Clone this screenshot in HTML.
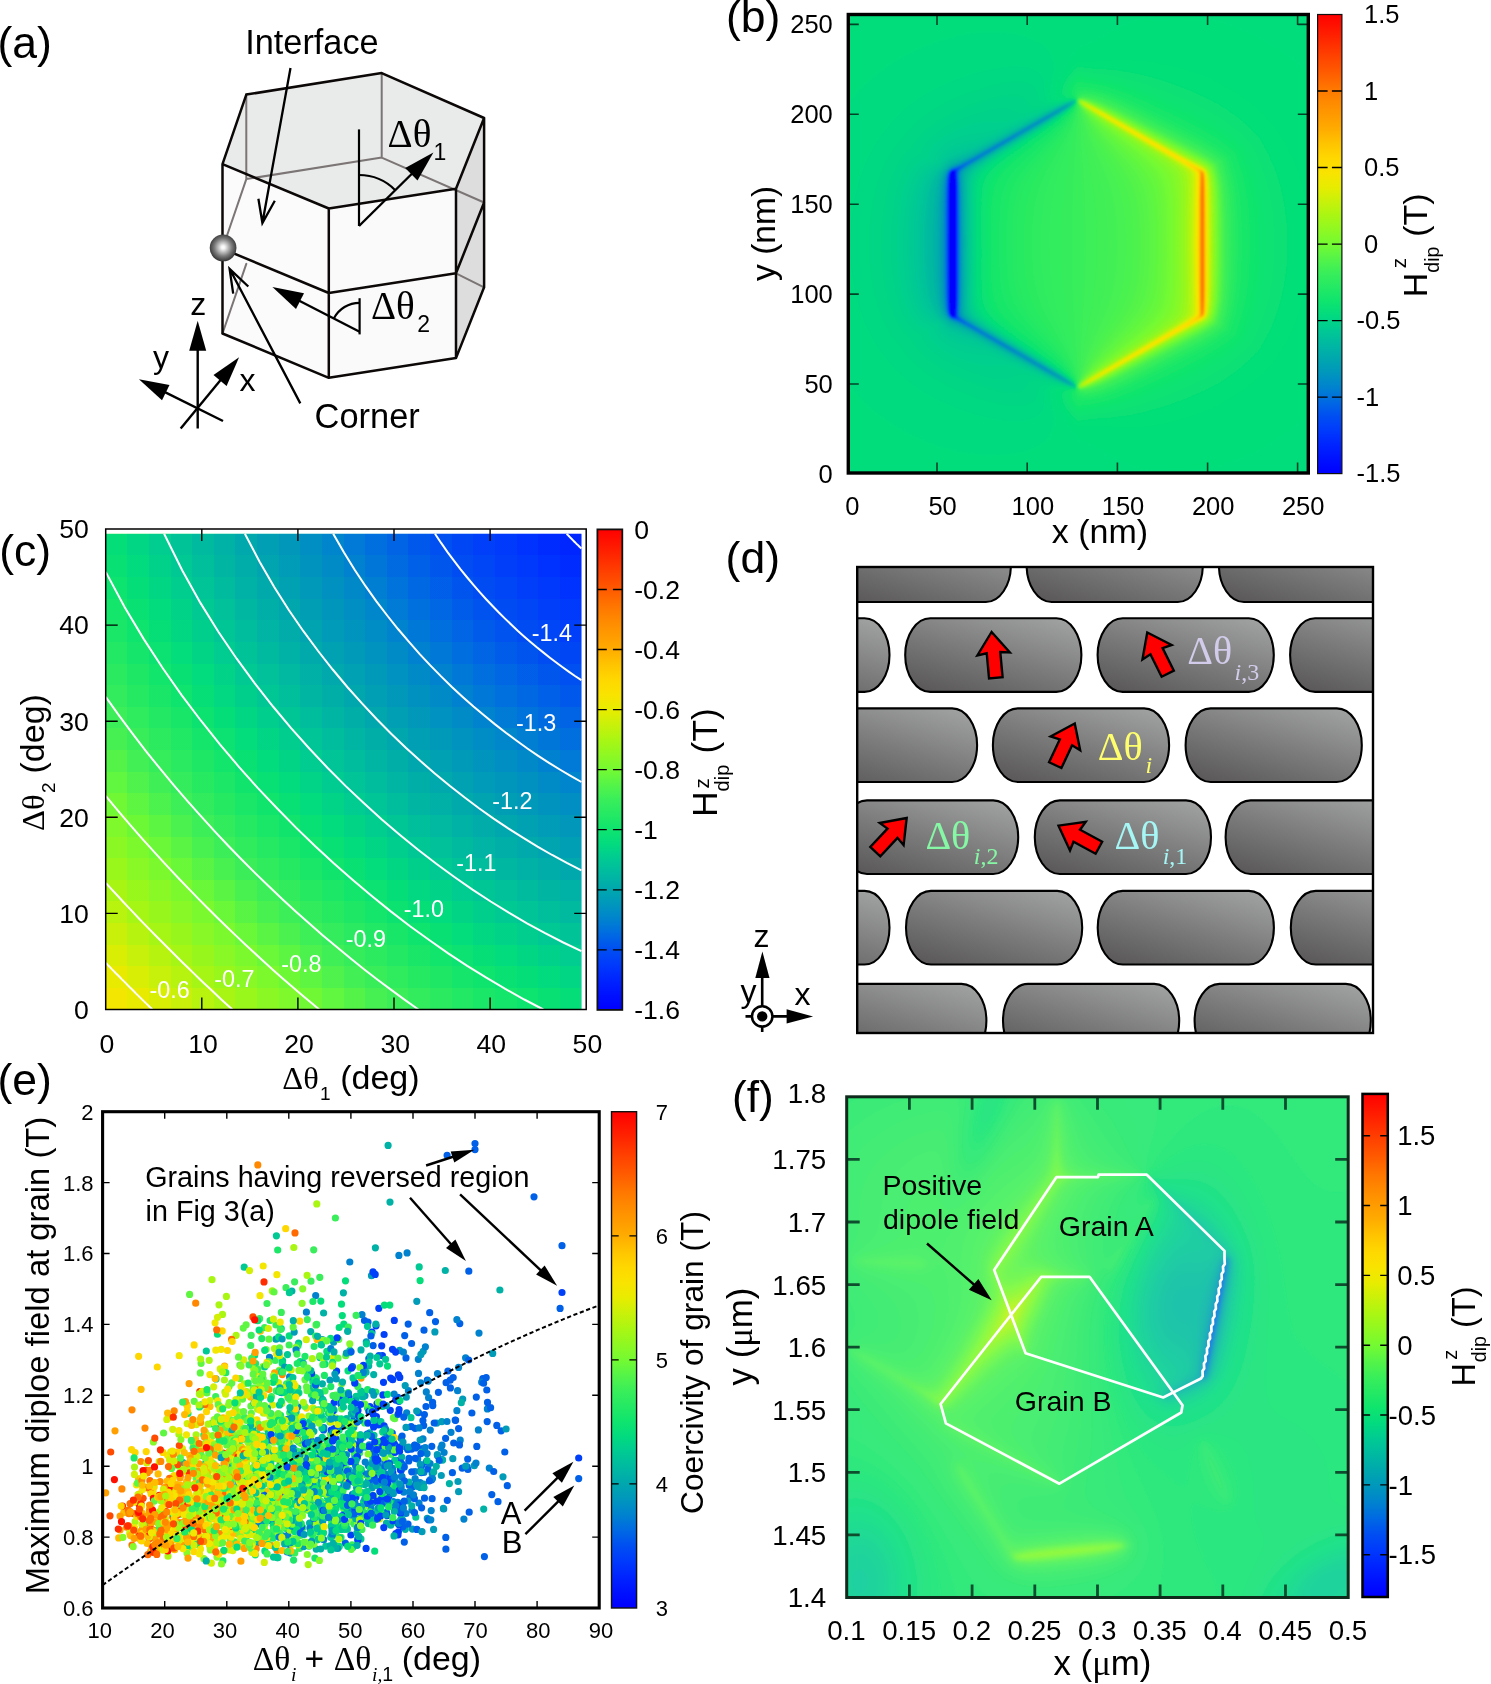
<!DOCTYPE html>
<html lang="en"><head><meta charset="utf-8"><title>Figure</title>
<style>
html,body{margin:0;padding:0;background:#fff}
svg{display:block}
text{white-space:pre}
.s{font-family:'Liberation Sans', sans-serif}
.r{font-family:'Liberation Serif', serif}
.ri{font-family:'Liberation Serif', serif;font-style:italic}
</style></head><body>
<svg width="1491" height="1684" viewBox="0 0 1491 1684" style="opacity:0.999">
<defs>
<radialGradient id="sph" cx="0.5" cy="0.48" r="0.55"><stop offset="0" stop-color="#fff"/><stop offset="0.12" stop-color="#f4f4f4"/><stop offset="0.6" stop-color="#7a7a7a"/><stop offset="1" stop-color="#2a2a2a"/></radialGradient>
<clipPath id="bclip"><rect x="848.3" y="14.5" width="460.0" height="458.5"/></clipPath>
<filter id="bblur" x="-0.02" y="-0.02" width="1.04" height="1.04"><feGaussianBlur stdDeviation="1.0"/></filter>
<linearGradient id="cga" x1="0" y1="0" x2="1" y2="0"><stop offset="0" stop-color="#070707"/><stop offset="0.0455" stop-color="#070707"/><stop offset="0.0455" stop-color="#161616"/><stop offset="0.0909" stop-color="#161616"/><stop offset="0.0909" stop-color="#242424"/><stop offset="0.1364" stop-color="#242424"/><stop offset="0.1364" stop-color="#323232"/><stop offset="0.1818" stop-color="#323232"/><stop offset="0.1818" stop-color="#404040"/><stop offset="0.2273" stop-color="#404040"/><stop offset="0.2273" stop-color="#4d4d4d"/><stop offset="0.2727" stop-color="#4d4d4d"/><stop offset="0.2727" stop-color="#5b5b5b"/><stop offset="0.3182" stop-color="#5b5b5b"/><stop offset="0.3182" stop-color="#686868"/><stop offset="0.3636" stop-color="#686868"/><stop offset="0.3636" stop-color="#747474"/><stop offset="0.4091" stop-color="#747474"/><stop offset="0.4091" stop-color="#818181"/><stop offset="0.4545" stop-color="#818181"/><stop offset="0.4545" stop-color="#8d8d8d"/><stop offset="0.5" stop-color="#8d8d8d"/><stop offset="0.5" stop-color="#989898"/><stop offset="0.5455" stop-color="#989898"/><stop offset="0.5455" stop-color="#a3a3a3"/><stop offset="0.5909" stop-color="#a3a3a3"/><stop offset="0.5909" stop-color="#aeaeae"/><stop offset="0.6364" stop-color="#aeaeae"/><stop offset="0.6364" stop-color="#b9b9b9"/><stop offset="0.6818" stop-color="#b9b9b9"/><stop offset="0.6818" stop-color="#c2c2c2"/><stop offset="0.7273" stop-color="#c2c2c2"/><stop offset="0.7273" stop-color="#cccccc"/><stop offset="0.7727" stop-color="#cccccc"/><stop offset="0.7727" stop-color="#d5d5d5"/><stop offset="0.8182" stop-color="#d5d5d5"/><stop offset="0.8182" stop-color="#dddddd"/><stop offset="0.8636" stop-color="#dddddd"/><stop offset="0.8636" stop-color="#e5e5e5"/><stop offset="0.9091" stop-color="#e5e5e5"/><stop offset="0.9091" stop-color="#ededed"/><stop offset="0.9545" stop-color="#ededed"/><stop offset="0.9545" stop-color="#f4f4f4"/><stop offset="1" stop-color="#f4f4f4"/></linearGradient>
<linearGradient id="cgb" x1="0" y1="1" x2="0" y2="0"><stop offset="0" stop-color="#070707"/><stop offset="0.0455" stop-color="#070707"/><stop offset="0.0455" stop-color="#161616"/><stop offset="0.0909" stop-color="#161616"/><stop offset="0.0909" stop-color="#242424"/><stop offset="0.1364" stop-color="#242424"/><stop offset="0.1364" stop-color="#323232"/><stop offset="0.1818" stop-color="#323232"/><stop offset="0.1818" stop-color="#404040"/><stop offset="0.2273" stop-color="#404040"/><stop offset="0.2273" stop-color="#4d4d4d"/><stop offset="0.2727" stop-color="#4d4d4d"/><stop offset="0.2727" stop-color="#5b5b5b"/><stop offset="0.3182" stop-color="#5b5b5b"/><stop offset="0.3182" stop-color="#686868"/><stop offset="0.3636" stop-color="#686868"/><stop offset="0.3636" stop-color="#747474"/><stop offset="0.4091" stop-color="#747474"/><stop offset="0.4091" stop-color="#818181"/><stop offset="0.4545" stop-color="#818181"/><stop offset="0.4545" stop-color="#8d8d8d"/><stop offset="0.5" stop-color="#8d8d8d"/><stop offset="0.5" stop-color="#989898"/><stop offset="0.5455" stop-color="#989898"/><stop offset="0.5455" stop-color="#a3a3a3"/><stop offset="0.5909" stop-color="#a3a3a3"/><stop offset="0.5909" stop-color="#aeaeae"/><stop offset="0.6364" stop-color="#aeaeae"/><stop offset="0.6364" stop-color="#b9b9b9"/><stop offset="0.6818" stop-color="#b9b9b9"/><stop offset="0.6818" stop-color="#c2c2c2"/><stop offset="0.7273" stop-color="#c2c2c2"/><stop offset="0.7273" stop-color="#cccccc"/><stop offset="0.7727" stop-color="#cccccc"/><stop offset="0.7727" stop-color="#d5d5d5"/><stop offset="0.8182" stop-color="#d5d5d5"/><stop offset="0.8182" stop-color="#dddddd"/><stop offset="0.8636" stop-color="#dddddd"/><stop offset="0.8636" stop-color="#e5e5e5"/><stop offset="0.9091" stop-color="#e5e5e5"/><stop offset="0.9091" stop-color="#ededed"/><stop offset="0.9545" stop-color="#ededed"/><stop offset="0.9545" stop-color="#f4f4f4"/><stop offset="1" stop-color="#f4f4f4"/></linearGradient>
<filter id="cmc" x="0" y="0" width="1" height="1" color-interpolation-filters="sRGB"><feComponentTransfer><feFuncR type="table" tableValues="0.992 0.967 0.943 0.918 0.882 0.838 0.794 0.75 0.706 0.662 0.623 0.584 0.546 0.507 0.469 0.426 0.382 0.337 0.292 0.251 0.22 0.189 0.159 0.128 0.097 0.066 0.041 0.02 0.007 0.005 0.002 0 0 0 0 0 0 0 0 0 0 0 0 0 0 0 0 0 0 0 0 0 0 0 0 0"/><feFuncG type="table" tableValues="0.883 0.896 0.908 0.921 0.93 0.937 0.944 0.95 0.957 0.964 0.967 0.97 0.973 0.976 0.979 0.975 0.966 0.957 0.948 0.939 0.932 0.925 0.918 0.911 0.904 0.897 0.886 0.874 0.856 0.833 0.809 0.786 0.762 0.737 0.713 0.688 0.664 0.639 0.615 0.591 0.567 0.54 0.506 0.471 0.435 0.396 0.358 0.32 0.287 0.258 0.229 0.2 0.169 0.138 0.106 0.08"/><feFuncB type="table" tableValues="0 0 0 0 0.009 0.023 0.036 0.05 0.064 0.077 0.099 0.121 0.144 0.166 0.188 0.217 0.249 0.281 0.313 0.341 0.355 0.369 0.384 0.398 0.412 0.426 0.447 0.472 0.499 0.528 0.557 0.586 0.605 0.623 0.64 0.658 0.676 0.696 0.718 0.739 0.76 0.784 0.816 0.849 0.877 0.899 0.92 0.941 0.958 0.973 0.987 1 1 1 1 1"/></feComponentTransfer></filter>
<linearGradient id="cbar" x1="0" y1="0" x2="0" y2="1"><stop offset="0" stop-color="#f00"/><stop offset="0.0312" stop-color="#ff1600"/><stop offset="0.0625" stop-color="#ff2d00"/><stop offset="0.0938" stop-color="#f40"/><stop offset="0.125" stop-color="#ff5a00"/><stop offset="0.1562" stop-color="#ff7300"/><stop offset="0.1875" stop-color="#f80"/><stop offset="0.2188" stop-color="#ff9a00"/><stop offset="0.25" stop-color="#ffac00"/><stop offset="0.2812" stop-color="#ffc400"/><stop offset="0.3125" stop-color="#ffd700"/><stop offset="0.3438" stop-color="#f9e300"/><stop offset="0.375" stop-color="#e8ec00"/><stop offset="0.4062" stop-color="#c9f10a"/><stop offset="0.4375" stop-color="#aaf613"/><stop offset="0.4688" stop-color="#8ff822"/><stop offset="0.5" stop-color="#74fa32"/><stop offset="0.5312" stop-color="#55f448"/><stop offset="0.5625" stop-color="#39ee5a"/><stop offset="0.5938" stop-color="#24e964"/><stop offset="0.625" stop-color="#0ee46e"/><stop offset="0.6562" stop-color="#02da80"/><stop offset="0.6875" stop-color="#00c994"/><stop offset="0.7188" stop-color="#00b8a2"/><stop offset="0.75" stop-color="#00a7ae"/><stop offset="0.7812" stop-color="#0096bd"/><stop offset="0.8125" stop-color="#0082cf"/><stop offset="0.8438" stop-color="#0069e3"/><stop offset="0.875" stop-color="#004ef2"/><stop offset="0.9062" stop-color="#003afc"/><stop offset="0.9375" stop-color="#0024ff"/><stop offset="0.9688" stop-color="#01f"/><stop offset="1" stop-color="#00f"/></linearGradient>
<linearGradient id="gg" x1="0.15" y1="1" x2="0.85" y2="0"><stop offset="0" stop-color="#5b5959"/><stop offset="0.5" stop-color="#7c7c7c"/><stop offset="1" stop-color="#9fa1a0"/></linearGradient><clipPath id="dclip"><rect x="857.2" y="567" width="515.8" height="466"/></clipPath>

<clipPath id="fclip"><rect x="846.7" y="1096.8" width="501.5" height="500.7"/></clipPath>
</defs>
<rect width="1491" height="1684" fill="#fff"/>
<g stroke-linejoin="round" stroke-linecap="round">
<polygon points="246.3,94.6 381.7,73.1 484.1,118 456,188.8 328.8,208.5 222.5,164.2" fill="#e9ebea"/>
<polygon points="222.5,164.2 328.8,208.5 328.8,377.8 222.5,333.5" fill="#fbfbfb"/>
<polygon points="328.8,208.5 456,188.8 456,358.1 328.8,377.8" fill="#fafafa"/>
<polygon points="456,188.8 484.1,118 484.1,287.3 456,358.1" fill="#dddddd"/>
<path d="M246.3 94.6L246.3 179.1M381.7 73.1L381.7 157.6M246.3 179.1L381.7 157.6M381.7 157.6L484.1 202.5M222.5 248.7L246.3 179.1M246.3 263.9L222.5 333.5M456 273.3L484.1 287.3" stroke="#7b7575" stroke-width="2" fill="none"/>
<path d="M246.3 94.6L381.7 73.1L484.1 118L456 188.8L328.8 208.5L222.5 164.2L246.3 94.6M222.5 164.2L222.5 333.5L328.8 377.8L456 358.1L484.1 287.3L484.1 118M328.8 208.5L328.8 377.8M456 188.8L456 358.1M222.5 248.7L328.8 293L456 273.3L484.1 202.5" stroke="#0d0808" stroke-width="2.5" fill="none"/>
</g>
<circle cx="223.1" cy="247.9" r="13.4" fill="url(#sph)"/>
<path d="M359 129.4V226" stroke="#000" stroke-width="2.2" fill="none"/>
<path d="M359 226L415.7 170" stroke="#000" stroke-width="2.4" fill="none"/><polygon points="433.4,152.6 417.5,180.6 405.2,168.1" fill="#000"/>
<path d="M359 175A51 51 0 0 1 395.3 190.2" stroke="#000" stroke-width="2.2" fill="none"/>
<path d="M359.6 298.2V334.4" stroke="#000" stroke-width="2.2" fill="none"/>
<path d="M359.6 331.8L294.4 298.3" stroke="#000" stroke-width="2.4" fill="none"/><polygon points="272.4,286.9 304,293.3 296,308.9" fill="#000"/>
<path d="M359.6 302.8A29 29 0 0 0 333.8 318.5" stroke="#000" stroke-width="2.2" fill="none"/>
<path d="M290.5 68L262.4 223M258.4 198.8L262.4 223L274.8 200.8" stroke="#000" stroke-width="2.3" fill="none" stroke-linejoin="miter"/>
<path d="M300.3 403.4L229.6 268.8M233.2 293.6L229.6 268.8L248.3 286.5" stroke="#000" stroke-width="2.3" fill="none" stroke-linejoin="miter"/>
<path d="M197.7 428.5L197.7 344.8" stroke="#000" stroke-width="2.4" fill="none"/><polygon points="197.7,320.8 206.2,350.8 189.2,350.8" fill="#000"/>
<path d="M180.7 428.5L223.9 375.9" stroke="#000" stroke-width="2.4" fill="none"/><polygon points="239.1,357.3 226.6,385.9 213.5,375.1" fill="#000"/>
<path d="M223 421L160.4 389.9" stroke="#000" stroke-width="2.4" fill="none"/><polygon points="138.9,379.2 169.5,384.9 162,400.2" fill="#000"/>
<text class="s" x="-2.6" y="57.7" font-size="44.5">(a)</text>
<text class="s" x="245.2" y="53.7" font-size="34.3">Interface</text>
<text class="s" x="314.6" y="428.1" font-size="34.4">Corner</text>
<text class="s" x="190.2" y="315.4" font-size="32">z</text>
<text class="s" x="153" y="368" font-size="32">y</text>
<text class="s" x="239.6" y="391.2" font-size="32">x</text>
<text class="r" x="387.6" y="146.9" font-size="39">Δθ</text>
<text class="s" x="433.6" y="160" font-size="23">1</text>
<text class="r" x="370.9" y="318.7" font-size="39">Δθ</text>
<text class="s" x="417.2" y="332.2" font-size="23">2</text>
<g clip-path="url(#bclip)"><rect x="843.3" y="9.5" width="470.0" height="468.5" fill="#02dd7c"/><g filter="url(#bblur)"><path d="M1160.9 472.1l9.4 0.5 9.1-0.1 9.9-0.7 9.9-1.2 9.9-1.8 9.9-2.4 9.9-2.9 9.9-3.5 9.1-3.6 9.9-4.7 9-4.8 9-5.3 9-6.1 8.1-6 15.3-13.2 0-345.1-14.4-12.5-14.4-10.4-15.3-9.2-16.2-7.9-17.2-6.6-17.1-4.9-17.1-3.2-16.2-1.4-12.7-0.1-11.7 0.9-10.8 1.7-10.8 2.8-9.9 3.5-8.1 3.6-27.4 15.8-6 2.3-5.4 1.1-8.1 11.3-7.2 12.7-5.2 12.1-1.6 5.4-0.4 3.6 0.2 2.7 0.8 1.8 2.6 2.1 3.6 0.8 10.8 0 2.7 0.7 0.4 0.9-0.1 0.9-1.2 2.3-7.2 7.1-11.7 9.3-13.5 9.6-37.8 25.7-8.5 6.2-6.3 5.4-5.1 5.6-3.6 6.1-2 7.2-0.7 8.1 0 98.9 0.5 7.2 0.7 3.6 1.5 4.5 2.4 4.5 5.4 6.3 8.4 7.2 12.4 9 30 20.2 15.3 10.7 12.6 10 7.2 7.1 1.2 2.3 0.1 0.9-0.4 0.9-2.7 0.7-10.8 0-3.6 0.8-2.6 2.1-0.8 1.8-0.2 2.7 0.4 3.6 1.6 5.4 5.2 12.2 7.2 12.6 8.1 11.4 5.4 1 6 2.3 23.8 13.9 7.2 3.6 7.2 3 8.1 2.7 8.1 2.1 8.1 1.5z" fill="#04de7a"/><path d="M1117.5 428.1l10.5 0.1 10.8-0.5 9.9-1 10.8-1.7 11.7-2.5 10.9-2.9 11.7-3.8 10.8-4.1 10.8-4.8 9-4.6 9-5.2 8.1-5.3 8.2-6 7.4-6.3 7.6-7.2 6.6-7.1 5.3-6.4 4.2-6.3 5.4-9 5.2-9.8 4-9 3.5-9 2.9-9 2.6-9.9 3.8-19.8 0-66.5-3.8-19.8-5.2-18-7-17-8.6-16.2-7-10.8-6.1-7.2-6.4-6.9-12.6-11.4-14.5-10.5-16.2-9.4-18-8.2-19.8-6.9-19.9-5-16.2-2.6-15.3-1.2-14.4 0.1-27.1 1.6-6.3-0.2-6.3-0.7-7.2 7.8-6.1 8.5-4 8.1-1.6 6.3 0.3 3.6 1.2 1.8 1.2 0.9 3.6 1.2 9 0.7 1.8 0.7 0.5 1-0.1 0.9-1.3 2.5-7.2 7.3-11.7 9.5-13.5 9.8-32.4 22.2-13.2 9.8-5.1 4.5-4.3 4.5-2.7 3.8-2.2 4.3-2.1 8.1-0.8 13.5 0 79.1 0.7 18 1.5 7.2 2.5 5.4 3.9 5.4 5.4 5.4 13.9 10.8 34.9 23.9 13.5 9.8 11.7 9.5 7.2 7.3 1.3 2.5 0.1 0.9-0.5 1-1.8 0.7-9 0.7-3.6 1.2-1.2 0.9-1.2 1.8-0.3 3.6 1.6 6.3 4 8.1 6.1 8.5 7.2 7.9 6.3-0.8 7.2-0.2z" fill="#06df78"/><path d="M1077.5 421.2l10.8-1.7 25.3-1.9 13.5-1.8 18-3.7 20.7-6 22.6-8.3 20.7-9.5 9-4.9 8.1-5 8.1-5.6 7.2-5.7 9.2-8.3 9.3-9.9 8.8-16.1 6.6-15.3 5.2-16.2 3.8-18 2.5-19.8 0.7-19.7-0.7-19.8-2.5-19.8-3.8-18-5.2-16.2-6.6-15.2-8.8-16.2-9.3-9.9-8.9-8.1-7.5-5.9-7.2-5-8.1-5.1-9-4.9-19.8-9.2-24.4-9.1-18.9-5.5-18.9-4.1-15.3-2-26.2-2-9-1.5-6.3 6.5-4.9 6.4-3.4 6.3-1.4 5.4 0.6 3.6 1.9 2.1 2.7 1.1 7.2 1.2 1.8 0.7 0.6 1.2-0.9 2.7-2.4 3.1-3.6 3.7-11.7 10-14.4 10.7-38.8 27.4-8.8 7.1-6.2 6.3-2.7 3.6-2.1 3.9-1.6 4.2-1 4.5-0.9 10.8-0.2 18 0.3 72.8 0.8 9.9 1 4.5 1.7 4.5 2.6 4.4 2.8 3.7 8.6 8.1 13 9.9 42.3 29.8 12.6 10.3 7.2 7.3 2.3 3.8 0.1 0.9-0.6 1.2-1.8 0.7-7.2 1.2-2.7 1.1-1.9 2.1-0.6 3.6 1.4 5.4 3.4 6.3 4.9 6.5z" fill="#08e075"/><path d="M1077.5 417l8.1-1.5 22.6-3 11.7-2.2 19.8-5.2 20.7-7.2 26.2-10.7 20.7-10 16.2-9.8 8.1-5.8 7.2-5.9 12.6-12.2 8.4-17.9 5.3-14.4 4-14.4 3-16.2 1.8-17.1 0.7-18.8-0.5-18-1.7-17.1-2.7-16.2-4-15.3-5.6-15.3-8.7-18.8-11.7-11.4-7.2-6-7.2-5.3-16.2-10-20.7-10.2-25.3-10.5-20.7-7.3-18.9-5.3-14.4-2.9-23.5-3.1-8.1-1.5-5.4 5.4-4 5.1-2.9 5.4-1.2 4.5 0.3 2.7 1.1 1.8 1.1 0.9 1.8 0.9 5.6 1.4 2.2 1.3 0.3 0.9-0.4 1.8-2.1 3.2-8.1 8.3-11.7 9.8-41.6 30-10.5 8-7.9 7.2-5.7 7.2-3 6.3-1.7 7.2-0.8 10.8-0.3 18.9 0.3 69.2 1.1 10.8 1.1 4.5 1.8 4.5 2.3 3.9 3.2 4.2 8.5 8.1 11.6 9 41.6 30 11.7 9.7 8.1 8.3 2.1 3.2 0.4 1.8-0.3 0.9-2.2 1.3-5.6 1.4-1.8 0.9-1.1 0.9-1.1 1.8-0.3 2.7 1.2 4.5 2.4 4.6 4 5.3z" fill="#0ae273"/><path d="M1077.5 413.7l26.2-4.3 15.3-3.4 18.9-6 21.6-8.4 28-12.3 21.6-11.1 9-5.5 7.2-4.9 7.2-5.5 7.2-6.2 6.2-6.2 8.1-19.7 5.3-17.1 2.8-13.5 2.1-14.4 1.2-15.3 0.4-16.1-0.4-16.2-1.2-15.3-2.1-14.4-2.8-13.5-5.3-17.1-8.1-19.7-6.2-6.2-7.2-6.2-7.2-5.5-7.2-4.9-9-5.5-21.6-11-28-12.4-21.6-8.4-18.9-5.9-15.3-3.5-26.2-4.3-3.7 3.6-3.7 4.5-2.6 4.5-1.2 3.6 0 2.7 1.4 2.7 2.9 1.8 4.2 1.5 1.5 1.2 0.2 0.9-0.4 1.8-3.1 4.6-8.1 8.3-10.8 9.2-39.5 29.2-10.3 8-8.7 8.1-5.4 7.2-3.2 7.2-1.8 9-0.7 13.5-0.2 27 0.1 39.5 0.4 16.2 0.7 7.2 0.8 3.6 1.3 4.5 1.6 3.6 2.7 4.4 2.9 3.7 8.4 8.1 11.4 9 39.5 29.1 10.8 9.2 8.1 8.3 3.1 4.6 0.4 1.8-0.2 0.9-1.5 1.2-4.2 1.5-2.9 1.8-1.4 2.7 0 2.7 1.2 3.6 2.6 4.5 2.9 3.6z" fill="#0ce371"/><path d="M1077.5 411l20.7-3.4 14.5-3.3 17.1-5.5 22.5-8.9 33.4-15.3 22.5-11.7 15.3-9.7 7.2-5.5 8.1-7 2.8-2.5 4.8-12.6 4.6-13.5 3.4-13.5 2.1-11.7 1.6-13.5 0.9-14.4 0.4-14.3-0.3-14.4-0.9-14.4-1.5-13.5-1.8-10.8-2.2-9.9-3.4-11.7-7.7-20.6-0.9-0.9-14.5-12.2-8.1-5.7-8.1-5-20.7-11-30.7-14.2-23.4-9.7-18.9-6.5-15.3-3.8-23.5-3.8-3.6 3.6-2.7 3.5-2 3.6-0.9 2.7-0.1 2.7 1.4 2.7 6.1 3.6 0.9 1.7-0.9 3-3.6 5-8.1 8.4-10.8 9.3-36.4 27.5-11.1 8.9-7.5 7.2-5.5 7.2-3.3 7.2-1.9 8.1-1 13.4-0.3 21.7 0.1 42.2 0.5 18 1.3 10.8 1.3 4.5 1.8 4.5 2.5 4.2 2.9 3.9 8 8.1 11.1 9 38.4 29 10.8 9.5 8.1 8.6 2.7 3.9 0.9 3-0.9 1.7-6.1 3.6-1.1 1.8-0.3 2.7 0.6 2.7 1.8 3.6 2.6 3.6z" fill="#0ee46e"/><path d="M1077.5 408.5l17.1-2.5 15.4-3.6 18-6 21.6-9 35.2-16.6 22.5-11.7 15.3-9.8 7.2-5.6 8.1-6.9 3.1-7.6 4.6-13.5 2.6-9.9 2.3-10.8 1.7-11.7 1.2-12.6 1-26.9-1-27-1.2-12.6-1.7-11.7-2.3-10.8-2.6-9.9-4.6-13.4-3.1-7.7-8.1-6.9-7.2-5.5-15.3-9.9-22.5-11.7-34.3-16.1-19.8-8.4-18-6.3-14.5-3.7-20.7-3.2-2.8 2.9-2.7 3.6-1.4 2.7-0.7 2.7 0 1.8 0.6 1.8 1.5 1.8 3.7 2.5 1 2-1 3.2-3.6 5.2-8.1 8.7-10.8 9.6-35.1 27.3-10.8 8.9-7.9 8.1-5 7.2-3.3 8.1-1.8 9.9-0.8 15.3-0.2 27 0.1 33.2 0.7 16.2 0.6 5.4 1.1 5.4 3.1 8.1 2.5 4.1 3 4 7.9 8.1 10.8 9 35.1 27.2 10.8 9.6 8.1 8.7 3.6 5.2 1 3.2-1 2-3.7 2.5-1.5 1.8-0.6 1.8 0 1.8 0.7 2.7 1.4 2.7z" fill="#11e56d"/><path d="M1077.5 406.3l11.7-1.4 8.1-1.4 8.2-2 16.2-5.3 19.8-8.2 34.3-16.1 27.9-14.3 16.2-10.1 7.2-5.3 8.1-6.7 0.8-0.9 6.1-18.9 2.6-9.9 1.9-9.9 1.7-11.7 1.1-11.7 1-27.8-0.3-15.3-0.6-13.5-1.2-12.6-1.5-10.8-2.1-10.8-2.6-9.9-6.1-18.8-0.8-0.9-14.4-11.5-15.3-9.7-26.1-13.5-36.1-17.1-18.9-8-16.2-5.5-14.5-3.4-16.2-2.1-4.2 5.1-1.9 4.5-0.1 1.8 0.5 1.8 1.3 1.8 2.6 2.2 0.9 1.3 0.2 1-0.4 1.8-1.2 2.7-4 5.6-7.2 7.9-9.9 9.2-34.4 27.7-9.4 8-7.9 8.1-5.1 7.3-3.4 8-2.1 9.9-0.9 14.4-0.3 26.1 0.1 32.3 0.8 17.1 1.6 10.8 1.4 4.5 1.9 4.5 2.6 4.5 2.7 3.6 7.6 8.1 10.4 9 34.4 27.6 9.9 9.2 7.2 8 4 5.5 1.2 2.7 0.4 1.8-0.2 1-0.9 1.3-2.6 2.2-1.3 1.8-0.5 1.8 0.1 1.8 1.9 4.5z" fill="#13e56b"/><path d="M1077.5 404.1l11.7-1 13.6-2.7 15.3-4.9 18-7.5 36.1-17.1 31.5-16.2 15.3-9.5 14.4-11.3 3.2-9.2 3.5-11.7 2-9 1.8-9.9 2.3-22.5 0.9-26.9-0.8-27.9-0.9-11.7-1.5-11.7-1.8-9.9-2-9-3.5-11.7-3.2-9.2-14.4-11.3-15.3-9.5-29.7-15.3-36.1-17.2-18.9-7.9-14.4-4.8-12.7-2.8-14.4-1.4-3.6 4.8-1.1 2.7-0.2 1.8 0.7 2.7 3.3 4.1 0 2.8-1.8 4-4.5 6.4-7.2 8.1-9 8.6-31.5 26.3-10.1 8.9-7.5 8.1-5 7.5-2 4.2-1.6 4.5-1.9 9.9-1.1 15.3-0.3 27 0.3 29.6 0.9 16.2 1.9 10.8 1.4 4.5 2.1 4.5 5.3 8.1 7.5 8.1 10.1 9 31.5 26.2 9 8.6 7.2 8.1 4.5 6.4 1.8 4 0 2.8-3.3 4.1-0.7 2.7 0.2 1.8 1.1 2.7z" fill="#16e66a"/><path d="M1077.4 402l5.5 0.1 6.3-0.5 12.7-2.5 14.4-4.8 17.1-7.1 31.5-15.1 37-18.9 15.3-9.3 14.4-11.1 5.8-18.9 3.7-18 2.2-20.7 0.9-25.2-0.5-29.6-2-24.3-1.5-9.9-2.1-9.9-3.2-11.7-3.3-9.9-13.5-10.4-14.4-9-27.9-14.5-37.9-18.4-17.1-7.5-15.3-5.4-12.7-3-11.7-1.1-3.6 0-3 4.6-0.7 2.7 0.1 1.8 0.8 1.8 1.9 2.9 0.3 1.6-0.3 1.8-2.7 5.8-5.4 7.4-7.2 8.1-8.1 7.9-27.5 23.9-8.8 8-7.6 8.1-5.1 7.2-3.8 8.1-2.5 9.9-1.3 12.6-0.6 18.9 0.1 33.2 0.8 19.8 1.7 12.6 1.5 5.4 1.8 4.5 2.3 4.5 3 4.5 7.8 9 9.7 9 29.4 25.5 8.1 8 7.2 8.3 4.5 6.4 2.7 5.6 0.2 2.8-2.6 4.5-0.4 2.7 1.1 3.6z" fill="#19e769"/><path d="M1077.9 400.2l5 0.3 5.4-0.2 11.8-2.2 13.5-4.4 16.2-6.7 29.7-14.3 42.4-21.7 14.4-8.7 13.5-10.4 5.1-16.2 3.6-17.1 2.1-18.9 1.1-23.4-0.2-33.2-0.8-13.5-1.1-12.6-1.6-10.8-2.2-10.8-2.9-10.8-3-8.9-13.6-10.4-13.5-8.3-25.2-13.2-38.8-19.1-18-8.1-13.5-5-11.8-3.2-10.8-1.4-7.2 0.4-1.2 1.7-1.2 2.7-0.3 1.8 0.5 2.7 1.6 3.6-0.4 3.6-3.5 7-7.2 9.8-6.3 7-7.2 7.3-31.7 29.1-6.6 7.2-5.2 7.2-4.3 8.4-2.8 9.6-1.6 11.7-0.7 17.1-0.1 32.3 0.8 21.6 1.8 13.5 1.4 5.4 2.1 5.4 2.3 4.5 2.9 4.5 7.4 9 9.1 9 27.9 25.5 8.1 8.5 6.3 7.7 4.5 6.7 2.7 5.9 0.3 3.2-1.6 3.6-0.5 2.7 1 3.6z" fill="#1ce767"/><path d="M1082 399l4.5 0.1 5.4-0.6 6.3-1.3 12.7-3.9 17.1-7.1 27.9-13.5 45.1-23.1 15.3-9.3 12.2-9.3 5.1-17.1 3-15.3 1.9-18 1-21.6-0.1-34.1-0.7-15.3-1-11.7-1.3-9.9-1.8-9.9-2.7-10.8-3.4-10.7-12.2-9.4-13.5-8.3-25.2-13.2-39.7-19.8-16.2-7.4-14.4-5.5-11.8-3.4-9.9-1.2-4.5 0.2-3.6 0.7-1.3 2.5-0.6 2.7 1.4 5.4 0 1.8-0.6 2.7-3 6.3-4.9 7.5-6.3 7.9-7.2 7.9-32.1 31.5-6 7.2-4.3 6.3-4.4 9-2.8 9.9-1.5 11.7-0.9 17.1-0.1 28.7 0.9 21.6 1.8 13.5 1.7 6.3 2 5.4 5 9 7 9 8.6 9 26 25.2 6.3 7 6.3 7.9 4.9 7.5 3 6.3 0.6 3.6-1.3 5.4 0 1.8 1.4 3.6 0.4 0.7z" fill="#1fe866"/><path d="M1080.9 397.5l3.8 0.4 4.5-0.2 10.9-2.1 13.5-4.7 15.3-6.6 25.2-12.3 46-23.6 14.4-8.6 12.6-9.6 4.9-16.3 3-16.2 1.8-18.9 0.9-24.3-0.2-32.3-1.7-26.1-1.2-9-1.8-9.9-2.5-9.9-3.2-10-11.7-8.9-13.5-8.3-29.7-15.4-36.1-18.1-17.1-7.8-12.6-4.9-11.8-3.3-9-1-4.5 0.4-3.6 1.3-1.2 3.2 0.8 6.3-0.8 4.5-2.8 6.3-5 8.1-5.4 7.3-7.2 8.5-29.3 30.9-5.6 7.2-4.6 7.2-4.3 9.9-2.7 10.8-1.6 13.5-0.7 18.9 0.1 26 1.1 18 2.2 13.5 1.6 5.4 2.1 5.4 4.9 9 6.8 9 7.2 8.1 22.8 23.7 6.3 7.3 5.4 7.2 5.4 8.6 3.3 7.1 0.8 4.5-0.8 5.4 0.5 2.7 0.7 1.4z" fill="#22e965"/><path d="M1082.8 396.6l7.3-0.1 10-2.1 12.6-4.4 15.3-6.6 25.2-12.4 46.9-24.2 13.5-8 11.7-8.8 0.9-0.9 3.4-11.6 1.9-8.1 1.7-9.9 2-19.8 0.9-26.1-0.3-32.3-1.6-25.2-1.2-9.9-1.7-9-5.1-18.8-10.8-8.4-13.5-8.3-66.7-34.1-17.1-7.9-12.6-4.9-10.9-3.1-8.1-1-5.4 0.6-1.8 0.6-1.8 1.4-0.7 3 0.3 5.4-0.9 4.5-3.2 7.6-4.5 7.8-4.5 6.6-6.3 8.1-26.9 31-5.8 8.1-4.2 7.2-4 9.9-2.7 11.7-1.6 14.4-0.6 18.9 0.2 23.3 1.3 18 2.4 12.6 3.8 10.8 4.3 8.1 6.2 9 6.7 8.1 20 22.7 9.9 13.1 5.4 8.8 3.6 7.8 1.3 5.1-0.2 6.3 0.7 3 1.8 1.4z" fill="#25e963"/><path d="M1084.1 395.7l7.8-0.4 10-2.5 12.6-4.7 14.4-6.4 23.4-11.6 48.7-25.2 12.6-7.6 10.8-8.1 0.7-0.9 3.6-12.6 1.8-8.1 1.6-9.9 1.8-20.7 0.7-27-0.4-32.3-1.6-23.4-1.4-10.8-1.8-9-3.7-13.5-0.6-1.8-0.7-0.8-10.8-8.2-12.6-7.6-68.5-35-15.3-7.1-12.6-4.9-10-2.8-8.1-1.1-5.4 0.7-1.8 0.8-1.4 1.3-0.7 1.8-0.1 6.3-1.1 5.4-3 7.4-4.1 7.9-9.4 14.1-24 30.8-5.3 8.1-3.8 7.2-4.1 10.8-2.6 11.7-1.7 15.3-0.6 18.9 0.4 20.6 1.2 16.2 2.5 13.5 3.7 10.8 4 8.1 5 8.1 6.7 9 18.6 23.6 5.4 7.8 4.5 7.3 3.6 6.9 3 7.4 1.1 5.4 0.1 6.3 0.7 1.8 2.3 1.7z" fill="#28ea62"/><path d="M1084.6 394.8l7.3-0.5 10-2.5 12.6-4.8 15.3-6.9 70.3-36 12.6-7.6 11-8.2 2.1-6.3 2.4-9 2.7-16.2 1.6-19.8 0.7-27-0.4-31.4-1.5-24.3-2.7-18-2.5-9.9-2.4-7.2-10.1-7.6-11.7-7.2-70.3-36.1-15.3-7-11.7-4.7-10-2.9-8.1-1-5.4 0.7-1.8 1-1 1-0.8 1.8-0.5 7.2-1.3 5.8-2.7 7.3-3.1 6.7-8.6 14.7-21.1 31.1-4.2 7.2-3.5 7.6-3.7 10.4-2.7 12.6-1.6 15.3-0.6 18 0.4 19.7 1.3 15.3 2.3 12.6 3.6 11.7 3.6 8.1 4.5 8.1 21.7 32 8.6 14.7 3.7 8.1 2.5 7.2 0.9 4.5 0.3 6.3 0.5 1.8 0.6 1.1 1.8 1.4z" fill="#2beb61"/><path d="M1084.1 393.9l6.9-0.3 9.1-2.2 11.7-4.3 14.4-6.4 21.6-10.8 52.3-27 11.7-7 10.8-8.1 1.5-4 2.7-9.9 2.7-15.3 1.7-19.8 0.7-27-0.3-33.2-1.5-24.3-2.7-18-2.5-9.9-2.3-6.7-9.9-7.5-11.7-7-71.2-36.6-14.4-6.7-11.7-4.6-10-2.9-7.2-0.9-5.4 0.8-1.8 1-1.5 1.9-0.4 1.8-0.3 6.3-1 5.4-1.9 6.3-3 7.7-7.2 14.7-18 31.5-6.5 14.4-3.6 11.7-2.4 12.6-1.4 14.4-0.6 17.1 0.4 18.8 1.3 15.3 2.1 12.6 3.3 11.7 3.1 8.1 4.3 9 18 31.5 7.2 14.7 3 7.7 1.9 6.3 1 5.4 0.3 6.3 0.4 1.8 0.6 1 1.8 1.5z" fill="#2deb5f"/><path d="M1086.5 393.2l3.6-0.3 9-2.1 10.9-3.9 13.5-6 21.6-10.7 54.1-28 11.7-6.9 10.7-7.9 1.2-2.7 2.8-9.9 2.7-15.3 1.7-18.9 0.7-25.2-0.2-35-1.4-25.2-1.3-10.8-1.4-8.1-2.5-9.9-2.2-6.1-9-6.9-11.7-7.1-72.1-37.1-15.3-7.1-10.8-4.2-9.1-2.6-7.2-1-5.4 0.7-1.8 1-1.5 2.1-1.2 12.8-1.8 7.5-2.4 7.6-5.7 14.3-13.9 30.6-5.1 13.5-3.1 11.7-2.3 12.6-1.4 14.4-0.6 16.2 0.2 17.9 1.1 15.3 1.9 13.5 2.6 11.7 2.5 8.1 3.4 9 14.7 32.4 6 15.2 2.3 7.2 1.6 7 1.2 12.8 1.5 2.1 1.8 1z" fill="#30ec5e"/><path d="M1081.9 392.1l2.8 0.4 3.6-0.1 8.1-1.6 10.9-3.7 14.4-6.3 21.6-10.7 56.8-29.5 10.8-6.4 9.9-7.4 1.5-3.9 2.5-9 2.5-14.4 1.5-17.1 0.8-25.2-0.2-35-1.2-26.1-1.2-10.8-1.4-8.1-2-8.1-2.5-8.1-9.3-7.1-10.8-6.5-72.1-37.2-15.3-7.1-10.8-4.3-10-3-7.2-0.8-2.7 0.2-2.7 0.8-1.8 1.4-0.7 1.6-0.6 12.6-2.7 13.5-4.4 15.3-10.1 30.5-3.5 12.6-2.7 12.6-1.8 12.6-1.1 14.4-0.5 15.3 0.1 17 0.8 15.3 1.4 13.5 2.1 12.6 4.4 17.1 11.2 34.4 4.3 15 2.5 12.6 0.6 12.6 0.7 1.6 0.9 0.8z" fill="#33ed5d"/><path d="M1080.8 391.2l2.1 0.6 3.6 0.1 8.1-1.4 10.9-3.6 14.4-6.2 21.6-10.7 58.6-30.4 10.8-6.5 8.9-6.6 0.7-0.9 2.9-9.9 2.8-14.4 1.5-17.1 0.8-23.4-0.1-37.7-1.2-27-1.2-10.8-1.3-8.1-2.5-9.9-1.7-5.4-0.6-0.7-9-6.8-10.8-6.5-73-37.6-13.5-6.3-11.7-4.7-9.1-2.7-7.2-1-2.7 0.2-2.7 0.7-1.8 1.4-0.8 2 0.2 10.8-1.2 10.6-2.7 15.7-7 35.7-2.9 18.9-1.8 19.8-0.9 22.5 0.4 34.1 0.9 14.4 1.4 13.5 2.9 18.9 7 35.7 2.7 15.7 1.2 10.6-0.2 10.8 0.8 2z" fill="#36ed5b"/><path d="M1082.8 391.2l6.4-0.2 8.1-2 10-3.6 14.4-6.5 19.8-9.9 58.6-30.4 10.8-6.5 8.1-6.1 1.4-3.1 2.6-9 2.6-15.3 1.4-18.9 0.6-27.9-0.3-34.1-1.2-24.3-2.3-16.2-1.7-7.2-2.6-8.1-8.6-6.5-10.8-6.5-74.8-38.6-13.5-6.3-11.7-4.6-9.1-2.5-6.3-0.7-3.6 0.4-1.8 0.8-0.9 0.8-0.7 1.7 0.7 15.3-4.2 63.8-0.8 23.4-0.4 27 0 33.2 0.5 27.9 1.5 33.3 3.3 47.6 0.1 6.3-0.7 9 0.3 1.8 1.3 1.6z" fill="#39ee5a"/><path d="M1080.6 390.3l2.3 0.5 3.6-0.1 8.1-1.6 10.9-3.8 12.6-5.5 19.8-9.8 62.2-32.3 9.9-5.9 8.3-6.2 1-1.8 2.6-9 2.6-14.4 1.5-17.1 0.6-23.4-0.1-39.5-1.3-27-1.1-9.9-1.5-8.1-2.4-9-1.2-3.6-0.7-0.9-8.3-6.2-9.9-5.9-74.8-38.6-13.5-6.4-10.8-4.4-9.1-2.7-7.2-1-2.7 0.1-2.7 0.9-1.2 1.3-0.4 1.8 1.5 12.6 1 30.6 3.5 49.4 1.1 38.7-0.1 29.6-0.8 27-3.7 54.8-1 30.6-1.5 12.6 0.7 2.3z" fill="#3cef59"/><path d="M1082.2 390.3l6.1-0.3 8.1-2.1 11.8-4.4 13.5-6.2 78.4-40.5 9.9-5.9 8.1-6.2 2.3-7.2 1.6-6.3 2.1-13.5 1.2-19.8 0.6-27-0.3-34.1-1.3-24.3-2.3-16.2-1.6-6.3-2.3-7.2-8.1-6.2-9.9-5.9-76.6-39.6-13.5-6.3-10.9-4.3-9-2.6-6.3-0.8-2.7 0.3-1.8 0.6-0.9 0.7-0.5 1.2-0.1 1.8 2.3 11.7 3.7 28.4 7.3 36.3 2.7 17.1 2 23.4 0.7 27.9-0.8 25.1-2.2 22.5-2.6 16.2-7.1 35.4-3.7 28.4-2.3 11.7 0.1 1.8 0.5 1.2 1.8 1.1z" fill="#3fef57"/><path d="M1079.7 389.4l2.3 0.6 3.6-0.1 8.1-1.7 10-3.6 12.6-5.5 19.8-9.9 64-33.2 9-5.4 7.9-5.9 1.2-2.7 2.2-7.2 2.5-13.5 1.3-16.2 0.7-23.4 0-40.4-1.2-27-0.9-9-1.6-9-2.1-8.1-2.1-5.4-7.9-5.9-9-5.4-76.6-39.6-13.5-6.4-10.9-4.4-9-2.7-6.3-0.9-3.6 0.4-1.8 1.1-0.5 1.8 0.2 1.8 2.8 10.8 5.6 24.9 12.2 38 4.5 18 1.9 11.7 1.3 12.6 0.8 14.4 0.1 16.2-1.2 23.3-1.2 10.8-1.7 9.9-4.2 17.1-10 30.5-3.8 13.5-4.3 19.8-2.8 10.8-0.1 2.7 0.4 0.9z" fill="#42f056"/><path d="M1080.4 389.4l2.5 0.3 2.7-0.2 9-2.2 10-3.7 12.6-5.7 82.9-42.7 9-5.4 7.2-5.5 1.5-3.2 2.1-7.2 2.4-13.5 1.3-18 0.6-26.1-0.2-37.7-1.1-25.2-1-9-1.4-8.1-2.1-8.1-2.1-5-7.2-5.5-9-5.4-79.3-41-13.5-6.3-10-3.9-8.1-2.4-6.3-0.9-2.7 0.3-1.8 1.1-0.5 1.6 0.5 2.9 10.5 32.2 4.4 10.8 13.1 29.6 3.5 9.9 2.7 9.9 2.1 10.8 1.4 11.7 0.8 13.5 0.2 14.4-0.4 13.4-1 12.6-1.4 10.8-2.3 10.8-2.4 8.1-3.2 9-14.5 32.8-5.4 14.4-8.3 26.5-0.3 1.8 0.5 1.6z" fill="#46f153"/><path d="M1080.2 389.2l2.7 0.2 8.1-1.5 10-3.4 14.4-6.4 18-9 65.8-34.2 9-5.3 7.7-5.8 3.3-9.9 2.2-11.7 1.3-16.2 0.7-22.5 0-41.3-1.1-27.9-0.9-9-1.4-8.1-1.8-7.2-2.3-6.3-6.8-5.2-8.1-4.9-80.2-41.6-11.7-5.5-10.9-4.5-8.1-2.6-7.2-1.3-2.7 0.2-1.8 1.1-0.3 2.3 1.2 4 11.7 28.3 5.4 10.7 16 28.9 4.4 9.9 3.4 9.9 2.5 10.8 1.8 12.6 1 14.4 0.2 17.1-0.6 15.2-1.3 13.5-2.1 11.4-2.9 10.2-3.1 8.1-3.7 8.1-16 28.7-6.8 14-10.8 26.8-0.4 2.4 0.4 1.4z" fill="#4af250"/><path d="M1081.1 389.1l2.7-0.1 7.2-1.5 10.9-4 11.7-5.2 18-9 67.6-35.1 9-5.3 6.7-5.1 1.1-1.8 2.3-7.2 2.4-12.6 1.4-18 0.7-26.1-0.2-39.5-1.1-25.2-0.9-9-1.2-7.2-1.9-7.2-2.1-5.7-6.3-5-8.1-5-81.1-42-11.7-5.6-10.9-4.5-9-2.9-6.3-0.9-2.7 0.4-1 1.1 0.1 2.9 1.8 4.3 9 18.4 5.4 9.9 6.4 10.2 12.7 19 5.4 9 4.6 9 3.1 8.1 3 10.8 1.9 12.6 1.1 15.3 0.3 18-0.6 17-1.3 13.5-2.3 11.7-3.4 10.8-3.5 8.1-4.4 8.1-19.4 29.5-7.2 12.4-12 24.6-0.9 3.6 0.3 1.3z" fill="#4ef24d"/><path d="M1079.4 388.5l1.7 0.4 2.7-0.1 7.2-1.8 10-3.6 13.5-6.1 85.6-44.3 8.1-4.9 6.3-4.9 1.5-3 1.9-6.3 2.4-13.5 1.2-17.1 0.6-25.2-0.2-38.6-1-26.1-0.8-8.1-1.3-8.1-1.9-7.2-2.1-5.4-5.7-4.6-8.1-5-81.1-42.1-13.5-6.4-10-4.2-9-2.8-5.4-0.9-2.7 0.4-0.9 0.7-0.2 1.1 0.6 2.7 2.3 4.6 9 15.7 6.3 10 6.4 8.9 15.3 20.1 5.6 8.1 5.2 9 3.7 8.1 3.4 11.7 2.1 12.6 1.1 16.2 0.3 19.8-0.7 17.9-1.4 14.4-2.5 11.7-3.4 9.9-4 8.1-5 8.1-22.4 30.1-9.1 13.7-11.7 20.6-1.1 3.9 0.2 1.1z" fill="#52f34a"/><path d="M1079.9 388.5l2.1 0.2 2.7-0.4 7.2-1.9 10-3.9 13.5-6.3 84.7-43.9 7.2-4.3 6.7-5.1 1.6-3.6 2-6.3 2.2-13.5 1.2-19.8 0.5-28.8-0.3-35.9-1.1-23.4-0.9-8.1-1.4-8.1-1.8-6.3-2-4.5-6.7-5.1-7.2-4.3-82.9-43-11.7-5.6-10.9-4.5-8.1-2.5-5.4-0.8-1.8 0.4-0.9 0.7 0 2.2 1.8 3.9 4.5 7.1 7.2 10.8 7.3 9.9 22 26.3 6.3 8.1 5.9 9 4.1 8.1 3.6 10.8 2.3 12.6 1.2 16.2 0.4 21.6-0.6 19.7-1.3 14.4-2.5 12.6-3.9 10.8-4.4 8.1-5.5 8.1-24.9 30.1-11.8 15.9-9 13.8-2.2 4-0.7 2.7 0.2 0.9z" fill="#56f447"/><path d="M1081 388.5l4.6-0.6 8.1-2.6 10.9-4.5 12.6-6 83.8-43.7 7.2-4.4 5.4-4.3 2-4.9 1.6-5.4 1.2-6.3 1-8.1 1.1-20.7 0.3-32.3-0.3-33.3-1.1-21.6-1-8.1-1.2-6.3-1.6-5.4-2-4.9-5.4-4.3-7.2-4.4-83.8-43.7-12.6-6-10.9-4.5-8.1-2.6-4.5-0.6-1.8 0.3-0.7 0.6-0.2 1.9 1.8 3.8 4.5 6.5 8.1 10.8 8.2 10 23.4 25.5 6.9 8 5.9 8.1 4.5 8.1 2.2 5.4 1.7 5.4 2.4 12.6 1.4 16.2 0.4 21.6-0.4 21.5-1.4 16.2-2.4 12.6-1.7 5.4-2.2 5.4-4.5 8.1-5.9 8.1-6.9 8.1-23.4 25.5-8.2 9.9-8.1 10.9-4.5 6.4-1.8 3.8 0.2 1.9 0.7 0.6z" fill="#5bf544"/><path d="M1078.7 387.6l1.5 0.7 1.8 0 5.4-1.2 9.9-3.6 13.6-6.1 90.1-46.9 6.3-3.8 5.4-4.2 1.3-2.3 2.2-6.3 2.2-12.6 1.2-17.1 0.6-26.1-0.1-39.5-1-25.2-0.9-9-1.2-7.2-1.6-6.3-2.2-5.4-5-4.1-7.2-4.4-82.9-43.3-12.6-6.1-10.9-4.7-8.1-2.8-5.4-0.9-1.8 0.2-0.6 0.5-0.2 1.8 1.7 3.5 3.6 4.9 9 11 8.2 9.1 26 26.4 7.5 8 7 9 4.7 8.1 2.2 5.4 1.7 5.4 2.4 13.5 1.2 18 0.2 26.9-0.6 21.6-1.6 14.4-2.6 11.7-2.1 5.4-2.2 4.5-5.2 8.1-6.7 8.1-29.2 29.7-12.7 14.1-10.8 13.8-1.7 3.5z" fill="#5ff641"/><path d="M1078.9 387.6l1.3 0.6 1.8 0 7.2-1.9 9-3.6 13.6-6.3 88.3-46 7.2-4.3 5.1-4.1 1.8-3.6 1.7-5.4 2-11.7 1.2-17.1 0.5-26.1-0.1-40.4-1-25.2-0.9-9-1.3-7.2-1.8-6.3-2.1-4.5-5.1-4.1-7.2-4.3-27.5-14-55.4-29.3-12.6-6.2-10.9-4.7-7.2-2.5-5.4-1.1-2.2 0.6-0.5 0.9 0.2 0.9 1.6 3.2 3.6 4.6 8.1 9.2 10 10.3 27.3 25.8 8.1 8 7.5 9 5 8.1 2.3 5.4 1.7 5.4 2.4 13.5 1.1 18 0.2 29.6-0.6 23.4-1.6 14.4-2.5 10.8-2.2 5.4-2.3 4.5-5.6 8.1-7.1 8.1-31.9 30.2-14.5 15.1-9 10.8-1.6 3.2-0.2 0.9z" fill="#63f73e"/><path d="M1079.1 387.6l1.1 0.4 1.8 0 6.3-1.7 9-3.6 13.6-6.3 64-33.8 25.2-12.8 6.3-3.7 5.3-4.1 1.5-2.7 1.9-5.4 1.4-6.3 0.9-6.3 1.1-17.1 0.5-27-0.1-41.3-1.1-25.2-1-9-1.2-6.3-2-6.3-1.8-3.4-4.5-3.7-6.3-3.8-27.8-14.2-56.9-30.2-22.6-10.5-8.1-3-4.5-0.9-2 0.5-0.6 0.9 0.2 0.9 1.5 3 4.5 5.3 17.2 17.2 29 25.8 8.6 8 8.1 9 3.2 4.5 2.6 4.5 2.4 5.4 1.6 5.4 2.2 13.5 1 18 0.2 32.3-0.6 23.4-1.6 14.6-1.2 6.1-1.5 4.9-2 5-2.5 4.5-5.2 7.2-7.6 8.1-34.9 31.2-15.4 15-8.1 9.3-1.5 2.9-0.2 0.9z" fill="#67f73b"/><path d="M1079.2 387.6l1 0.3 2.7-0.3 7.2-2.2 9-3.8 12.7-6.1 60.3-32 28.9-14.7 6.3-3.9 4.5-3.8 2-4.5 1.3-4.5 1.9-11.7 1-17.1 0.5-27-0.1-38.6-1-25.2-0.7-8.1-1.2-7.2-1.4-5.4-2.3-5.4-4.5-3.8-6.3-3.9-28.9-14.7-56.7-30.2-22.6-10.6-7.2-2.6-4.5-1-1.9 0.3-0.6 0.9 0.2 0.9 1.4 2.7 4.5 5.1 18.1 17 29.4 24.7 10.1 8.9 8.4 9 5.5 8.1 2.5 5.4 1.7 5.4 2.3 14.4 0.9 18.9 0.1 34.1-0.6 23.4-1.5 14.4-1.2 6.1-1.4 4.7-1.9 4.5-2.5 4.5-6.2 8.1-8 8.1-35.8 30.2-16.3 14.9-8.1 8.8-1.4 2.7-0.2 0.9z" fill="#6bf838"/><path d="M1079.5 387.6l3.4-0.1 6.3-2 9-3.8 12.7-6.1 61.9-33 27.3-13.9 6.3-3.7 4.8-3.9 1.7-3.6 1.5-4.5 1.3-6.3 0.8-6.3 1-18 0.5-27-0.2-40.4-1-24.3-0.8-8.1-1.2-6.3-1.5-5.4-2.1-4.5-4.8-3.9-6.3-3.7-27.3-13.9-58.3-31.1-20.8-9.9-7.2-2.8-5.4-1.4-1.8 0.3-0.5 0.8 0 0.9 1.4 2.5 4.5 4.9 17.2 15.4 33.3 26.7 9.5 8 8.8 9 5.7 8.1 2.1 4.6 1.8 5.7 2.3 14 0.8 18.9 0.1 37.7-0.5 24.3-1.6 14.4-1.1 5.4-1.5 4.5-2 4.5-2.7 4.5-5.8 7.2-8.4 8.1-37.2 29.9-18.1 15.8-4.5 4.4-3.1 3.8-1 2.7z" fill="#6ff935"/><path d="M1080 387.6l3.8-0.5 7.2-2.6 20.8-9.8 61.7-33 27.5-14 5.4-3.3 4.1-3.3 1.9-3.6 1.8-5.4 1.9-12.6 1-19.8 0.4-34.1-0.3-36.9-1.1-20.7-1.9-12.6-1.8-5.4-1.9-3.6-4.1-3.3-5.4-3.3-27.5-14-61.7-33-20.8-9.8-7.2-2.6-3.6-0.5-0.9 0.2-0.4 0.7 0.4 1.8 2.7 3.5 4.5 4.3 18.1 15.2 29.9 22.9 11.2 9 9.5 8.9 3.4 4.2 2.7 3.9 2.3 4.5 1.9 5.4 2.1 12.7 0.9 17 0.2 33.3-0.2 28.7-1 15.3-1 7.2-1.3 5.4-2 5.4-2.4 4.5-5.6 7.2-9.5 9-11.2 8.9-29.9 22.9-17.2 14.3-7.5 7.8-1 2.7 0.4 0.7z" fill="#74fa32"/><path d="M1079 386.7l0.3 0.5 1.8 0.3 4.5-1.1 9-3.7 11.8-5.6 67.9-36.3 26.7-13.6 5.4-3.3 3.6-2.9 1.6-2.6 1.9-5.4 2-11.7 1-18 0.5-29.7-0.2-40.4-1-23.4-0.9-8.1-1.2-6.3-1.7-5.4-2-3.4-3.6-3-5.4-3.3-28.4-14.5-60.8-32.6-21.7-10.3-6.3-2.3-3.6-0.6-1.2 0.8 0.4 1.8 1.7 2.3 4.5 4.4 19 15.4 32.3 23.8 12.6 9.9 9.5 8.9 3.2 4.1 2.6 4 2 4.5 1.5 5.4 1.9 14.4 0.6 18 0 45.8-0.4 22.5-1.6 13.5-2.4 9-2.1 4.5-2.4 3.6-6.4 7.2-9.3 8.1-40.7 30.2-14.5 11.5-9.9 9.1-1.8 2.4z" fill="#77fa30"/><path d="M1079.1 386.7l1.1 0.7 0.9 0 4.5-1.2 9-3.7 12.7-6.2 66.1-35.5 27.6-14 5.4-3.4 3.6-3 1.9-3.8 1.4-4.5 1.8-11.7 1-18 0.4-29.7-0.2-40.4-1-22.5-0.8-8.1-1.2-6.3-1.4-4.5-1.9-3.8-3.6-3-5.4-3.3-27.6-14.1-62.5-33.7-20.8-9.9-7.2-2.7-2.7-0.3-1.1 0.7 0 0.9 1.1 1.9 7.2 6.9 17.2 13.4 33.2 23.7 13.2 9.9 9.9 8.9 3.1 3.7 3 4.4 2 4.5 1.3 4.6 1.4 8 0.6 7.2 0.5 18 0 50.3-0.4 20.7-1.5 13.5-1 4.5-1.6 4.5-1.9 3.6-2.4 3.6-5.8 6.3-9.5 8.1-43.2 31.1-16.3 12.5-8.1 7.4-1.8 2.4z" fill="#7bf92e"/><path d="M1079.2 386.7l1 0.6 0.9 0 4.5-1.2 8.1-3.5 10.9-5.2 69.7-37.5 26.7-13.6 4.5-2.7 3.2-2.5 1.5-1.8 1.9-4.5 1.2-4.5 1-6.3 1.2-17.1 0.5-27.9-0.1-43.1-0.9-25.2-0.8-8.1-1.1-6.3-1.7-5.4-1.8-3.6-4.1-3.4-4.5-2.7-28.4-14.5-60.8-32.9-19.9-9.7-7.2-3-3.6-0.9-0.9 0-1 0.6 0.5 1.8 2.3 2.8 4.5 4 19 14.4 34.3 23.8 13.5 9.9 10.1 8.9 3.3 3.9 2.8 4.2 1.9 4.5 1.2 4.5 1.6 14.4 0.4 17.1 0 59.3-0.5 18-1.7 12.6-1.3 4.5-1.6 3.6-4.4 6.3-6.4 6.3-9 7.2-44.2 30.9-14.5 10.8-9 7.6-2.3 2.8z" fill="#7ef92c"/><path d="M1079.3 386.7l1.8 0.5 5.4-1.6 18.1-8.5 68.9-37.2 27.5-14 4.5-2.8 2.7-2.1 1.6-1.7 1.9-4.5 1.4-5.4 0.8-5.4 1.2-17.1 0.5-27.9-0.1-42.2-0.9-26.1-0.8-8.1-1.3-7.2-1.5-4.5-1.9-3.5-3.6-3-4.5-2.8-27.5-14-60.8-33-21.7-10.7-6.3-2.6-3.6-0.9-1.8 0.4 0.5 1.8 2.2 2.6 4.5 3.9 17.2 12.8 37.8 25.7 13.8 9.9 10.4 8.9 3.2 3.6 2.4 3.6 1.6 3.6 1.4 4.5 1.3 9 0.4 6.3 0.3 80-0.4 16.2-1.6 12.6-1 3.6-1.6 3.6-4.3 6.3-6.5 6.3-10.4 8.1-44.1 30-16.3 11.8-9 7.7-1.8 2.6z" fill="#82f92a"/><path d="M1079.5 386.7l0.7 0.3 1.8-0.1 4.5-1.5 19-9 67.3-36.5 29.1-14.9 3.6-2.3 3.1-2.5 1.7-2.7 1.3-3.6 1.3-5.4 0.8-6.3 1-17.1 0.4-27-0.1-42.2-0.8-25.2-0.8-8.1-1.1-6.3-1.3-4.5-1.9-3.9-2.7-2.4-4.5-3-29.1-14.9-61.9-33.7-19.9-9.9-6.3-2.6-3.6-0.9-1.6 0.3-0.1 0.9 0.5 0.9 3 3.3 4.5 3.7 17.2 12.4 39.8 26.5 12.8 9 5.7 4.4 5 4.5 3.1 3.6 2.4 3.6 1.6 3.6 1.2 4.5 1.5 14.4 0.2 84.5-0.5 15.3-1.6 11.7-2.4 6.3-4.7 6.3-6.9 6.3-9.6 7.2-44.9 30-15.4 10.8-9.9 8-2.1 2.4-0.5 0.9z" fill="#86f928"/><path d="M1079.7 386.7l2.3 0.1 4.5-1.6 19.9-9.5 65.7-35.8 28.9-14.8 4.5-2.8 2.6-2.1 1.3-1.8 1.8-4.5 1.1-4.5 0.9-6.3 1.1-17.1 0.4-29.7-0.1-40.4-0.8-25.2-1.6-13.5-1.6-5.4-1.7-3.6-3.4-3-4.5-2.8-28.9-14.8-60.3-32.9-21.7-10.9-6.3-2.5-2.7-0.7-1.4 0.2-0.1 0.9 0.6 1.2 2.7 2.8 4.5 3.7 19 13.3 38 24.9 14.4 9.9 5.9 4.4 5.1 4.5 3.2 3.6 2.4 3.6 1.5 3.6 0.9 3.6 1.4 14.4 0.2 87.2-0.5 14.4-1.3 10.9-2.2 6.2-2.3 3.5-2.4 2.8-6 5.4-9.6 7.2-46 30.2-18.1 12.4-9 7.3-2 2.2-0.4 0.9z" fill="#89f826"/><path d="M1080 386.7l2.9-0.3 5.4-2.1 18.1-8.8 66.7-36.5 28.8-14.8 3.6-2.3 2.7-2.3 1.7-3 1.5-4.5 1.7-10.8 0.9-18 0.3-28.8-0.1-41.3-0.9-23.4-1.7-13.5-1.3-4.5-1.8-3.6-3-2.6-3.6-2.3-28.8-14.8-63.1-34.5-19.9-10-6.3-2.6-2.7-0.7-1.1 0.1-0.3 0.9 0.5 1 6.3 5.7 18.1 12.7 42.4 27.4 13.3 9 6 4.4 5.2 4.5 3.3 3.6 2.4 3.6 1.3 3.2 0.9 3.7 1.2 13.8 0.1 90.8-0.3 12.6-1.3 10.8-1.1 3.6-1.3 2.7-4.3 5.4-7.2 6.3-10 7.2-45.2 29.1-17.2 11.6-10.8 8.4-1.9 2.1-0.4 0.9z" fill="#8df824"/><path d="M1079.8 385.8l0.4 0.9 3.6-0.7 6.3-2.6 10.9-5.4 74.8-40.7 25.2-13 3.6-2.1 2.7-2.2 1.4-1.6 1.9-4.5 1.1-4.5 0.8-6.3 1-17.1 0.4-29.7-0.1-42.2-0.8-24.3-0.8-8.1-0.9-5.4-1.4-4.5-1.8-3.6-2.6-2.2-4.5-2.8-26.9-13.8-65-35.7-19-9.6-6.3-2.6-2.7-0.7-0.9 0.1-0.4 0.8 0.5 0.9 2.6 2.7 5.4 4.3 18.1 12.3 43.2 27.5 13.4 9 10.2 8 3.3 3.6 2 2.9 1.4 3.4 0.9 3.6 1.1 12.6 0.1 95.3-0.3 11.7-1.5 10.8-2.4 5.4-4.6 5.4-6.6 5.4-11.5 8.1-59.6 38.2-10.8 7.9-3.6 3.2z" fill="#91f822"/><path d="M1080 385.8l0.2 0.6 0.9 0.1 3.6-1 17.2-8.1 73.3-40.1 26.7-13.8 5.4-3.9 1.5-2.1 1.7-4.5 1.7-9.9 1-17.1 0.4-29.7-0.2-43.1-0.8-24.3-0.8-8.1-1-5.4-1.6-4.5-1.6-2.7-2.1-1.9-3.6-2.3-28.4-14.6-66.2-36.4-18.1-9.1-5.4-2.3-2.7-0.6-0.9 0.1-0.2 0.6 1.2 1.8 3.5 3.2 7.2 5.2 18.1 12 43.4 27.3 13.3 8.9 8.9 7.2 2.4 2.7 2.3 3.4 1.8 5.6 1 12.6 0.1 98.9-0.4 10.8-1.4 9.9-2 4.5-4.8 5.4-6.7 5.4-10.4 7.2-44.8 28.2-18.1 11.8-10.8 7.9-2.6 2.4z" fill="#94f81f"/><path d="M1080.1 385.8l1 0.6 3.6-1 17.2-8.2 71.1-39 28.9-15 5.3-3.9 1.7-2.7 1.3-3.6 1.7-10.8 0.9-18 0.4-29.7-0.2-41.3-0.8-24.3-0.8-8.1-0.9-5.4-1.6-4.5-1.6-2.6-5.4-4-28.9-14.9-64.8-35.7-19-9.7-4.5-1.9-3.6-1-1 0.6 1.9 2.5 11.7 8.8 18.1 11.7 42.5 26.5 13.6 8.9 9 7.2 2.6 2.7 1.8 2.7 1.9 5.4 1.1 12.6 0 101.6-0.3 9.9-1.2 9-1 2.7-1.5 2.5-4.4 4.7-6.8 5.4-10.6 7.2-46.7 29.1-18.1 11.8-9.9 7.1-2.5 2.3z" fill="#98f71d"/><path d="M1080.2 385.8l0.9 0.5 0.9-0.1 2.7-0.9 18.1-8.8 73-40.1 25.2-13 3.6-2.2 2.3-1.9 1.3-1.8 1.5-3.6 1-4.5 0.8-6.3 1-18 0.3-31.5-0.1-41.3-0.7-22.5-1.6-13.5-1.4-4.5-1.7-3.1-2.7-2.4-3.6-2.1-25.2-13-69.4-38.3-17.2-8.7-5.4-2.3-2.7-0.6-0.9 0.4 1.8 2.4 10.8 8 18.1 11.7 44.3 27.4 15 9.8 8 6.3 2.6 2.7 1.8 2.7 1.2 2.7 0.7 2.7 0.8 11.7-0.2 54.9 0.3 49.4-0.3 9-0.5 5.4-0.8 3.6-2.3 4.5-4.3 4.5-7 5.4-10.8 7.2-63.9 39.9-11.7 8.3-2.3 2.1z" fill="#9bf71b"/><path d="M1080.5 385.8l1.5 0.3 4.5-1.7 16.3-8 72.5-40 26.6-13.8 4.6-3.3 1.8-2.7 1.4-3.6 1.6-10.8 0.9-18.9 0.3-32.4-0.2-39.5-0.7-22.5-1.5-12.6-1.4-4.5-1.4-2.7-2.7-2.5-2.7-1.7-28.3-14.6-67.2-37.2-18.1-9.2-4.5-1.9-2.7-0.6-0.6 0.3 0.3 0.9 2.1 2.1 11.7 8.4 18.1 11.5 43.2 26.6 15.2 9.8 8.2 6.3 2.7 2.7 1.9 2.7 1.1 2.7 0.6 2.7 0.7 9.9-0.3 56.7 0.4 51.2-0.3 8.1-1.1 8.1-2.3 4.5-4.4 4.5-7.2 5.4-10.9 7.2-65.6 40.7-10.8 7.7-2.2 1.9z" fill="#9ff719"/><path d="M1080.8 385.8l1.8 0 3.9-1.5 16.3-8.1 72-39.8 27.1-14.1 4.5-3.3 1.7-2.4 1.3-3.6 1-5.4 0.7-6.3 0.8-19.8 0.3-33.2-0.2-36.9-0.7-22.5-1.5-12.6-1-3.6-1.8-3.6-2.4-2.2-2.7-1.7-27.1-14-67.5-37.5-19-9.7-4.5-1.9-2.7-0.6-0.3 0.2 0.2 0.9 1.9 2 11.7 8.3 64.9 40.1 12.5 8 8.3 6.3 2.8 2.7 1.9 2.7 1.5 4.5 0.8 9.9-0.4 57.6 0.4 53-0.6 11.7-0.9 3.6-2 3.6-4.5 4.5-7.3 5.4-9.6 6.3-67.8 41.8-10.8 7.6-2.7 2.5z" fill="#a3f617"/><path d="M1081.1 385.8l2.7-0.5 4.5-1.9 17.2-8.8 70.6-39.1 24.9-13 3.6-2.2 2.1-1.9 1.5-2.7 1.2-3.6 1.4-10.8 0.8-19.8 0.2-36.8-0.2-36.9-0.7-20.7-1.5-11.7-1.2-3.6-1.5-2.7-2.1-1.9-3.6-2.2-24.9-12.9-70.6-39.2-17.2-8.8-4.5-1.9-2.7-0.5 0 0.9 2.9 2.7 12.4 8.6 62.3 38.2 14.1 8.9 8.5 6.3 2.8 2.7 1.9 2.7 1.5 4.5 0.6 9-0.4 58.5 0.4 53.9-0.5 10.8-0.7 3.6-2.1 3.6-4.6 4.5-6.1 4.5-11.1 7.2-49.4 30.1-19.9 12.5-10.8 7.7-1.8 1.8z" fill="#a6f615"/><path d="M1081.4 384.9l0.6 0.7 3.6-1.1 16.3-8.1 72.1-40 27.9-14.6 4.5-3.4 1.6-2.7 0.9-2.7 1.6-10.8 0.7-18 0.3-31.5-0.1-41.3-0.7-23.4-1.4-11.7-1.3-4.5-1.6-2.7-4.5-3.4-27.9-14.5-68.5-38.1-16.3-8.4-7.2-2.8-0.6 0.7 1.7 1.8 13.3 9.3 61.4 37.5 17 10.7 8.3 6.3 3.9 4.5 1.4 4.1 0.5 8.5-0.4 58.5 0.5 56.6-0.5 9-0.7 3.6-2 3.6-4.8 4.5-6.2 4.5-12.6 8.1-65.8 40.1-10.8 7.3z" fill="#aaf613"/><path d="M1081.6 384.9l0.4 0.5 0.9-0.1 2.7-1 16.3-8.1 76.6-42.5 23.4-12.2 4.2-3.1 1.6-2.7 1.2-3.6 1.4-10.8 0.7-19.8 0.2-31.5-0.1-39.5-0.7-22.5-1.5-12.6-1.2-3.6-1.6-2.7-4.2-3.1-25-13-70.5-39.3-17.2-8.9-5.4-2.3-1.8-0.3-0.4 0.4 2.8 2.7 11.1 7.7 78.6 48 9.9 7.2 3.9 4.5 1.2 3.6 0.6 8.1-0.5 59.4 0.5 57.5-0.4 9-0.9 3.5-2.6 3.7-4 3.6-17.6 11.7-66 40-12.6 8.4z" fill="#adf512"/><path d="M1081.7 384.9l1.2 0.3 3.4-1.2 16.5-8.3 73.8-41.1 25.3-13.2 4.1-3 1.6-2.7 1.2-3.6 1.3-10.8 0.7-18.9 0.3-34.1-0.3-40.5-0.6-20.7-1.4-11.7-1.2-3.6-1.6-2.7-4.1-3-25.3-13.1-72-40.2-17.2-8.8-3.6-1.5-1.8-0.2-0.3 0.3 0.7 0.9 2.3 2 12.6 8.5 61.4 37.2 17.1 10.7 8.6 6.3 4 4.5 1.2 3.6 0.6 8.1-0.6 59.4 0.6 58.4-0.5 8.1-0.9 3.6-2.5 3.6-4.1 3.6-6.4 4.5-12.7 8.1-64.9 39.2-11.7 7.8-3.1 2.4z" fill="#b7f40f"/><path d="M1083.4 384l1.3 0.1 2.5-1 16.5-8.5 74.9-41.8 23.3-12.2 3.6-2.8 1.3-2.1 0.9-2.7 1.3-9.9 0.7-18 0.3-33.3-0.2-40.4-0.5-22.5-1.2-12.6-0.9-3.6-1.4-2.7-3.9-3.1-23.3-12.1-71.3-40-16.3-8.6-7.2-2.9-0.4 0.2 3 2.7 11.8 7.8 81.1 48.8 7.6 5.4 3 2.7 1.3 1.8 1 2.7 0.4 6.3-0.7 62.1 0.7 62-0.4 6.3-1 2.7-2.2 2.7-4.5 3.6-16.7 10.8-66.8 39.9-13.3 8.6z" fill="#c7f10a"/><path d="M1086.3 382.2l0.2 0.3 0.9-0.1 2.5-1.1 14.7-7.7 72.9-40.8 24.4-12.9 3.2-2.4 1.1-1.8 0.9-2.7 1.2-10.8 0.5-18 0.2-35-0.1-40.5-0.5-21.6-1.2-11.7-1-3.6-1.1-1.8-3.2-2.4-24.4-12.8-71.1-40-14.6-7.7-5.3-2.1-0.2 0.3 3.5 2.7 12.1 7.7 77.5 46.2 9.4 6.3 3.1 2.7 1.4 1.8 0.9 2.7 0.3 4.5-0.8 63.9 0.8 63.8-0.3 4.5-0.9 2.7-2.3 2.7-4.7 3.6-18.7 11.7-63 37.4-12.1 7.5z" fill="#d8ef05"/><path d="M1090.9 379.5l1.4 0 12.2-6.3 73.6-41.3 22.9-12.1 3.6-2.6 1.4-2.4 0.7-2.7 0.9-9.9 0.5-18.9 0.1-36.8-0.6-60.3-0.9-10.8-0.7-2.7-1.4-2.4-3.6-2.6-24.5-12.9-67.4-38-14.9-7.9-3.2-1.1 3.9 2.9 13.3 8.2 73.8 43.9 9.4 6.3 3.5 3.6 0.7 1.8 0.3 3.6-0.6 27.9-0.2 37.8 0.2 37.7 0.6 27-0.3 4.5-0.7 1.8-2.4 2.7-4.9 3.6-17.4 10.8-62 36.7z" fill="#e8ec00"/><path d="M1100.3 374.1l1.3 0-0.6-0.3zM1101.6 373.2l0.3 0.6 1.4-0.6 6.8-3.6 72-40.4 19.8-10.4 2.7-2.2 1.6-4.5 0.8-9 0.5-53.1-0.5-63.8-0.8-10.8-1.6-4.5-2.7-2.2-18-9.4-65.7-36.9-16.3-8.7-0.3 0.6 10.2 6.3 72.7 43.1 8.1 5.4 2.2 1.8 1.4 1.8 0.5 1.8 0.2 2.7-0.5 27.9-0.2 38.7 0.2 38.6 0.5 27.9-0.3 3.6-1 1.8-1.8 1.8-5.1 3.6zM1100.3 113.4l0.7 0.3 0.6-0.3z" fill="#f1e700"/><path d="M1120.6 362.4l1.2 0-0.1-0.2zM1122.1 361.5l0.5 0.3 0.9-0.3 0-0.7zM1123.5 360.6l1.5 0-0.6-0.3zM1125.1 359.7l0.2 0.6 0.9-0.4 5.4-2.9 48.7-27.3 21.6-11.3 2.3-1.8 0.9-1.8 0.7-2.7 0.6-7.2 0.5-52.2-0.4-65.6-0.6-10.8-0.8-3.6-0.9-1.8-2.3-1.7-17.1-8.9-59.5-33.1-0.2 0.6 2.9 1.8 60.3 35.9 6.5 4.5 2.4 2.7 0.6 3.6-0.7 67.5 0.7 67.4-0.3 2.7-0.9 1.8-5.6 4.5-17.9 11.1zM1123.5 126.9l0.9 0.3 0.6-0.3zM1122.1 126l1.4 0.7 0-0.7-0.9-0.3zM1120.6 125.1l1.1 0.2 0.1-0.2z" fill="#fae200"/><path d="M1164.2 337.3l1.3 0-0.6-0.3zM1165.7 336.4l0.1 0.4 1.4-0.4-0.5-0.5zM1167.2 335.5l0.4 0.4 1.2-0.4 20.5-11.2 12.6-6.3 2.5-2.3 1-3.6 0.5-7.2 0.5-37.8-0.2-75.5-0.5-12.6-0.9-6.3-1-1.8-1.9-1.4-10.8-5.3-23.5-12.6-0.4 0.5 15.8 9.5 11.5 7.5 2.9 2.6 0.9 1.9-0.5 80.9 0.6 56.7-0.4 3.6-2.4 2.7-8.1 5.6zM1165.7 151.2l1 0.4 0.5-0.4-1.4-0.5zM1164.2 150.3l0.7 0.2 0.6-0.2z" fill="#fd0"/><path d="M1186.1 324.7l0.5 0.2 0.9-0.2 14.4-7.1 1.5-1 1.1-1.8 0.7-3.6 0.4-8.1 0.4-33.3-0.2-72.8-0.3-16.2-0.6-6.3-0.8-2.7-1.3-1.4-16.2-7.8-0.5 0.2 11.3 8.1 1.3 1.8 0.3 1.8-0.6 72 0.1 43.1 0.5 22.5-0.3 2.7-1.3 1.9z" fill="#ffd600"/><path d="M1194.1 320.2l1 0 6.8-2.9 1.8-1.5 0.7-1.9 0.8-9.9 0.3-28.8 0-75.5-0.7-23.4-0.6-3.6-1.2-1.8-8.3-3.7-0.6 0.1 4.8 4.5 0.5 2.7-0.5 69.3 0.5 68.3-0.5 3.6z" fill="#fc0"/><path d="M1198.1 317.5l0.2 0.5 0.9-0.1 3.6-1.5 1.1-1.6 0.6-2.7 0.5-14.4 0.2-39.6-0.1-61.1-0.6-20.7-0.6-3.6-1.1-1.6-2.7-1.3-1.8-0.3-0.2 0.5 1.6 2.7 0.2 1.8-0.5 21.6-0.1 47.7 0.1 47.6 0.5 21.6-0.5 2.7z" fill="#ffbf00"/><path d="M1199.7 316.6l0.4 0.4 0.9 0 1.8-0.9 0.8-1.3 0.6-2.7 0.5-11.7 0.2-25.2 0-69.2-0.4-27-0.9-6.3-1.5-1.8-2-0.4-0.4 0.4 0.5 2.7-0.4 25.2-0.1 60.2 0.5 54.9z" fill="#ffb200"/><path d="M1200.5 315.7l0.5 0.8 1.8-0.7 0.9-1.9 0.3-1.8 0.6-31.5-0.3-99.8-0.3-5.4-0.6-2.7-0.6-1-1.8-0.7-0.5 0.8-0.4 38.7 0 75.5z" fill="#ffa700"/><path d="M1201.1 315.7l0.8 0.3 0.9-0.6 0.9-3.3 0.6-24.3-0.2-104.3-0.5-9-0.8-2.3-0.9-0.6-0.8 0.2-0.1 0.9-0.6 25.2 0 93.5 0.2 16.2z" fill="#ff9e00"/><path d="M1201.4 314.8l0.5 0.7 0.9-0.6 0.7-3.7 0.5-29.7-0.1-97.1-0.6-9.9-0.5-1.9-0.9-0.6-0.6 1.6-0.3 4.5-0.4 27 0.1 87.2 0.2 16.2z" fill="#ff9400"/><path d="M1201.9 314.8l0.9-0.6 0.3-1.2 0.4-7.2 0.3-59.3-0.2-63.9-0.5-8.1-0.3-1.2-0.9-0.6-0.5 3.6-0.3 9.9-0.2 54.9 0.1 59.3 0.4 10.8z" fill="#ff8a00"/><path d="M1201.9 313.4l0.9-0.3 0.5-7.3 0.3-52.2-0.3-69.2-0.5-9.9-0.9-0.4-0.6 13.9-0.2 45.9 0.2 61.1z" fill="#ff8100"/><path d="M1201.9 310.3l0.9 0.2 0.4-20 0.1-84.5-0.5-29-0.9 0.2-0.4 18.9 0 84.5z" fill="#ff7500"/><path d="M1202.8 302.7l0-117.9-0.9 2.3-0.2 27.9 0.1 80.9 0.1 4.5z" fill="#ff6700"/><path d="M978.1 455l9.3 0.7 9.9 0 9-0.5 8.1-1.1 8.1-1.7 7.3-2.3 6.3-2.7 5.4-3.1 4.5-3.6 3.6-4.2 2.5-4.9 1.3-4.4 0.6-5.4-0.3-5.4-3.1-20.7 0.1-2.7 0.8-2.7 1.8-1.8 3.5-1.1 5.4-0.2 10.8 0.9 1.8-0.2 0.9-0.5 0.3-0.7-0.4-1.8-2.6-3.2-4.5-4.2-8.1-6.5-16.2-11.6-38.6-25.7-14.5-10.8-5.7-5.4-3.6-4.5-2.3-4.5-1.6-5.4-0.7-6.3-0.2-9.9 0-89.9 0.6-10.8 0.9-4.5 1.8-4.5 2.1-3.6 3-3.6 7.9-7.2 12.3-8.9 38.6-25.8 16.2-11.6 8.1-6.5 4.5-4.2 2.6-3.2 0.4-1.8-0.3-0.6-0.9-0.5-1.8-0.3-10.8 0.9-5.4-0.1-3.5-1.2-1.8-1.8-0.8-2.7-0.1-3.6 3-18.9 0.4-5.3-0.3-4.5-0.9-4.5-1.9-4.5-2.4-3.6-3.4-3.6-3.6-2.8-4.5-2.6-10-4.2-11.7-2.8-14.4-1.7-9.9-0.2-10.8 0.6-10.8 1.3-10.8 1.9-10.9 2.6-10.8 3.3-10.8 4-9.9 4.3-9.9 4.9-9.9 5.7-9 5.8-9.1 6.7-8.1 6.6-8.5 7.9-7.8 8.1-7.1 8.3 0 280.1 12.6 14.1 14.2 13.1 15.6 11.6 16.2 9.8 18 8.6 18 6.5 18.1 4.7 9 1.6z" fill="#02db7f"/><path d="M1006.4 420.9l10.7 0.4 9-0.9 7.3-2.1 5.4-3.2 2.7-3 1.9-3.8 1.2-5.4 0.6-11.7 1.1-2.7 1.9-1.8 3.2-0.9 4.5-0.2 17.1 2.3 1.8-0.2 1.1-1-0.2-1.3-0.9-1.4-2.7-3-12.6-10.2-15.3-10.7-41.4-27.3-13.3-9.9-5.8-5.4-3.5-4.5-2.3-4.5-1.4-5.4-0.7-15.3 0-92.6 0.6-9.9 0.9-4.5 1.4-3.6 2.1-3.6 2.9-3.6 3.7-3.6 5.5-4.5 12.6-8.9 36-23.7 17.1-11.9 12.6-10.1 2.7-2.7 2-2.9-0.2-1.3-1.8-0.7-18 2.2-4.5-0.1-3.2-1-1.9-1.8-0.8-1.8-1.3-15.3-1.5-4.5-2.1-3.2-3.6-3.1-5.4-2.6-6.4-1.5-7.2-0.7-7.2 0-7.2 0.6-17.1 3-18 4.9-18.1 6.7-15.3 7.2-14.4 8.4-12.6 9.2-11.7 10.6-8.9 10-11.3 15.3-7.2 12.6-6 13.4-5.2 15.3-4.1 17.1-2.6 17.1-1.3 18 0.1 18.8 1.6 18.9 2.9 17.1 4.5 17.1 5.5 15.3 7 14.4 7.2 11.6 11.1 14.4 10.3 10.8 11.7 9.9 12.6 8.7 14.4 7.9 16.3 7.2 18 6.3 18 4.5z" fill="#02d882"/><path d="M1009.6 404.7l6.6 0.4 5.4-0.2 5.4-1.1 3.7-1.7 2.7-2.2 1.8-2.5 3.6-10.7 1.5-1.8 2.1-1.1 3.6-0.5 5.4 0.3 20.7 4 2.7-0.1 1-0.8-0.5-1.8-2.3-2.8-4.5-4-8.1-6.2-17.1-11.9-40.5-26.3-14.8-10.8-5-4.5-3.7-4.5-2.4-4.5-1.5-5.4-0.7-13.5 0-97.1 0.7-9.9 0.8-3.6 1.5-3.6 2.2-3.6 3.1-3.6 8.4-7.2 14.1-9.8 35.1-22.8 17.1-11.7 12.6-9.7 3.6-3.5 1.9-2.7-0.1-1.1-0.9-0.6-1.8-0.1-21.6 4-5.4 0.3-3.6-0.5-2.1-1.1-1.5-1.8-3.2-9.9-1.3-2.2-1.8-2-2.7-1.8-3.7-1.4-3.6-0.8-4.5-0.3-11.7 0.9-14.4 2.9-17.1 5.2-16.2 6.3-14.5 6.8-12.6 7.4-10.8 7.8-9.8 9-5.5 6.3-4.5 6.4-4.7 5.3-3.9 5.4-5.7 9.8-5.2 11.7-4.6 14.4-3.4 15.3-2.4 17.1-1 17.1 0.2 17.9 1.5 18 2.7 16.2 4.2 16.2 5 13.5 5.9 11.7 5.3 8 5.4 6.3 6.7 9 8.4 8.8 9.9 8.2 10.8 7.2 12.6 6.8 14.5 6.4 17.1 6.2 16.2 4.5z" fill="#01d684"/><path d="M1009.3 392.1l6.9-0.1 5.4-1.5 3.6-2.7 3.4-4.7 1.8-1.8 2.1-1 2.7-0.5 5.4 0.2 7.2 1.3 23.4 6 3.6 0.1 0.9-0.7 0-0.9-1.8-2.6-2.7-2.6-12.6-9.7-17.1-11.5-38.6-24.8-12.8-9-9-7.8-2.6-3-2.2-3.6-1.3-3.6-0.8-3.6-0.5-9-0.1-99.8 0.3-9 0.6-4.5 1.4-4.5 2.5-4.3 3.2-3.8 5-4.5 15-10.7 42.6-27.5 18-12.4 7.2-5.6 4.5-4.1 1.8-2.6 0-0.9-0.9-0.7-4.5 0.3-26.9 6.7-8.2 0.6-2.7-0.5-2.1-1-1.8-1.8-4.1-5.4-3.8-2.4-2.7-0.8-3.6-0.4-8.1 0.3-11.7 2.2-15.3 4.6-16.2 6.1-13.6 6.2-13.5 7.9-10.8 8.4-7.9 8.4-3.2 4.5-2.4 4.4-4.5 3.7-3.6 4.1-5 7.5-4.4 9-4 10.8-3.1 11.7-2.9 17.1-1.6 18-0.3 19.7 1.1 18.9 2.4 17.1 3.6 15.3 4.8 13.5 2.9 6.3 3.1 5.4 5.3 7.2 3.5 3.4 2.7 2 4.2 7.1 6.1 7.2 8.6 7.6 10.8 7.3 8.1 4.4 8.2 3.9 18.9 7.5 18 5.5 8.1 1.7z" fill="#01d487"/><path d="M1069.8 386.7l3.2 0.6 1.8-0.1 0.7-0.5 0-0.9-1.6-2.4-3.6-3.3-13.5-10.1-16.2-10.7-36-22.9-14.6-9.9-9.7-8.1-2.8-3.2-2-3.1-2.1-6.3-0.7-8.1 0-107.9 0.5-7.2 1.9-6.3 2.8-4.5 5.3-5.4 6.8-5.4 9.1-6.2 44.2-28.3 17.1-11.6 11.7-9 2.7-2.9 0.7-1.3 0-0.9-0.7-0.5-1.8-0.1-4.5 0.9-27.9 8.7-13.6 3.3-3.6 0.4-3.6-0.2-3.3-0.8-5.7-2.7-2.7-0.9-3.6-0.5-4.5 0-7.2 1-8.1 1.9-9 2.6-9.9 3.6-10.8 4.6-10 5.2-8.1 5.3-6.3 5.4-3.8 4.2-2.6 3.6-1.9 3.6-1.6 4.2-3.6 1.6-2.7 1.9-3.2 3-2.9 3.6-4.8 8.1-4.1 9.9-3.5 12.6-2.8 15.3-1.7 17.1-0.5 18.9 0.7 17.9 1.9 17.1 3 15.3 3.9 12.6 3.6 8.1 4.3 7.2 2.9 3.6 3.2 3 2.7 1.9 3.6 1.6 2.9 6.9 2.5 3.6 3 3.6 5.1 4.8 6.3 4.6 7.2 4.4 8.2 4.1 9 3.8 9.9 3.6 9.9 3 8.1 1.8 7.2 1 5.4-0.1 4.5-1 8.1-3.5 3.6-0.5 3.6 0.2 12.2 2.6z" fill="#01d28a"/><path d="M1070.7 386.7l4.1 0.4 0.5-0.4 0.1-0.9-2.4-3.1-5.4-4.6-18-12.5-46.1-29.2-13.4-9-10.2-8.1-3.3-3.6-2.3-3.6-2-6.3-0.5-7.2 0-107.9 0.3-8.1 1.4-5.4 3.1-5.3 4.3-4.6 6.7-5.4 9.1-6.2 47.5-30.2 19.8-13.4 7.2-5.6 3.1-3 1.1-1.8-0.1-0.9-1.4-0.5-4.5 0.8-6.3 2-35.6 13-14.9 4.6-9.9 1.6-12.6-0.4-5.4 0.2-7.2 1.1-8.1 2.1-8.1 2.7-8.2 3.4-7.2 3.9-6 4.2-4.8 4.5-3.5 4.5-2.1 4.5-0.7 4.5-0.9 0.6-3.6 0.8-2.7 1.2-4.9 3.6-4.9 6.3-4.2 8.1-4.3 12.6-2.8 13.5-2 17.1-0.9 18.9 0.4 19.7 1.7 18 2.7 15.3 4.1 13.5 3.7 8.1 4.1 6.3 3.4 3.6 3 2.2 3.6 1.7 3.6 0.8 0.9 0.7 0.5 3.6 1.8 4.5 3.2 4.4 4.4 4.4 5.4 4.1 7.2 4.1 8.2 3.7 9 3.1 8.1 2.1 7.2 1.2 6.3 0.3 12.6-0.4 5.4 0.6 5.2 1.1 11.7 3.6 35.4 13z" fill="#01d08d"/><path d="M1071.5 386.7l3.3 0.2 0.5-1.1-2.3-3-4.5-3.7-18-12.6-45.1-28.3-16.4-10.8-10.3-8.1-3.3-3.6-2.2-3.6-1.9-6.3-0.3-6.3 0.2-56.6-0.3-53.1 0.3-7.2 1.6-6.3 2.6-4.5 5.4-5.4 5.7-4.5 10.5-7.1 46.3-29.2 18.9-12.5 7.2-5.4 4.5-3.9 1.4-2.1-0.2-0.9-1.2-0.3-4.5 0.8-9.9 3.5-44.8 18.5-14.4 5.4-12 3.2-18 2.2-9 2-10 3.8-4.5 2.6-3.6 2.6-3.6 3.4-2.7 3.6-1.7 3.6-1.6 5.3-6.6 1.9-2.7 1.4-2.9 2.1-2.6 2.7-2.6 3.6-4.2 8.1-3.6 10.8-2.9 14.4-1.7 16.2-0.7 18.9 0.4 18.8 1.5 18 2.6 14.4 3.7 12.6 4.3 9 2.5 3.6 2.6 2.9 2.7 2.2 2.7 1.6 3.6 1.4 3.9 0.9 1.2 4.5 1.6 3.6 2.5 3.6 3.4 3.5 7.2 4.9 9.1 4 9 2.4 18.9 2.3 11 2.6 15 5.4 44.3 18.4 9.9 3.6z" fill="#01cd8f"/><path d="M1072.3 386.7l2.6 0 0.3-0.9-0.5-0.9-2.6-2.7-5.4-4.3-18-12.2-44.1-27.5-16.5-10.8-10.5-8.1-2.8-3.1-2.2-3.2-1.9-5.4-0.5-6.3 0.3-58.4-0.4-54 0.3-7.2 1.7-6.2 3-4.6 4.6-4.5 7.1-5.4 9.3-6.2 48.1-30.1 18.9-12.5 6.3-4.6 4.5-4 1.3-1.9-0.3-0.9-1-0.2-6.3 1.5-11.7 4.6-49 22-15 6.3-13.5 4.3-15.3 3.2-6.3 1.7-6.4 2.7-5.4 3.6-4.7 5.2-2 3.5-1.4 3.6-4.5 1.6-3.6 1.7-3.1 2.1-2.8 2.7-3.9 5.4-3 6.3-3.5 10.8-2.6 13.5-1.6 16.2-0.7 18.9 0.5 18.8 1.5 17.1 2.5 14.4 3.5 11.7 3.4 7.2 3.9 5.4 2.8 2.7 3.1 2.1 3.6 1.7 4.5 1.6 2.8 6.3 4.4 5.2 5.4 3.9 7.3 3.2 5.4 1.5 18.9 4.1 13.1 4.5 14.8 6.3 42.4 19.2 13.5 5.5z" fill="#00cb92"/><path d="M1073.2 386.7l1.6-0.2 0.2-0.7-0.4-0.9-2.5-2.5-5.4-4.3-18.9-12.7-46.9-29-13.8-9-10.5-8.1-2.7-2.9-2.3-3.4-1.6-4.5-0.6-6.3 0.4-59.3-0.4-54.9 0.3-7.2 1.4-5.4 2.9-4.5 4.7-4.5 7.1-5.4 9.5-6.2 49.8-31 18-11.8 7.2-5.3 3.5-3.2 1.2-1.8-0.2-0.6-0.9-0.3-6.3 1.6-14.4 5.9-50.5 24-14 6.3-12.1 4.6-21.6 6.3-5.5 2.6-4.5 3.3-3.4 3.8-2.5 4.5-8 4.5-5.1 4.5-3.8 5.4-3.3 7.2-3.2 10.8-2.1 12.6-1.5 16.2-0.5 18 0.5 18.8 1.4 16.2 2.2 13.5 3.2 10.8 3.3 7.2 3.8 5.4 5.1 4.5 8 4.5 2.5 4.5 3.4 3.8 4.5 3.3 5.5 2.6 22 6.4 13.8 5.4 59.7 28.2 15.3 6.5z" fill="#00c995"/><path d="M1070.1 385.8l3.8 0.8 1-0.8-1.2-1.8-3.4-3-11.7-8.3-61.3-38.1-13.6-9-9-7.2-2.4-2.7-1.7-2.7-1.4-4.5-0.5-6.3 0.4-58.4-0.4-58.5 0.5-6.3 1.4-4.5 3.2-4.5 5-4.5 15.7-10.7 48.8-30.2 18-11.6 11.7-8.8 1.9-2.5-1-0.8-5.4 1.3-10.8 4.5-17.1 8-52.2 25.7-15.2 6.3-18.2 6-5.5 2.6-3.6 2.6-3 3.1-2.4 3.7-6.7 4.4-4.7 4.5-3.8 5.4-3.3 7.2-2.8 9.9-2.1 11.7-1.3 14.4-0.6 16.2 0.1 14.3 0.6 14.4 1.1 11.7 1.8 10.8 2.3 9 2.8 7.2 3.8 6.3 4 4.5 3.3 2.7 5.5 3.5 1.8 2.9 2.7 3.1 2.7 2.2 3.6 2.2 6.4 2.6 17.9 5.9 10.8 4.5 61.4 30.1 14.4 6.5z" fill="#00c797"/><path d="M1070.6 385.8l3.3 0.6 0.8-0.6-1.2-1.8-3.2-2.8-13.5-9.4-58.8-36.3-15.1-9.9-9.1-7.2-2.4-2.7-1.6-2.7-1.4-4.5-0.4-5.4 0.5-59.3-0.5-59.4 0.5-5.8 1.7-5 2.7-3.6 5.1-4.5 15.8-10.7 50.4-31 18-11.7 10.8-8.1 1.7-2.3-0.8-0.6-4.5 1-12.6 5.3-18.9 9.2-48.7 24.7-16.2 7.2-19 6.7-4.5 2.3-3.6 2.7-2.5 2.6-1.9 2.7-5.9 4.5-4.2 4.5-4 6.3-2.7 6.3-2.7 9.9-1.9 11.7-1.2 14.4-0.6 16.2 0.1 15.2 0.8 14.4 1.1 11.7 1.7 9.9 2.1 8.1 2.9 7.2 3.1 5.4 4.5 5.4 6.9 5.4 2.6 3.5 2.7 2.6 5.4 3.3 20.8 7.6 10.4 4.5 14.9 7.2 48.6 24.7 13.5 6.3z" fill="#00c598"/><path d="M1073 386.2l1.5-0.4-1.1-1.8-2.2-1.9-13.5-9.5-60.3-37.1-15.3-9.9-8.2-6.3-2.6-2.7-1.9-2.8-1.6-4.4-0.4-4.5 0.5-62-0.5-58.5 0.4-6.3 1.6-4.4 2.7-3.7 5-4.5 17.4-11.6 47.9-29.3 19.8-12.7 10.8-8 1.5-2.2-1.5-0.4-5.4 1.6-12.6 5.7-67.4 34.5-15.8 7.2-18.7 7-4.5 2.5-2.7 2.1-3.6 4.2-5.5 4.8-3.6 4.5-3.7 6.3-2.7 7.2-2.3 9-1.8 12.6-1.1 14.4-0.4 16.2 0.2 17.9 1 15.3 1.6 12.6 2.5 10.8 3 8.1 3.7 6.3 3.6 4.5 5.5 4.8 3.6 4.2 2.7 2.1 3.6 2.1 17.4 6.6 12.4 5.3 65.8 33.8 15.3 7.2z" fill="#00c29a"/><path d="M1073 386.1l1.2-0.3-0.2-0.9-1.9-1.9-6.3-4.8-18-11.7-63.7-39.1-11-8.1-2.6-2.7-1.9-2.7-1.3-3.6-0.5-5.4 0.5-61.1-0.5-60.3 0.3-5.4 1.5-4.5 2.6-3.6 5.2-4.5 17.5-11.6 49.4-30.1 17.1-10.8 11.9-8.6 1.7-1.8 0.2-0.9-1.2-0.3-7.2 2.5-11.7 5.4-68.5 35.6-15.5 7.2-17 6.5-3.6 1.9-3.6 2.8-2.6 3.1-4.8 4.5-4 5.4-3.2 6.3-2.8 8.1-2.1 9.9-1.4 11.7-0.9 13.5-0.4 16.2 0.3 17 0.9 15.3 1.5 12.6 2.1 9.9 2.8 8.1 3.2 6.3 4 5.4 4.8 4.5 2.6 3.1 2.7 2.2 3.6 2 17.9 7.1 10 4.4 68.6 35.7 14.4 6.9z" fill="#00c09c"/><path d="M1072.2 385.8l1.7 0-0.1-0.9-2.8-2.7-5.2-3.8-17.1-11.1-49.6-30-17-10.8-9.8-7.2-2.6-2.7-1.8-2.7-1.2-3.6-0.5-4.5 0.6-62-0.6-61.2 0.5-5.4 1.2-3.6 2.6-3.6 5.2-4.5 16.2-10.7 49.6-30.1 19.8-12.5 10.8-7.8 1.7-1.8 0.2-0.9-1-0.1-7.2 2.4-11.7 5.6-68.8 36.2-15.1 7.2-17.1 6.7-3.6 1.9-3.6 2.9-6.1 6.4-3.2 4.5-3.5 7.2-2.6 8.1-1.9 9.9-1.3 10.8-0.9 14.4-0.3 16.2 0.2 17 0.8 15.3 1.3 11.7 1.9 9.9 2.5 8.1 3.3 7.2 3.7 5.4 6.1 6.4 2.7 2.3 2.7 1.6 16.8 6.8 11.8 5.3 69.7 36.7 14.4 7z" fill="#00baa0"/><path d="M1071.1 384.9l1.7 0-1.6-1.9-6.3-4.6-18.9-12-64.8-39-10.3-7.2-3-2.7-2.1-2.7-1-2.7-0.5-3.6 0.6-64.7-0.6-63.9 0.5-4.5 1-2.7 3-3.6 4.4-3.6 19.6-12.5 64.9-39.2 12.6-8.5 2-1.8 0.5-0.9-0.7-0.2-5.4 1.9-10.8 5.2-73.6 39.9-16.3 8.1-13.8 5.6-5 3.3-3.3 3.6-2.9 4.5-2.5 6.3-2.1 8.1-1.4 9.9-1 11.7-0.9 30.6 0.7 33.2 1 12.6 1.3 9.9 1.8 8.1 2.3 6.3 2.4 4.5 4.2 5 4.5 3.3 14.7 6.1 11.1 5.4 70.7 38.3 15.3 7.7z" fill="#00b1a7"/><path d="M1067.9 383.1l2.4 0.7 0.2-0.7-6.5-4.7-11.7-7.5-75.6-45.3-8.9-6.3-2.8-2.7-1.2-1.8-0.7-2.2-0.4-3.2 0.6-27.9 0.2-37.7-0.2-37.8-0.6-27.9 0.5-3.6 1.1-2.7 2.4-2.7 4.6-3.6 17-10.7 68.5-41 11.5-7.6 2.2-1.8-0.2-0.7-4.5 1.6-11.7 5.9-76 41.8-14.3 7.1-12.5 5.2-3.6 2.6-3.1 3.9-1.8 3.6-1.7 5.4-1.1 5.4-1.7 18-0.8 28.8 0.2 36.8 0.6 14.4 0.9 10.8 1 7.2 1.7 7.2 1.7 4.5 3 4.5 2 2 2.7 1.8 12.5 5.2 10.9 5.4 71.3 39.2z" fill="#00a8ad"/><path d="M1065.3 381.3l1.4 0.4 0.5-0.4-5.1-3.6-13.4-8.4-74.8-44.6-8.8-6.3-1.8-1.8-1.1-1.8-0.7-4.5 0.6-24.3 0.1-42.2-0.1-42.3-0.6-24.3 0.4-3.6 1.4-2.7 2.8-2.7 5.1-3.6 18.9-11.6 63.1-37.6 11.6-7.4 2.4-1.8-0.5-0.4-5.2 2.2-14.6 7.7-72 40-12.4 6.2-10.3 4.2-3.6 2.3-2.2 2.5-1.8 3.6-1.5 5.4-1.1 6.3-1.3 18-0.5 30.6 0.2 37.7 1.2 24.3 0.9 8.1 1.2 5.4 1.7 4.5 1.7 2.7 2.4 2.4 1.8 1.1 11.2 4.6 10.7 5.4 71.9 39.8z" fill="#009fb5"/><path d="M1060.4 378.1l0.5-0.4-15.8-10-69.5-41.2-10.8-7.2-2-1.8-1.5-2.1-0.9-4.2 0.7-23.4 0.1-44-0.1-44.1-0.7-23.4 0.3-2.7 1.3-2.7 2.8-2.7 3.8-2.7 18.9-11.6 62.2-36.9 11.2-7.2-0.5-0.4-16.2 8.4-71.2 39.7-12.4 6.2-8.4 3.2-3.6 2.5-2.2 3.3-1.1 2.7-1.8 9.9-1 17.1-0.4 30.6 0.2 38.6 0.8 25.2 0.6 7.2 1.1 6.3 1.6 4.5 1.7 2.7 3.2 2.6 9.3 3.7 14.1 7.2 67.7 37.7z" fill="#0096bd"/><path d="M1048.6 371.4l1.3 0-1.2-0.3zM1047.8 370.8l0.7-0.3-75.3-44.9-9.5-6.3-2-1.8-1.4-1.8-0.7-3.6 0.6-22.5 0.2-45.8-0.2-45.9-0.6-22.5 0.4-2.7 0.9-1.8 2.8-2.7 3.8-2.7 16.3-10 64.7-38.5-0.7-0.3-10.9 5.7-64.4 36-12.3 6.2-8.9 3.5-2.4 1.9-1.8 2.7-1 2.7-1.5 9.9-0.8 17.1-0.3 28.8 0.1 43.1 0.7 23.4 1.2 11.7 0.9 3.6 1.7 3.6 3.2 2.9 8.9 3.4 10.7 5.4zM1048.6 116.1l0.1 0.3 1.2-0.3z" fill="#008dc5"/><path d="M1017.5 353.4l1.3 0-0.8-0.2zM1015.8 352.5l1.3 0.5 0.2-0.5-1.1-0.4zM1015.3 352.1l0.5-0.5-49.1-29.6-6-4.5-1.6-2.7 0.5-33.3 0.1-50.3-0.2-35.1-0.6-21.6 0.2-1.8 0.8-1.8 4.1-3.6 16.2-10.2 35.6-21.2-0.5-0.5-48.6 26.7-7.2 3.5-8.2 3-2.6 2.3-1.4 2.7-0.8 2.7-1 8.1-0.6 15.3-0.3 23.4 0 47.6 0.5 26.1 1.1 12.6 0.8 3.6 1.1 2.7 1.4 1.8 1.8 1.4 8.2 3 7.2 3.6zM1015.8 135l0.4 0.4 1.1-0.4-0.2-0.5zM1017.5 134.1l0.5 0.2 0.8-0.2z" fill="#0080d1"/><path d="M979.9 331.9l1.2 0.3 0.2-0.3-1.1-0.5zM979.3 331.3l0.6-0.3-17.7-11.5-2.7-2.5-1.1-2.2 0.6-27 0.1-53-0.2-41.4-0.6-18.9 0.4-2.7 2.1-2.7 6.8-4.8 12.3-7.7-0.6-0.4-18.9 9.5-8.2 2.9-1.8 1.1-1.8 2.1-1.5 4.5-0.9 7.2-0.8 33.3 0.3 72.8 0.6 15.3 1.2 8.1 1.7 3.6 2.1 1.9 9.5 3.5zM979.9 155.7l0.3 0.4 1.1-0.4-0.2-0.4z" fill="#0073dd"/><path d="M965.8 323.7l0.2-0.8-6.9-5.4-1-1.8-0.3-1.8 0.6-18.9 0.2-51.2-0.2-51.3-0.6-18.9 0.3-1.8 1-1.8 6.9-5.4-0.2-0.8-8.1 3.5-5.5 1.7-1.8 1.1-1.4 1.7-1.1 2.7-0.9 5.4-0.8 22.5 0 80.9 0.4 17.1 0.8 9.9 1.2 4.5 1.9 2.7 1.7 1 5.5 1.6z" fill="#0065e5"/><path d="M960.4 320.5l0.8-0.3-2.7-2.7-1.1-2.7 0.6-21.6 0.2-51.2-0.2-49.5-0.6-18.9 0.5-2.7 3.3-3.6-0.8-0.3-9.1 2.7-1.3 1.2-1.4 2.7-0.7 2.7-0.7 7.2-0.5 24.3 0 71.9 0.3 19.8 0.6 9 1 5.4 1.8 3.2 1.8 1.1z" fill="#0057ed"/><path d="M958.5 319.3l0-0.9-1.2-1.8-0.3-1.8 0.6-17.1 0.2-53.9-0.2-54-0.6-17.1 0.3-1.8 1.2-1.8 0.1-0.9-5.5 1.1-1.8 0.8-2.1 2.6-1 3.6-0.9 17.1-0.2 45.9 0.2 53 0.9 18.9 1 3.6 2.1 2.6 1.8 0.8z" fill="#004af4"/><path d="M957 318.4l0.2-0.9-0.6-2.7 0.6-9.9 0.2-17.1 0-87.2-0.2-18-0.6-9.9 0.6-2.7-0.4-0.9-3.7 0.4-1.8 0.8-1.4 1.5-1 2.7-0.9 9-0.4 25.2 0 70.1 0.6 28.8 0.7 5.4 1 2.7 2.3 2z" fill="#003ffa"/><path d="M952.4 317.5l2.6 0.4 1.5-0.4 0.4-16.2 0.1-113.3-0.5-18-1.5-0.4-1.9 0.2-1.8 0.7-1.2 1.3-0.7 1.8-0.9 6.3-0.4 9.9-0.2 70.1 0.3 43.2 0.9 9.9 1 2.7z" fill="#0034ff"/><path d="M953.1 317.5l2.4 0 0.5-0.9 0.5-9 0.2-13.5-0.1-111.5-0.6-11.7-0.5-0.9-1.5-0.1-1.8 0.3-1 0.7-1.3 1.8-0.8 2.7-0.6 9-0.2 17.1-0.1 76.4 0.5 28.8 0.3 4.5 0.9 3.6 1.4 1.9z" fill="#0028ff"/><path d="M952.2 317.1l1.8 0.3 1-0.2 0.5-0.6 0.9-12.6 0-119.6-0.9-13.5-0.6-0.6-0.9-0.2-1.8 0.3-0.9 0.6-1.5 2.6-0.8 4.5-0.3 8.1-0.2 60.3 0.3 55.7 0.6 9.9 0.7 2.7z" fill="#001dff"/><path d="M951.7 316.6l2.3 0.5 1.1-0.5 0.3-0.9 0.6-6.3 0.3-10.8-0.1-116.9-0.8-9.9-0.4-1.1-1.9-0.3-0.9 0.2-1.4 1.2-1.1 2.7-0.6 5.4-0.2 11.7 0.1 111.5 0.7 9.9 1.1 2.7z" fill="#0013ff"/><path d="M953.1 317l1.6-0.4 0.6-1.8 0.5-5.4 0.3-13.5-0.1-113.3-0.3-7.2-0.6-3.6-0.4-0.9-1.6-0.4-0.9 0.3-1.3 1-1 2.7-0.6 6.3-0.2 13.5 0.1 108.8 0.7 9.9 1 2.7z" fill="#000aff"/><path d="M952.2 316.6l2.1 0 0.6-0.9 0.4-1.8 0.4-5.4 0.2-15.3-0.2-112.4-0.6-8.1-0.8-1.8-1.2-0.2-2 1.1-1.2 3.6-0.6 21.6 0.1 106.1 0.6 9.9 1.1 2.7z" fill="#0001ff"/><path d="M952.9 316.6l1.1-0.2 0.7-0.7 0.6-3.6 0.5-31.5-0.2-99.8-0.7-8.1-0.9-1.6-0.9-0.2-0.9 0.2-1.5 1.6-0.9 4.5-0.4 38.7 0.3 91.7 0.3 4.5 0.7 2.7 0.6 0.9z" fill="#00f"/><path d="M951.4 315.7l1.7 0.8 0.9-0.3 0.8-1.4 0.5-4.5 0.2-8.1 0-120.5-0.7-9-0.8-1.4-0.9-0.3-0.9 0.2-0.9 0.8-1 2.5-0.6 12.6 0 115.1 0.5 9.9 0.6 2.7z" fill="#00f"/><path d="M951.6 315.7l1.5 0.6 0.9-0.4 0.6-1.1 0.6-4.5 0.2-9-0.1-118.7-0.5-9-0.6-1.8-1.1-0.6-0.9 0.1-0.9 0.9-0.8 2.3-0.7 13.5 0.1 114.2 0.4 9.9 0.7 2.7z" fill="#00f"/></g></g>
<path d="M937 473.0v-10.5M937 14.5v10.5M1027.2 473.0v-10.5M1027.2 14.5v10.5M1117.4 473.0v-10.5M1117.4 14.5v10.5M1207.6 473.0v-10.5M1207.6 14.5v10.5M1297.6 473.0v-10.5M1297.6 14.5v10.5M848.3 24.4h10.5M1308.3 24.4h-10.5M848.3 114.3h10.5M1308.3 114.3h-10.5M848.3 204.2h10.5M1308.3 204.2h-10.5M848.3 294.1h10.5M1308.3 294.1h-10.5M848.3 384h10.5M1308.3 384h-10.5" stroke="#000" stroke-opacity="0.7" stroke-width="1.6" fill="none"/>
<rect x="848.3" y="14.5" width="460.0" height="458.5" fill="none" stroke="#000" stroke-width="3.4"/>
<text class="s" x="832.8" y="33.3" font-size="25.5" text-anchor="end">250</text>
<text class="s" x="832.8" y="123.2" font-size="25.5" text-anchor="end">200</text>
<text class="s" x="832.8" y="213.1" font-size="25.5" text-anchor="end">150</text>
<text class="s" x="832.8" y="303" font-size="25.5" text-anchor="end">100</text>
<text class="s" x="832.8" y="392.9" font-size="25.5" text-anchor="end">50</text>
<text class="s" x="832.8" y="482.8" font-size="25.5" text-anchor="end">0</text>
<text class="s" x="852.4" y="514.8" font-size="25.5" text-anchor="middle">0</text>
<text class="s" x="942.6" y="514.8" font-size="25.5" text-anchor="middle">50</text>
<text class="s" x="1032.8" y="514.8" font-size="25.5" text-anchor="middle">100</text>
<text class="s" x="1123" y="514.8" font-size="25.5" text-anchor="middle">150</text>
<text class="s" x="1213.2" y="514.8" font-size="25.5" text-anchor="middle">200</text>
<text class="s" x="1303.2" y="514.8" font-size="25.5" text-anchor="middle">250</text>
<text class="s" x="725.9" y="32.2" font-size="44.5">(b)</text>
<text class="s" x="1100" y="543" font-size="34" text-anchor="middle">x (nm)</text>
<text class="s" transform="translate(775 233.4) rotate(-90)" font-size="33.6" text-anchor="middle">y (nm)</text>
<rect x="1317.6" y="14.5" width="24.3" height="459.1" fill="url(#cbar)" stroke="#111" stroke-width="1.2"/><path d="M1317.6 91h10M1341.9 91h-10M1317.6 167.5h10M1341.9 167.5h-10M1317.6 244.1h10M1341.9 244.1h-10M1317.6 320.6h10M1341.9 320.6h-10M1317.6 397.1h10M1341.9 397.1h-10" stroke="#000" stroke-width="1.3" fill="none"/>
<text class="s" x="1364" y="23.1" font-size="25.5">1.5</text>
<text class="s" x="1364" y="99.6" font-size="25.5">1</text>
<text class="s" x="1364" y="176.1" font-size="25.5">0.5</text>
<text class="s" x="1364" y="252.7" font-size="25.5">0</text>
<text class="s" x="1356.6" y="329.2" font-size="25.5">-0.5</text>
<text class="s" x="1356.6" y="405.7" font-size="25.5">-1</text>
<text class="s" x="1356.6" y="482.2" font-size="25.5">-1.5</text>
<g transform="translate(1427.3 297.2) rotate(-90)"><text class="s" x="0" y="0" font-size="34">H</text><text class="s" x="29" y="-21.5" font-size="20.5">z</text><text class="s" x="24.5" y="11.5" font-size="19.5">dip</text><text class="s" x="60.4" y="0" font-size="34">(T)</text></g>
<g filter="url(#cmc)"><rect x="105.7" y="533.8" width="475.7" height="475.7" fill="url(#cga)"/><rect x="105.7" y="533.8" width="475.7" height="475.7" fill="url(#cgb)" opacity="0.5"/></g>
<path d="M105.7 962.8L107.7 964.9L109.8 967L111.8 969.1L113.8 971.1L115.8 973.2L117.9 975.3L119.9 977.3L121.9 979.4L124 981.4L126 983.4L128 985.5L130 987.5L132.1 989.5L134.1 991.5L136.1 993.6L138.2 995.6L140.2 997.6L142.2 999.6L144.3 1001.6L146.3 1003.6L148.3 1005.5L150.3 1007.5L152.4 1009.5M105.7 882.8L111.2 888.9L116.7 894.8L122.2 900.7L127.7 906.6L133.2 912.4L138.7 918.2L144.2 923.9L149.8 929.6L155.3 935.2L160.8 940.8L166.3 946.3L171.8 951.8L177.3 957.3L182.8 962.7L188.3 968L193.8 973.4L199.3 978.7L204.8 983.9L210.3 989.1L215.8 994.3L221.3 999.4L226.8 1004.5L232.4 1009.5M105.7 795.9L115 807.1L124.3 818.1L133.6 828.8L142.8 839.4L152.1 849.7L161.4 859.9L170.7 869.9L180 879.7L189.3 889.4L198.5 898.9L207.8 908.3L217.1 917.5L226.4 926.5L235.7 935.4L245 944.2L254.3 952.8L263.5 961.3L272.8 969.7L282.1 977.9L291.4 986L300.7 994L310 1001.8L319.3 1009.5M105.7 696.8L119.3 715.9L132.9 734.2L146.5 751.8L160.1 768.7L173.7 785.1L187.3 800.9L200.9 816.2L214.5 831.1L228 845.5L241.6 859.5L255.2 873.1L268.8 886.3L282.4 899.2L296 911.7L309.6 923.8L323.2 935.7L336.8 947.1L350.4 958.3L364 969.2L377.6 979.7L391.2 989.9L404.8 999.9L418.4 1009.5M105.7 571.9L124.7 607.2L143.8 639.1L162.8 668.2L181.8 695.3L200.8 720.5L219.9 744.3L238.9 766.8L257.9 788.1L277 808.3L296 827.6L315 846L334 863.6L353.1 880.3L372.1 896.3L391.1 911.6L410.1 926.2L429.2 940L448.2 953.3L467.2 965.8L486.3 977.7L505.3 988.9L524.3 999.5L543.3 1009.5M164.1 533.8L182.3 570.5L200.4 602.9L218.5 632L236.7 658.7L254.8 683.4L273 706.5L291.1 728.1L309.3 748.5L327.4 767.7L345.5 785.9L363.7 803.1L381.8 819.5L400 835L418.1 849.8L436.3 863.8L454.4 877L472.5 889.6L490.7 901.5L508.8 912.7L527 923.3L545.1 933.2L563.3 942.5L581.4 951.1M244.9 533.8L259.6 561.8L274.2 587L288.8 610L303.4 631.2L318.1 651L332.7 669.5L347.3 687L362 703.4L376.6 719L391.2 733.7L405.8 747.7L420.5 761.1L435.1 773.7L449.7 785.8L464.4 797.3L479 808.2L493.6 818.6L508.2 828.4L522.9 837.7L537.5 846.6L552.1 855L566.8 862.9L581.4 870.3M333.2 533.8L344 552.6L354.8 570L365.6 586.2L376.4 601.3L387.2 615.5L398 629L408.8 641.7L419.5 653.9L430.3 665.4L441.1 676.4L451.9 686.9L462.7 696.9L473.5 706.5L484.3 715.6L495.1 724.4L505.9 732.8L516.7 740.8L527.4 748.5L538.2 755.8L549 762.8L559.8 769.5L570.6 775.9L581.4 782M435 533.8L441.3 543.2L447.7 552.3L454.1 560.9L460.4 569.1L466.8 577L473.2 584.6L479.5 591.9L485.9 599L492.3 605.8L498.6 612.3L505 618.6L511.4 624.8L517.7 630.7L524.1 636.4L530.5 641.9L536.8 647.3L543.2 652.4L549.6 657.5L555.9 662.3L562.3 667L568.7 671.6L575 676L581.4 680.2M566.7 533.8L567.3 534.5L568 535.1L568.6 535.8L569.3 536.5L569.9 537.1L570.5 537.8L571.2 538.4L571.8 539.1L572.5 539.7L573.1 540.4L573.7 541L574.4 541.7L575 542.3L575.6 542.9L576.3 543.6L576.9 544.2L577.6 544.8L578.2 545.4L578.8 546L579.5 546.7L580.1 547.3L580.8 547.9L581.4 548.5" stroke="#fff" stroke-width="2" fill="none"/>
<path d="M201.8 1009.5v-12M201.8 529v12M105.7 913.4h12M586.2 913.4h-12M297.9 1009.5v-12M297.9 529v12M105.7 817.3h12M586.2 817.3h-12M394 1009.5v-12M394 529v12M105.7 721.2h12M586.2 721.2h-12M490.1 1009.5v-12M490.1 529v12M105.7 625.1h12M586.2 625.1h-12" stroke="#000" stroke-width="1.4" fill="none"/>
<rect x="105.7" y="529" width="480.5" height="480.5" fill="none" stroke="#000" stroke-width="1.5"/>
<text class="s" x="88.9" y="1018.8" font-size="26.6" text-anchor="end">0</text>
<text class="s" x="106.9" y="1052.6" font-size="26.6" text-anchor="middle">0</text>
<text class="s" x="88.9" y="922.7" font-size="26.6" text-anchor="end">10</text>
<text class="s" x="203" y="1052.6" font-size="26.6" text-anchor="middle">10</text>
<text class="s" x="88.9" y="826.6" font-size="26.6" text-anchor="end">20</text>
<text class="s" x="299.1" y="1052.6" font-size="26.6" text-anchor="middle">20</text>
<text class="s" x="88.9" y="730.5" font-size="26.6" text-anchor="end">30</text>
<text class="s" x="395.2" y="1052.6" font-size="26.6" text-anchor="middle">30</text>
<text class="s" x="88.9" y="634.4" font-size="26.6" text-anchor="end">40</text>
<text class="s" x="491.3" y="1052.6" font-size="26.6" text-anchor="middle">40</text>
<text class="s" x="88.9" y="538.3" font-size="26.6" text-anchor="end">50</text>
<text class="s" x="587.4" y="1052.6" font-size="26.6" text-anchor="middle">50</text>
<text class="s" x="149.5" y="997.9" font-size="23.4" fill="#fff">-0.6</text>
<text class="s" x="214.2" y="987.1" font-size="23.4" fill="#fff">-0.7</text>
<text class="s" x="281.3" y="971.7" font-size="23.4" fill="#fff">-0.8</text>
<text class="s" x="345.7" y="946.6" font-size="23.4" fill="#fff">-0.9</text>
<text class="s" x="403.7" y="916.7" font-size="23.4" fill="#fff">-1.0</text>
<text class="s" x="456.3" y="871.4" font-size="23.4" fill="#fff">-1.1</text>
<text class="s" x="492.2" y="809.1" font-size="23.4" fill="#fff">-1.2</text>
<text class="s" x="516" y="731.3" font-size="23.4" fill="#fff">-1.3</text>
<text class="s" x="531.8" y="641.4" font-size="23.4" fill="#fff">-1.4</text>
<rect x="597.4" y="529.4" width="24.9" height="480.5" fill="url(#cbar)" stroke="#111" stroke-width="1.8"/><path d="M597.4 589.5h9.4M622.3 589.5h-9.4M597.4 649.5h9.4M622.3 649.5h-9.4M597.4 709.6h9.4M622.3 709.6h-9.4M597.4 769.6h9.4M622.3 769.6h-9.4M597.4 829.7h9.4M622.3 829.7h-9.4M597.4 889.8h9.4M622.3 889.8h-9.4M597.4 949.8h9.4M622.3 949.8h-9.4" stroke="#000" stroke-width="1.3" fill="none"/>
<text class="s" x="634.2" y="538.7" font-size="26.6">0</text>
<text class="s" x="634.2" y="598.8" font-size="26.6">-0.2</text>
<text class="s" x="634.2" y="658.8" font-size="26.6">-0.4</text>
<text class="s" x="634.2" y="718.9" font-size="26.6">-0.6</text>
<text class="s" x="634.2" y="778.9" font-size="26.6">-0.8</text>
<text class="s" x="634.2" y="839" font-size="26.6">-1</text>
<text class="s" x="634.2" y="899.1" font-size="26.6">-1.2</text>
<text class="s" x="634.2" y="959.1" font-size="26.6">-1.4</text>
<text class="s" x="634.2" y="1019.2" font-size="26.6">-1.6</text>
<text class="s" x="-0.8" y="566.2" font-size="44.5">(c)</text>
<text class="r" x="282.3" y="1089" font-size="32.5">Δθ</text>
<text class="s" x="320" y="1100.4" font-size="19">1</text>
<text class="s" x="340.2" y="1089" font-size="34">(deg)</text>
<g transform="translate(43.6 830.9) rotate(-90)"><text class="r" x="0" y="0" font-size="32.5">Δθ</text><text class="s" x="38" y="11.4" font-size="19">2</text><text class="s" x="57.4" y="0" font-size="34">(deg)</text></g>
<g transform="translate(717 817) rotate(-90)"><text class="s" x="0" y="0" font-size="35.5">H</text><text class="s" x="28.6" y="-7.6" font-size="20.5">z</text><text class="s" x="25.6" y="11.5" font-size="20">dip</text><text class="s" x="63.6" y="0" font-size="35.5">(T)</text></g>
<g clip-path="url(#dclip)" fill="url(#gg)" stroke="#000" stroke-width="2.1">
<rect x="834.7" y="528.4" width="176.2" height="73.6" rx="25" ry="36.8"/>
<rect x="1026.6" y="528.4" width="176.2" height="73.6" rx="25" ry="36.8"/>
<rect x="1218.9" y="528.4" width="176.2" height="73.6" rx="25" ry="36.8"/>
<rect x="713.3" y="618.3" width="176.2" height="73.6" rx="25" ry="36.8"/>
<rect x="905.2" y="618.3" width="176.2" height="73.6" rx="25" ry="36.8"/>
<rect x="1097.6" y="618.3" width="176.2" height="73.6" rx="25" ry="36.8"/>
<rect x="1290.1" y="618.3" width="176.2" height="73.6" rx="25" ry="36.8"/>
<rect x="800.9" y="708.4" width="176.2" height="73.6" rx="25" ry="36.8"/>
<rect x="992.9" y="708.4" width="176.2" height="73.6" rx="25" ry="36.8"/>
<rect x="1185.6" y="708.4" width="176.2" height="73.6" rx="25" ry="36.8"/>
<rect x="842" y="800.4" width="176.2" height="73.6" rx="25" ry="36.8"/>
<rect x="1034.8" y="800.4" width="176.2" height="73.6" rx="25" ry="36.8"/>
<rect x="1225.6" y="800.4" width="176.2" height="73.6" rx="25" ry="36.8"/>
<rect x="713.3" y="890.9" width="176.2" height="73.6" rx="25" ry="36.8"/>
<rect x="906" y="890.9" width="176.2" height="73.6" rx="25" ry="36.8"/>
<rect x="1097.7" y="890.9" width="176.2" height="73.6" rx="25" ry="36.8"/>
<rect x="1290.8" y="890.9" width="176.2" height="73.6" rx="25" ry="36.8"/>
<rect x="810.2" y="983.9" width="176.2" height="73.6" rx="25" ry="36.8"/>
<rect x="1003" y="983.9" width="176.2" height="73.6" rx="25" ry="36.8"/>
<rect x="1194.6" y="983.9" width="176.2" height="73.6" rx="25" ry="36.8"/>
</g>
<rect x="857.2" y="567" width="515.8" height="466" fill="none" stroke="#000" stroke-width="2.4"/>
<polygon points="0,-23 -16.3,-1.0 -6.8,-2.2 -6.8,23 6.8,23 6.8,-2.2 16.3,-1.0" transform="translate(993.7 654.9) rotate(-5.3)" fill="#ff0000" stroke="#000" stroke-width="2.4" stroke-linejoin="miter"/>
<polygon points="0,-23 -16.3,-1.0 -6.8,-2.2 -6.8,23 6.8,23 6.8,-2.2 16.3,-1.0" transform="translate(1065 744.3) rotate(25.1)" fill="#ff0000" stroke="#000" stroke-width="2.4" stroke-linejoin="miter"/>
<polygon points="0,-23 -16.3,-1.0 -6.8,-2.2 -6.8,23 6.8,23 6.8,-2.2 16.3,-1.0" transform="translate(1157.5 653.1) rotate(-26.4)" fill="#ff0000" stroke="#000" stroke-width="2.4" stroke-linejoin="miter"/>
<polygon points="0,-23 -16.3,-1.0 -6.8,-2.2 -6.8,23 6.8,23 6.8,-2.2 16.3,-1.0" transform="translate(891 834.8) rotate(43)" fill="#ff0000" stroke="#000" stroke-width="2.4" stroke-linejoin="miter"/>
<polygon points="0,-23 -16.3,-1.0 -6.8,-2.2 -6.8,23 6.8,23 6.8,-2.2 16.3,-1.0" transform="translate(1078.7 836.7) rotate(-61.3)" fill="#ff0000" stroke="#000" stroke-width="2.4" stroke-linejoin="miter"/>
<text class="r" x="1187.2" y="664.4" font-size="40" fill="#d2cbe9">Δθ</text>
<text class="r" x="1234.6" y="679.8" font-size="24" fill="#d2cbe9"><tspan font-style="italic">i</tspan>,3</text>
<text class="r" x="1097.7" y="759.9" font-size="40" fill="#ffff6e">Δθ</text>
<text class="r" x="1145.6" y="773.4" font-size="24" fill="#ffff6e"><tspan font-style="italic">i</tspan></text>
<text class="r" x="925.4" y="849.3" font-size="40" fill="#86f7a5">Δθ</text>
<text class="r" x="973.8" y="863.6" font-size="24" fill="#86f7a5"><tspan font-style="italic">i</tspan>,2</text>
<text class="r" x="1114.5" y="849.3" font-size="40" fill="#a6f6f6">Δθ</text>
<text class="r" x="1162.7" y="863.6" font-size="24" fill="#a6f6f6"><tspan font-style="italic">i</tspan>,1</text>
<text class="s" x="725.6" y="573" font-size="44.5">(d)</text>
<path d="M762.2 1016.4V970M762.2 1016.4H795M745.5 1016.4H762.2M762.2 1016.4V1031.9" stroke="#000" stroke-width="2.6" fill="none"/>
<polygon points="762.4,951.6 769.5,978.1 755.3,978.1"/>
<polygon points="813.1,1016.4 786.6,1023.5 786.6,1009.3"/>
<circle cx="762.2" cy="1016.4" r="10.2" fill="#fff" stroke="#000" stroke-width="2.5"/><circle cx="762.2" cy="1016.4" r="5.2"/>
<text class="s" x="753.6" y="946.7" font-size="32">z</text>
<text class="s" x="740.6" y="1001.9" font-size="32">y</text>
<text class="s" x="794.5" y="1004.7" font-size="32">x</text>
<g stroke-width="7.2" stroke-linecap="round" fill="none">
<path d="M378.2 1508.9h0M377 1403.5h0M318.3 1448.1h0M371.9 1332h0M377.2 1516.3h0M376 1325.8h0M390.7 1378.1h0M333.1 1486.1h0M389.4 1441.8h0M350.9 1535h0M376.4 1416.6h0M311 1440.9h0M376.2 1408h0" stroke="#0040f9"/>
<path d="M333.7 1487.2h0M371.8 1468.2h0M445.8 1537.4h0M308.4 1498.6h0M404.7 1335.6h0M452.4 1472.7h0M411.1 1495.4h0M417.1 1446.4h0M462.2 1468.1h0M289.4 1443.2h0M446.1 1382.7h0M403.1 1510.1h0" stroke="#0060e8"/>
<path d="M339 1494h0M420.1 1482.5h0M349.8 1262h0M287.7 1494.1h0M298.6 1462.2h0M363.7 1501.6h0M408.4 1390.7h0M357.4 1457.3h0M395 1510.5h0M416.6 1482.1h0M379.2 1512h0M406.7 1412.9h0M403.8 1492.2h0" stroke="#0082cf"/>
<path d="M336.6 1465.4h0M412.4 1529.1h0M427.3 1518.4h0M433.6 1529.4h0M328 1491.1h0M376.5 1519.3h0M330.8 1488.7h0M266.1 1509.7h0M423.2 1351.3h0M323.8 1507.8h0M394.4 1489.8h0M257.7 1542.7h0" stroke="#009cb8"/>
<path d="M291.9 1291h0M369.7 1432.8h0M386.5 1523.2h0M340.2 1489.2h0M368.7 1365.8h0M310.7 1331.6h0M368.4 1523.6h0M401.7 1457.2h0M390.7 1525.2h0M333.3 1462.5h0M315.4 1497.4h0M405.3 1529.3h0M251 1457.9h0" stroke="#00b2a6"/>
<path d="M323 1487.5h0M218.3 1525.1h0M220.9 1524.2h0M283.6 1500.6h0M345 1529.3h0M257.9 1516.6h0M274.2 1491.6h0M297.2 1436.9h0M387.9 1462.9h0M205.6 1463.1h0M312.4 1471.8h0M265.8 1467.3h0M305.7 1498.7h0M325.8 1546.2h0" stroke="#00c994"/>
<path d="M296.7 1451.2h0M264.6 1482.2h0M293.6 1452.9h0M312.8 1381.7h0M191.1 1464h0M307.7 1371h0M348 1370.8h0M321.3 1473.2h0M312.8 1464.9h0M254.7 1355.2h0M329.1 1410.3h0M232 1425.5h0M334.1 1460.5h0M217.5 1334.2h0M289.2 1335.9h0M317 1539.8h0M254.7 1498.6h0M344.3 1447h0M308.9 1546.2h0M297.8 1388h0" stroke="#04de7a"/>
<path d="M255.3 1554.8h0M256.2 1477.2h0M257.1 1433.7h0M222.9 1488.4h0M277.6 1489.2h0M280.6 1415.4h0M287 1506.2h0M212.2 1547.4h0M306.5 1487.5h0M314.9 1558.1h0M303.3 1453.5h0M255.6 1363.6h0M239.6 1530.8h0M313 1536.6h0M237.5 1511.6h0M308.8 1480.6h0M347.1 1418.7h0M263.2 1503.5h0" stroke="#1ce767"/>
<path d="M299.8 1522.8h0M304.2 1508.5h0M303.4 1468h0M286 1287.7h0M301.4 1502.4h0M247 1440h0M297.3 1391.4h0M343.3 1468h0M340.1 1501.6h0M234.2 1504.1h0M213.8 1502h0M316.6 1500.1h0M275 1440.7h0M294.6 1433.2h0M336.1 1535.1h0M298.5 1441.8h0M299.5 1548.5h0M238.9 1486.6h0M278.8 1523.9h0M243.7 1482.1h0M352.1 1544.8h0M285.5 1474.1h0M311 1281.2h0M257.1 1535.6h0M359.9 1479.3h0M392.7 1486.6h0M247 1492h0" stroke="#39ee5a"/>
<path d="M244.4 1492.9h0M284.9 1501.1h0M189.6 1294.4h0M251.9 1479.4h0M266.1 1349.5h0M317.6 1538.9h0M224.1 1519.4h0M254.7 1465.7h0M334 1433.9h0M270.7 1457.8h0M331.6 1522.7h0M316.3 1478h0M295.4 1418.4h0M315.1 1453.6h0M286.6 1445.2h0M296 1468.4h0M329.9 1421.9h0M306.9 1492.1h0M300.7 1488.5h0M214.8 1511.8h0M349.9 1504.1h0M220.6 1497.4h0M219.6 1543.5h0M231.3 1451h0M330.5 1434.2h0" stroke="#5ff641"/>
<path d="M222.7 1475h0M266.2 1511.7h0M263 1366.5h0M210.7 1495h0M247.8 1455.2h0M342.5 1498.6h0M315.9 1412.8h0M147.8 1533.7h0M214.6 1505.8h0M308.8 1416h0M307.2 1503.6h0M310 1375.2h0M341.7 1383.7h0M273.8 1442.1h0M290.5 1447.9h0M236.6 1493.7h0M229.5 1523.3h0M250.8 1436.8h0M214.8 1532.6h0" stroke="#86f928"/>
<path d="M190.6 1498h0M157.5 1522.3h0M218.9 1518.2h0M287.9 1467.5h0M228.4 1418.9h0M183.2 1541.4h0M208.6 1479.8h0M308.2 1564.6h0M334.7 1507.2h0M236.9 1434.8h0M326.8 1447.1h0M253.7 1368.9h0M335.6 1417.9h0M196.1 1434.8h0M243.3 1503.1h0M274.4 1348.6h0M263.2 1452.4h0M206.9 1517.7h0M307.2 1493.7h0M209.1 1542.3h0M264 1473.8h0M211.4 1529h0" stroke="#aaf613"/>
<path d="M312.5 1496.5h0M211.4 1563.2h0M162.8 1550.1h0M229.1 1414.1h0M155 1514.6h0M333.1 1357.6h0M196.1 1477.5h0M165.6 1518.4h0M252.9 1506.1h0M219.5 1405.8h0M166.8 1500.4h0M335.5 1546h0M233.6 1428.9h0M260.3 1469.8h0M282 1443.2h0M216.2 1497h0M179.7 1475.4h0M159.2 1461.7h0M230.7 1526.4h0M247 1459h0M272.6 1405h0M190 1521.6h0" stroke="#d3ef06"/>
<path d="M201.7 1510h0M283.2 1500.2h0M239.9 1520.1h0M276.6 1354.3h0M204.2 1526.3h0M194.1 1539.9h0M257.7 1486.3h0M231.1 1524.8h0M293.6 1486.9h0M267.2 1544.2h0M136.4 1484.8h0M285.2 1455.6h0M241 1459.8h0M217.5 1506h0M167.6 1455.3h0M194.1 1465.9h0M239.3 1515.7h0M239.4 1472.5h0" stroke="#f3e600"/>
<path d="M256.9 1419.8h0M211.6 1493.9h0M166.1 1524.6h0M257.9 1509.8h0M209.3 1544.8h0M256.7 1372.2h0M135.1 1452.5h0M249.1 1531.6h0M243.5 1490.9h0M162.9 1452.4h0M229.3 1404.1h0M229.2 1522.8h0M224.6 1438.3h0" stroke="#ffd700"/>
<path d="M208.5 1468h0M210 1406.4h0M277.4 1480.6h0M250.7 1397.2h0M260.3 1331.2h0M184.2 1527h0M241.5 1447.1h0M181 1493.3h0M195.6 1439.9h0M223.5 1551.2h0M236.1 1421.1h0M170.8 1461.3h0M218.9 1533.6h0M237.7 1533.9h0M138.5 1478.8h0M141.7 1512.7h0" stroke="#ffbc00"/>
<path d="M179.7 1502.1h0M316.8 1525.3h0M213.5 1539h0M211.5 1547.9h0M212.5 1489h0M249.3 1442.3h0M172.1 1489.5h0M166.4 1494.8h0M228.4 1440h0" stroke="#ffa000"/>
<path d="M230.6 1459.1h0M160.8 1461.4h0M147.7 1527.1h0" stroke="#f80"/>
<path d="M180.8 1510.1h0" stroke="#ff6b00"/>
<path d="M133.6 1513.7h0" stroke="#ff4b00"/>
<path d="M146.9 1526h0M168.7 1537.6h0M138.9 1504.1h0M165.2 1500.7h0" stroke="#ff0f00"/>
<path d="M392.8 1472.7h0M360.4 1435.2h0M366.1 1548.4h0M382.4 1355.6h0M385.1 1494.3h0M336.3 1439.1h0M383.5 1382.3h0M380 1446.9h0M360.2 1520.9h0M389 1496.1h0M333.7 1481.7h0M375.8 1456.4h0M317.5 1521.3h0M369.9 1406.5h0M373.5 1461.9h0M382.9 1394.9h0M394.5 1444.2h0" stroke="#0040f9"/>
<path d="M467.9 1469.5h0M459.8 1323.6h0M340.9 1404h0M410 1497.1h0M345.3 1543.1h0M411.6 1343.5h0M453.2 1377.5h0M397.9 1397.3h0M428.5 1519.8h0M423.7 1425.6h0M424.4 1414.6h0M259 1441.9h0M354.2 1419h0M323.6 1429.9h0" stroke="#0060e8"/>
<path d="M444.1 1452.5h0M323.8 1427.5h0M348.7 1462h0M282.8 1535.9h0M294.9 1526.7h0M432.2 1473.6h0M332.1 1535.7h0M451 1432.3h0M442.3 1459.5h0M425.4 1346.8h0M274.2 1425.2h0M418.3 1359.3h0M299 1461.2h0M478.4 1429.9h0M393.3 1501.6h0M296.6 1421.9h0" stroke="#0082cf"/>
<path d="M333.6 1342.2h0M376.9 1420.9h0M436.6 1423.2h0M462.7 1399h0M372 1488h0M343.5 1470.2h0M354.4 1504.8h0M328.5 1454.4h0M355.6 1471.3h0M342.4 1464.7h0M337.2 1452.3h0M399.6 1350.4h0" stroke="#009cb8"/>
<path d="M346.1 1418.9h0M291.3 1478.7h0M336 1460.6h0M290.6 1553.1h0M278 1521.7h0M323.6 1313h0M319.4 1470h0M356.9 1532.8h0M297.7 1469.9h0M316.2 1549.1h0M395 1480.3h0M333.7 1502.3h0M323.8 1487.9h0M363.3 1506.1h0" stroke="#00b2a6"/>
<path d="M310.6 1428.5h0M365.3 1447.2h0M374 1435.3h0M327.6 1450.1h0M284.5 1463.2h0M370.8 1520.3h0M283 1491.8h0M357.1 1483.3h0M314.7 1480.2h0M288.9 1504.8h0M298.5 1457h0M311.5 1388.3h0M282.6 1360.7h0M234.2 1521.6h0M293.2 1519.9h0M330.4 1478.6h0M301.5 1454.8h0M300.7 1514.1h0M382.5 1406.5h0" stroke="#00c994"/>
<path d="M285.8 1528.5h0M237.7 1461.6h0M227.2 1513.1h0M289.8 1396h0M382.6 1432.1h0M363.5 1502.6h0M339.3 1443h0M283.3 1498.6h0M274.7 1531h0M389.5 1475.7h0M372.6 1460.7h0M297.9 1483h0M338.8 1472.2h0M258 1456.3h0M337.6 1497.5h0" stroke="#04de7a"/>
<path d="M328 1463.4h0M267.8 1504.1h0M279.5 1442.3h0M293.6 1560.1h0M270.1 1320.5h0M305 1356.3h0M263.6 1523.7h0M319 1397.7h0M261.8 1453h0M188 1413.5h0M298.6 1419.2h0M327.9 1488.8h0M246.1 1539.7h0M296.7 1512.2h0M309.9 1511h0M327.8 1507.9h0M303.2 1491.2h0M304 1449.8h0M134.1 1457.9h0M255.3 1496.4h0M262.2 1468.1h0M347.1 1441h0" stroke="#1ce767"/>
<path d="M234.7 1541.9h0M271.4 1396.7h0M182.5 1506.1h0M275.3 1360.5h0M217.4 1443.6h0M330.8 1460.1h0M333.2 1529.4h0M196.9 1494.1h0M391.2 1454.3h0M331.1 1519.4h0M228.9 1523.5h0M342.5 1518.2h0M289.5 1519.6h0M336.9 1497.7h0M286.5 1383.9h0M252.8 1493.1h0M332.3 1548.2h0M290.3 1477.2h0M279.8 1532.8h0M259.6 1318.7h0M247.4 1501.5h0M243.2 1530.9h0M257.7 1369.4h0M238.8 1530.2h0" stroke="#39ee5a"/>
<path d="M174.5 1539.2h0M305 1379.8h0M144 1524.6h0M256.7 1523.9h0M222.5 1420.3h0M273.8 1459h0M283.3 1503.9h0M250.9 1406.2h0M277.1 1451.3h0M301 1443.3h0M222.8 1532.8h0M279.6 1347.8h0M263.2 1378.6h0M232.3 1420.4h0M393.4 1417.7h0M230.3 1540h0M358.7 1418.6h0M338.8 1339.3h0M286.5 1523.3h0M274.4 1482.5h0M283.6 1527.2h0M258.9 1443.5h0M236.1 1467.1h0" stroke="#5ff641"/>
<path d="M229 1480.8h0M351.8 1521.6h0M255 1370.4h0M287.3 1486.3h0M302.2 1485.7h0M221.3 1513.9h0M254.6 1379.7h0M153.4 1441.9h0M313.8 1544.2h0M188.6 1498.1h0M197.3 1497.2h0M238.1 1509.4h0M249.3 1514.3h0M270 1416.1h0M279.8 1481.3h0M321.4 1519.2h0M168.4 1485.5h0M157 1543.7h0M260.1 1460.4h0M235.1 1451h0M298.5 1502.6h0" stroke="#86f928"/>
<path d="M289.8 1510.8h0M220.2 1479h0M222.5 1314.4h0M354.5 1478.6h0M135.1 1521.7h0M281.7 1403.6h0M197.4 1514.6h0M315.9 1386.2h0M233.3 1489.5h0M285.9 1419.6h0M182 1491.3h0M246 1486.1h0M239.2 1446.7h0M232 1521.5h0M279.7 1370.2h0M189.5 1547.1h0M239.7 1412.2h0M301.5 1494.5h0M198.9 1501h0M210 1514.6h0M224.4 1380h0M312.3 1358.7h0" stroke="#aaf613"/>
<path d="M308.3 1475h0M265.3 1482.1h0M202.5 1498.1h0M187.2 1423.6h0M169.5 1459.7h0M227.5 1506.9h0M177.4 1525.6h0M218.2 1474.3h0M279.7 1355.7h0M180.3 1493.7h0M252.1 1485.7h0M179.2 1465.9h0M187.7 1513.7h0" stroke="#d3ef06"/>
<path d="M274.5 1453h0M222 1498.5h0M225.9 1433.6h0M179.2 1355.7h0M194.8 1521.5h0M134.5 1527.6h0M153.2 1491.7h0M289 1537.4h0M171.6 1530.4h0M229.8 1521.7h0M213.1 1545h0M320.2 1470.5h0M214.8 1511.4h0M243 1475.3h0M197.4 1486.6h0M188.4 1512.5h0M208.7 1524.1h0M263.2 1266h0M253.6 1421.7h0M134.4 1502.1h0M315.2 1464.1h0" stroke="#f3e600"/>
<path d="M211 1535.1h0M227.1 1461.4h0M157.8 1532.3h0M244.9 1468.3h0M205.1 1448.6h0M245 1452.4h0M206.3 1470h0M173.9 1475.6h0M306.5 1408.1h0M160.2 1527.3h0M258.8 1504.4h0M243 1516.3h0" stroke="#ffd700"/>
<path d="M262.3 1498.3h0M186.8 1404.7h0M232.3 1431.8h0M123.7 1512.6h0M189.6 1455.7h0M175.6 1495.5h0M169.3 1417.3h0M201.2 1417.1h0M229 1451.7h0" stroke="#ffbc00"/>
<path d="M150.6 1551.3h0M155.2 1538.7h0M226.4 1516.1h0M156.4 1521.7h0M158.1 1548.5h0M228.5 1510.2h0M145.2 1516.6h0" stroke="#ffa000"/>
<path d="M218 1519.3h0M215.9 1530.5h0M277.1 1550.5h0M282.3 1374.6h0M172.1 1526.2h0M233.7 1487.8h0" stroke="#f80"/>
<path d="M149.9 1480.7h0M152 1546.8h0M187.1 1535.8h0M147.8 1554.7h0" stroke="#ff6b00"/>
<path d="M149.1 1538.8h0M174.8 1516.7h0M186 1515.3h0" stroke="#ff4b00"/>
<path d="M122.5 1506.1h0" stroke="#ff2d00"/>
<path d="M385.2 1474.6h0M345.9 1481.6h0M344.8 1442h0M355 1455.4h0" stroke="#0040f9"/>
<path d="M396 1460.4h0M476.8 1446.4h0M364.5 1320.5h0M427.3 1380.2h0M421.8 1465h0M376.7 1472.3h0M406 1357.9h0M386.5 1512.3h0M359.9 1449.6h0M458.6 1428.6h0M378.9 1355.5h0M368.8 1358.5h0M312.2 1482.4h0M415.1 1428.3h0M395.4 1506.9h0M445.6 1438.3h0M415.6 1484.2h0M322.1 1438.1h0M387.1 1446h0" stroke="#0060e8"/>
<path d="M415 1471.5h0M428.2 1381.1h0M423.9 1472.5h0M402.8 1503h0M299.9 1487.1h0M369.3 1444.9h0M370.9 1507.6h0M378.9 1441.6h0M419 1503.2h0M392.7 1468.3h0M368.3 1465.4h0M394.1 1394.1h0M387.5 1497.8h0M423 1438.8h0" stroke="#0082cf"/>
<path d="M254.8 1506.3h0M386 1432.6h0M351.3 1461.3h0M240.9 1534.9h0M351 1436.2h0M348.2 1440h0M441.3 1475.5h0M294.2 1332.1h0M302.2 1469.9h0M343.9 1483.1h0M322.4 1339.5h0M278.8 1468.2h0M366.3 1341.8h0M303.6 1546.6h0" stroke="#009cb8"/>
<path d="M325.8 1478.8h0M253.1 1428.2h0M239.2 1461.4h0M291 1516.7h0M364.7 1484.6h0M300.3 1534.8h0M268.5 1436.6h0M361.3 1519.1h0M201.5 1404.9h0M308.3 1376.9h0M357.1 1507.2h0M346.6 1454.6h0M297 1436.9h0M283 1486.4h0M337.7 1501.8h0" stroke="#00b2a6"/>
<path d="M293.2 1417.5h0M330.7 1537.3h0M239.2 1398.4h0M315.8 1523.3h0M344.5 1509.9h0M229.1 1471.3h0M373.8 1461.2h0M289.4 1292.7h0M332.6 1458.1h0M344.4 1516h0M361.4 1473.6h0M318.2 1539.3h0M394 1503.6h0M415.8 1517.2h0M358.1 1483.3h0M377.9 1476.2h0M332.9 1519.5h0M352.7 1547.6h0M285.1 1471.6h0M334.1 1410.2h0M336.5 1431.8h0" stroke="#00c994"/>
<path d="M285.2 1471.1h0M326.8 1351.4h0M341.5 1304.2h0M166.9 1495.9h0M224.5 1513.3h0M395.7 1487h0M232.7 1479.2h0M312.8 1442.8h0M374.7 1551.2h0M315.4 1449.4h0M320.8 1301.1h0M339.2 1430.1h0M293.9 1432.8h0M267.9 1539.6h0M370.5 1468.4h0M270.8 1459.3h0M253.6 1518.1h0M290.2 1432.2h0M266.2 1497.8h0M330.6 1338.3h0M331.7 1496.7h0M282.2 1363.2h0M357.1 1396.6h0" stroke="#04de7a"/>
<path d="M237.9 1471.5h0M261.8 1338.6h0M213.4 1450.6h0M259.7 1540h0M258.7 1461.2h0M224.6 1455.6h0M270.5 1488.1h0M380.9 1511.8h0M389.5 1502.4h0M256.6 1519.7h0M294.6 1517.3h0M290.7 1511.5h0M279.3 1483.6h0M240.8 1438h0M194.7 1520.3h0M222.9 1560.8h0M367.5 1408.1h0M311.4 1394.4h0" stroke="#1ce767"/>
<path d="M232.4 1441.4h0M230.1 1506.7h0M263.6 1532.4h0M259.8 1483.1h0M281.6 1450.1h0M315.7 1485.9h0M347.2 1529.2h0M302.8 1491.6h0M279 1371.2h0M259.3 1426.7h0M381.4 1486.2h0M289.7 1412.7h0M291.9 1490.6h0M250 1452.9h0M264.6 1327.6h0M215.7 1396.7h0M327.7 1443.2h0M281.3 1312.4h0M333.3 1529.8h0M289.1 1345h0M198.8 1542.7h0M383.7 1492.4h0M293.9 1464.1h0M275.4 1452.3h0" stroke="#39ee5a"/>
<path d="M239.1 1453.9h0M251.3 1413.3h0M258.6 1424h0M273.6 1510.3h0M263.2 1461.5h0M200.8 1476.3h0M318.5 1419.6h0M239.9 1491h0M308.4 1434.6h0M335.9 1395h0M233.2 1492.7h0M239.4 1481.8h0M232.3 1465.8h0M342.7 1507.4h0M269.1 1460h0M241 1535.2h0M240 1378.6h0M299.4 1543.2h0M230.1 1545.1h0M236.4 1451.2h0M239.3 1492.7h0M186.4 1545.8h0" stroke="#5ff641"/>
<path d="M343.7 1399.1h0M280.1 1520.4h0M287.6 1512.1h0M184.8 1498.5h0M323 1340.4h0M268.9 1499.2h0M204.9 1443.8h0M284 1433.3h0M275.8 1476.9h0M272.6 1495.7h0M310 1433h0M257.3 1479.1h0M339.9 1455.7h0M225.8 1498.1h0M252.4 1518.9h0M224.5 1471.9h0M231.3 1477.2h0M243.6 1472.7h0M300.2 1523.7h0M193.4 1444h0M382 1478.3h0" stroke="#86f928"/>
<path d="M212 1279.7h0M314 1531.6h0M289.9 1442.9h0M257.3 1409.1h0M258.2 1379.1h0M351.5 1480.6h0M291.4 1538.3h0M245.2 1473.4h0M209.2 1360.3h0M224.3 1511.3h0M287.1 1483.5h0M225.9 1438.3h0M233 1455.9h0M191.9 1509.1h0M246.7 1391.6h0M266.3 1428.6h0M225.9 1535.5h0M182.8 1540.5h0M238.2 1448.1h0" stroke="#aaf613"/>
<path d="M342.4 1493.4h0M283.2 1387.5h0M243.7 1359.9h0M151.4 1488.9h0M287.4 1396.2h0M200.5 1485.6h0M288.8 1482.5h0M210 1400.6h0M215.8 1525.5h0M149.4 1536.9h0M170.7 1452.1h0M298.6 1516.9h0M182.4 1448.7h0M304.7 1475.3h0M231.5 1456.9h0M210.8 1448.8h0M203.6 1518.4h0M312.9 1407.8h0" stroke="#d3ef06"/>
<path d="M187 1523.7h0M211.8 1442.4h0M231.3 1537.1h0M236.4 1508.3h0M209 1530.2h0M200 1544.6h0M218.8 1500.5h0M227.1 1520.3h0M250 1484.2h0M258.6 1517.5h0M177.3 1537.6h0" stroke="#f3e600"/>
<path d="M262.5 1466.6h0M204 1471h0M244.3 1502.4h0M146.2 1451.6h0M337.6 1449.1h0M283.3 1464.3h0M171.4 1491.9h0M200.4 1524.7h0M136.8 1516.6h0M191 1457.4h0M319 1465.4h0M149.3 1510.5h0M149 1517.9h0M240.5 1472h0M275.3 1415.9h0M246 1497.2h0" stroke="#ffd700"/>
<path d="M284.6 1491.3h0M245.1 1541.6h0M150.2 1490.2h0M188.7 1545.3h0M138.4 1533.8h0M171.8 1532.2h0M249.9 1453.8h0M220.8 1500.8h0M225.1 1523.5h0M240.5 1480.6h0M233.5 1532.9h0M217.2 1488.2h0" stroke="#ffbc00"/>
<path d="M218.5 1501.6h0M150.7 1523.6h0M190.9 1457.9h0M224.6 1366h0" stroke="#ffa000"/>
<path d="M255.5 1462h0M226.5 1476.8h0M177 1500.1h0M233.7 1452.1h0M221.1 1534h0M195.3 1520.5h0M176.7 1521.5h0" stroke="#f80"/>
<path d="M190.6 1501.4h0M204.7 1404.7h0M187.6 1507.2h0M236.2 1517.6h0M128.3 1510.2h0" stroke="#ff6b00"/>
<path d="M145.9 1470.3h0" stroke="#ff4b00"/>
<path d="M150.4 1488.2h0M223.1 1453.1h0M192.9 1519.1h0M199.8 1391.7h0" stroke="#ff2d00"/>
<path d="M139.8 1535.4h0M142.7 1526h0" stroke="#ff0f00"/>
<path d="M320.7 1456.2h0M342.5 1515.5h0M311.2 1481.8h0M319.8 1449.8h0M384.1 1334.5h0M393.9 1438.3h0M305.8 1439.1h0M399.2 1490.3h0M344.5 1468.2h0M378.5 1425h0" stroke="#0040f9"/>
<path d="M352.5 1366.7h0M435.5 1321.6h0M482.8 1378.7h0M367.1 1500.5h0M412.4 1487.1h0M434.2 1423h0M401.4 1470.1h0M401.6 1476.4h0M392.3 1433h0" stroke="#0060e8"/>
<path d="M406 1513.5h0M465.6 1357.8h0M384.7 1439.1h0M287.7 1535.4h0M458.6 1367.4h0M312.3 1505.3h0M397.7 1502.4h0M289.6 1376.9h0M338.4 1525.5h0M293.3 1448h0M426.3 1391.9h0M307.8 1460.7h0M362 1314.7h0M393.3 1477.3h0" stroke="#0082cf"/>
<path d="M317.7 1504h0M304.8 1468h0M303.3 1405h0M204.6 1515.3h0M388.5 1450.9h0M365 1395.7h0M441.8 1421.6h0M339.2 1424.2h0M340.4 1493.2h0M370.5 1513.5h0M329.6 1457.2h0M371.5 1275.7h0M356.6 1487.8h0" stroke="#009cb8"/>
<path d="M349.3 1470.4h0M283.9 1500.3h0M292.5 1476.7h0M298.2 1492.2h0M207 1496.3h0M277.2 1557.6h0M373.7 1374.6h0M294.1 1518.5h0M325.6 1503.3h0M258.8 1461.6h0M376.7 1485.4h0M361 1349.9h0M267.4 1408.1h0M442.6 1460.1h0M357.6 1538.9h0M313.9 1431.3h0M327.5 1472.2h0M320.6 1549h0M322.5 1399.3h0M300.2 1488.4h0M183.1 1462.5h0" stroke="#00b2a6"/>
<path d="M337.3 1450.5h0M289.7 1383.1h0M371 1514.7h0M365.4 1518.5h0M363.1 1437.3h0M277.9 1434.3h0M319.9 1357.6h0M394.7 1460.3h0M372.2 1455.4h0M316.6 1446.4h0M341.6 1516.6h0M318.6 1461.8h0M327.9 1479.9h0M319.3 1531.8h0M296.1 1412h0M322.2 1437.4h0M331.8 1497.1h0M298.6 1343.1h0" stroke="#00c994"/>
<path d="M337.1 1490.2h0M290.5 1512.5h0M318.7 1462.7h0M259.1 1330h0M325.6 1503.9h0M202.2 1528.7h0M298.9 1392.8h0M332.9 1464.5h0M266.1 1446.1h0M355.9 1506.3h0M323 1408.8h0M259.4 1501.8h0M328.7 1482.5h0M357.1 1528h0M280.4 1392.3h0M325.1 1364.1h0M355.2 1457h0M340.4 1457.8h0M331 1487.9h0" stroke="#04de7a"/>
<path d="M231.3 1490.8h0M313.4 1464.6h0M276.4 1422.5h0M303.3 1506.6h0M238.2 1498h0M359.4 1473.2h0M298 1345.7h0M265.6 1452h0M258.9 1513.6h0M278.9 1476.6h0" stroke="#1ce767"/>
<path d="M269.8 1493.7h0M341.1 1537.4h0M303.9 1450.2h0M244.2 1480.8h0M279.5 1494.1h0M300.7 1529h0M280.7 1499h0M313.7 1249.8h0M294.6 1281.8h0M267 1303.5h0M338.3 1455.2h0M319.8 1414.9h0M339.4 1394.6h0M306.1 1480.8h0M295.4 1416.4h0M298.2 1527.2h0M361.9 1529.4h0M250.7 1345.5h0M297.7 1497.9h0M212.6 1514.8h0M307.8 1508.9h0M372.4 1446.3h0M354.2 1453.1h0M349.7 1352.6h0M369.7 1511.9h0" stroke="#39ee5a"/>
<path d="M294.2 1421.3h0M246.1 1324.8h0M264.9 1515h0M196 1449.3h0M394.7 1418.7h0M206.4 1464.5h0M177.4 1465.2h0M378.4 1402.1h0M238.5 1357.2h0M215.9 1476.6h0M264.6 1405.7h0M245.1 1438h0M196.3 1479h0M307 1390.7h0M239.9 1365.1h0M295.1 1408.3h0M321.8 1445.9h0M250.2 1507.5h0M186.2 1533.2h0M230.9 1426.4h0M243.3 1328.1h0M322.7 1489.2h0M235.9 1479.1h0M339.5 1522.3h0M243.3 1484.8h0M176.1 1500.7h0M319.6 1494.4h0M166.6 1528.8h0" stroke="#5ff641"/>
<path d="M355 1436.2h0M284.3 1455.9h0M316.8 1462.2h0M332.8 1435.6h0M328.4 1476.9h0M284 1541.8h0M274.9 1532.2h0M197.5 1501.6h0M248.8 1483.5h0M255.7 1533.7h0M207.5 1493.6h0M261.8 1378.3h0M314.3 1409.4h0M306.9 1471.3h0M247.4 1469.9h0M231.9 1462.5h0M210.4 1549.9h0M235.8 1435.8h0M246.7 1470.6h0M233.8 1489.5h0M220.5 1517.6h0" stroke="#86f928"/>
<path d="M160.5 1523.5h0M274.4 1468.7h0M187.9 1536.2h0M233.5 1421.2h0M290.1 1530.2h0M257 1512.3h0M192.3 1470.3h0M196.5 1529.6h0M315.9 1523h0M326.8 1481.2h0M164.1 1541.4h0M220.2 1483.3h0M256.6 1389.1h0M301.1 1459.6h0M255.8 1474.7h0M310.1 1445.8h0M252 1523.7h0M222.1 1502.8h0M169.1 1490.1h0M235.7 1512.1h0M264.4 1528.2h0M323 1358.3h0M305.8 1476.2h0" stroke="#aaf613"/>
<path d="M281.5 1519.4h0M349.8 1448.1h0M188.2 1512.6h0M188.6 1520.7h0M229.4 1549.8h0M273.4 1520.4h0M379.7 1518.8h0M267.9 1537h0M213.7 1386.8h0M279.3 1465.2h0M208.2 1482.2h0M223.1 1433.9h0" stroke="#d3ef06"/>
<path d="M184.3 1538.3h0M266.9 1464.5h0M201 1445.8h0M159.4 1542.9h0M239.3 1485h0M260.7 1485.5h0M249.4 1534.6h0M143.5 1530.2h0M191.6 1539.8h0M270.8 1487.7h0" stroke="#f3e600"/>
<path d="M215.5 1481.7h0M224.6 1366.8h0M187.7 1529.5h0M208.3 1435.5h0M253.2 1439.9h0M194.1 1344.9h0M221.2 1512h0M261.2 1442.1h0M222.2 1330.9h0M200.4 1494h0M187.4 1406.5h0M174.2 1538.2h0M154.2 1487h0M207.4 1516.9h0M216.8 1466.5h0M199.9 1536.2h0M306 1504.1h0" stroke="#ffd700"/>
<path d="M296.4 1459.1h0M228.8 1516.9h0M196.7 1521.8h0M227.8 1433h0M195.1 1483.7h0M172.7 1514.1h0M311.7 1470.5h0M232.5 1504.8h0M171.3 1539.3h0M197.4 1496.7h0M180.3 1485.2h0M140.3 1539.4h0M161.2 1547.9h0M175.4 1526.2h0" stroke="#ffbc00"/>
<path d="M172.8 1483h0M272.8 1518.7h0M197.9 1471h0M149.4 1509.5h0M199.3 1463.8h0M274.6 1372.8h0M161.5 1527h0M185.5 1401.6h0M210.7 1535.1h0M212.7 1529.8h0M120.1 1516.1h0M172.9 1451.6h0" stroke="#ffa000"/>
<path d="M170.4 1548.3h0M197.4 1518.2h0M145 1428.1h0M160.2 1481.6h0M128.9 1513.7h0M204 1538.7h0M235.9 1513.9h0" stroke="#f80"/>
<path d="M132 1545h0M169.5 1478.3h0M137.7 1513.7h0M149.7 1511.9h0M146.1 1487.6h0" stroke="#ff6b00"/>
<path d="M143.1 1498.3h0" stroke="#ff4b00"/>
<path d="M218.1 1428.9h0" stroke="#ff2d00"/>
<path d="M121.5 1521.7h0M166.1 1511.6h0M145.1 1530h0M159.4 1495.4h0" stroke="#ff0f00"/>
<path d="M395.8 1533.7h0M337.2 1337.8h0M334.3 1428.5h0M218.5 1486.5h0M395.6 1352.1h0M390.3 1410.3h0M341 1400.1h0M386.6 1441.5h0M399.8 1377.4h0M373.8 1477.1h0M351.4 1368.2h0M325.6 1483.7h0M394.9 1452.3h0M336.6 1371.2h0" stroke="#0040f9"/>
<path d="M422.9 1448.5h0M437.7 1455.8h0M343.6 1487.2h0M389.1 1437.4h0M368 1322h0M332.6 1409.2h0M383.9 1478h0M363.7 1369h0M402.9 1526.8h0M383.9 1467.3h0M377.1 1442.4h0M389.5 1463.4h0M438.4 1392.3h0M398 1414.5h0M404.3 1542.1h0" stroke="#0060e8"/>
<path d="M487.4 1408.9h0M353.9 1443.5h0M463.9 1519.1h0M378.4 1465.3h0M298.3 1420.6h0M374.2 1455h0M385.2 1473.9h0M407.1 1252.9h0M443.7 1509h0M401.9 1476.5h0M479 1333.1h0M289.5 1544.4h0M368.3 1480.4h0M481.7 1382.2h0M418.5 1373.4h0" stroke="#0082cf"/>
<path d="M308.2 1445.4h0M420.3 1487.4h0M372.3 1463.6h0M382 1482.3h0M393.4 1493.6h0M336.1 1457.5h0M271.4 1497.6h0M326.8 1506.1h0M355.2 1458.3h0M416.8 1301.3h0M397.5 1508.3h0M370 1482.9h0M354.9 1382.6h0M314.5 1418.4h0M408 1501h0M343.4 1455.3h0M281.2 1517.1h0M406.3 1397.2h0M284.7 1367h0M271 1520.7h0M386.3 1405.7h0M301.1 1452.7h0M392.9 1492.7h0" stroke="#009cb8"/>
<path d="M260.1 1542h0M238.7 1483.3h0M318.7 1482.5h0M284 1437.2h0M366 1372.2h0M231.7 1429.7h0M338.3 1469.6h0M290.7 1410.1h0M310.7 1461.2h0M360.9 1391.2h0" stroke="#00b2a6"/>
<path d="M358.8 1449.6h0M347.3 1528.9h0M356.1 1396.4h0M251 1518.2h0M338.5 1489.3h0M376.9 1511h0M244.2 1267.2h0M293.5 1430.7h0M270.1 1469.6h0M347.2 1509.9h0M363.8 1374.3h0M343.2 1506.1h0M378.1 1469.2h0M364.1 1474.1h0M304.1 1494.9h0M345.6 1498.7h0" stroke="#00c994"/>
<path d="M351.9 1431.4h0M389.8 1305.1h0M264.7 1350.3h0M343.1 1527.5h0M244.4 1438.3h0M339.2 1327.5h0M318.5 1487.3h0M321.6 1453.3h0M291.3 1389.6h0M246.3 1462.9h0M387.5 1366.1h0M336.1 1525.8h0M323.8 1454.6h0M339.3 1528.4h0M318.4 1442.5h0M339.3 1546.4h0M281.3 1328.7h0M312.5 1486.4h0" stroke="#04de7a"/>
<path d="M327.9 1513.5h0M312.8 1498h0M314.6 1483.1h0M308.4 1476.6h0M293.2 1409.8h0M261.3 1377.9h0M326.5 1460.9h0M315.4 1377.6h0M239.7 1469.9h0M199.5 1406.9h0M301.6 1496.3h0M337.9 1457.2h0M203.8 1435.2h0M245.7 1505h0M288.5 1441h0M258 1482.7h0M324 1477h0M249.9 1469.8h0M351.8 1436.4h0M306.6 1448.2h0" stroke="#1ce767"/>
<path d="M193 1448h0M235.5 1497.2h0M315.7 1336.1h0M301 1535.1h0M231.7 1466.3h0M343.7 1393.5h0M206.2 1466.7h0M249 1364.8h0M357.8 1386.4h0M297.3 1461.5h0M276.6 1506.5h0M182.7 1402.2h0M274.3 1504.7h0" stroke="#39ee5a"/>
<path d="M253.3 1388.1h0M246.5 1506.5h0M315.7 1495.7h0M273.1 1492.2h0M275.7 1517.3h0M191.3 1546.9h0M385.1 1446.4h0M307.6 1509.9h0M207.2 1494.1h0M269.1 1450.6h0M242.6 1399.1h0M329.8 1474.6h0M193.2 1512.4h0M298.1 1513.4h0M249.4 1501.3h0M201.3 1477.1h0M196.6 1450.4h0M299.8 1430.9h0M308.5 1483h0M179.9 1514.5h0" stroke="#5ff641"/>
<path d="M364.8 1506h0M278.6 1499.8h0M207.1 1514.2h0M268.5 1539.3h0M252.7 1497.9h0M298.9 1370.4h0M310.1 1467.5h0M228.6 1405.1h0M225.5 1472.8h0M250.8 1477.5h0M240.7 1438.3h0M273.2 1493.3h0M272.4 1450h0M292.5 1539.8h0M290.3 1456.6h0M242.7 1508h0M217.5 1455.7h0M213.7 1527.2h0M273.9 1497.4h0M289.9 1452.7h0M268.3 1447.4h0M309.5 1545.7h0M275.8 1417.1h0M289 1368.5h0M311.9 1542h0M205.1 1466.6h0M266.9 1388.3h0" stroke="#86f928"/>
<path d="M241.6 1483.6h0M266.2 1495.7h0M220.4 1430.7h0M272.3 1290.9h0M355.6 1462.8h0M209.8 1481.4h0M220.6 1539.8h0M293.6 1481.9h0M216.4 1525.7h0M263.9 1530.8h0M318.1 1526.6h0M307.6 1497.6h0M172.4 1530.9h0M255.5 1447.6h0M234.9 1504.8h0M187 1469.2h0M239.4 1423.6h0M228.8 1443.2h0" stroke="#aaf613"/>
<path d="M242.8 1512.8h0M206.6 1516h0M169.5 1526.9h0M203.2 1476.2h0M283.5 1491.3h0M278.4 1382.6h0M196.4 1424.6h0M196.6 1529.3h0M172.7 1429.3h0M163 1548.4h0M193.6 1519h0M250.7 1417.1h0M151.1 1505.3h0M202.9 1515.1h0M255 1532.4h0M215.8 1474.2h0M306.8 1436.4h0M166.8 1419.4h0M331.2 1422h0" stroke="#d3ef06"/>
<path d="M245.2 1535.2h0M191.5 1542.6h0M225.2 1491.8h0M176.6 1493h0M205.9 1531.5h0M223.4 1484.5h0M249.9 1468.5h0M276.9 1274.7h0M242.8 1518.8h0M197.2 1521.5h0M209.9 1374.6h0M305.6 1493.8h0M287.9 1516h0M209.4 1458.9h0M325.2 1460.1h0M252.1 1534.6h0" stroke="#f3e600"/>
<path d="M264 1395.5h0M214.7 1547.6h0M256 1489.5h0M325.6 1478.8h0M240.7 1479h0M288.8 1433.9h0M287 1442.3h0M249 1471.4h0M172.9 1480.4h0M195.4 1502.5h0M179.2 1523h0" stroke="#ffd700"/>
<path d="M265.9 1491.7h0M266 1452.1h0M223.1 1417.9h0M159.2 1517.3h0M158.9 1524.3h0M147.3 1543.5h0M187.4 1482.2h0M221.7 1479.9h0M177.2 1463.1h0M220.6 1457.6h0M222 1501.8h0M177.2 1484.6h0M252.9 1501.7h0M281.5 1495.4h0" stroke="#ffbc00"/>
<path d="M167.8 1503.7h0M200.6 1451.3h0M240.9 1561.2h0M221 1481.3h0M183.4 1545.5h0M207.8 1473.2h0" stroke="#ffa000"/>
<path d="M143.7 1474.3h0M132 1409.8h0M126.6 1527.2h0M180.3 1475.7h0M149.7 1470.4h0M234.8 1442.6h0M231.5 1438.7h0M224.5 1524.4h0" stroke="#f80"/>
<path d="M199.2 1443.5h0M207 1496.7h0M210.6 1516.7h0M205.4 1530.2h0" stroke="#ff6b00"/>
<path d="M177.3 1515h0M194 1506.2h0" stroke="#ff4b00"/>
<path d="M151.6 1529.5h0M182.8 1504h0M179.7 1511.6h0M166.7 1487.1h0" stroke="#ff2d00"/>
<path d="M154.5 1466.9h0" stroke="#ff0f00"/>
<path d="M376.4 1421.7h0M391.6 1447.9h0M287.3 1552h0M332.7 1410.9h0M331.2 1430h0M348.9 1397h0M354 1509.2h0M398.8 1505.2h0M368.9 1411.5h0M388.1 1478.8h0" stroke="#0040f9"/>
<path d="M409 1458.3h0M421.2 1472.6h0M424.5 1498.2h0M408.8 1460.9h0M373.1 1345.6h0M422.9 1420.6h0M418.5 1412.7h0M424 1330.2h0M317 1471.9h0M429.7 1312.7h0M345.7 1439.8h0M385.7 1490.2h0M427.9 1468.9h0" stroke="#0060e8"/>
<path d="M417.7 1459.2h0M430.8 1519.8h0M317.2 1528.3h0M264.1 1476.1h0M259.1 1523.8h0M293.4 1491.8h0M323.6 1539.7h0M398.3 1447.3h0M270.2 1440.1h0M288.1 1419.3h0M384.7 1461.7h0M447 1421.5h0" stroke="#0082cf"/>
<path d="M354.3 1512.4h0M322.9 1489h0M333.9 1543.2h0M281.8 1392.7h0M373 1502.4h0M332.7 1418.1h0M332.8 1432.8h0M228.8 1479.3h0M330 1380.1h0M420.1 1440h0M311.6 1425.5h0M338 1419.1h0" stroke="#009cb8"/>
<path d="M331.8 1453.2h0M342.5 1382.1h0M330.1 1545.9h0M333 1408.8h0M315.5 1503.5h0M402 1519.2h0M362.9 1397h0M353.3 1412.3h0M314.5 1472.1h0M422 1452h0M433.7 1471.9h0M254 1403h0M351.4 1413.9h0M320.3 1394.8h0M296.4 1469.3h0M353.8 1427.3h0M309.6 1523.1h0M364.7 1499h0M227.8 1467.1h0M370.2 1356.1h0M241 1438.6h0M355.9 1400.6h0" stroke="#00b2a6"/>
<path d="M281.8 1371.8h0M380.9 1421.7h0M321.6 1485.9h0M282.5 1463.5h0M369.2 1361.8h0M296.9 1439.9h0M334.8 1474.7h0M325 1406h0M367.8 1498.8h0M312.3 1505h0M291.6 1395.7h0M327.2 1496.9h0M279.5 1404.9h0M385.6 1359.3h0M360.9 1538.9h0M284.1 1450.8h0M273.2 1512.4h0M381.8 1472.4h0M350 1350.3h0M317.4 1490.8h0M216 1378.9h0" stroke="#00c994"/>
<path d="M332.6 1469.7h0M273.3 1484.6h0M370.8 1411.3h0M286.8 1506.6h0M313.6 1456.6h0M329.8 1447.1h0M294.6 1531.6h0M321.5 1344.8h0M343.8 1324.1h0M340.2 1517.6h0M305.4 1478.4h0M278.6 1512.2h0M332.7 1362.3h0M300.1 1361.6h0M252.6 1529.7h0M269.7 1433.9h0M272.1 1471h0" stroke="#04de7a"/>
<path d="M322.9 1493.4h0M225.8 1372.7h0M322 1510.2h0M327.5 1471.9h0M396.6 1522.8h0M369.6 1475h0M244.4 1526.6h0M301.2 1500.6h0M288.1 1525.7h0M375.8 1392h0M310.9 1533.5h0M343.3 1441.7h0" stroke="#1ce767"/>
<path d="M276 1325h0M277.3 1455.8h0M253.1 1502.1h0M319.7 1527.2h0M235.4 1519.4h0M221.8 1453.5h0M308.5 1444.8h0M290.1 1380.6h0M161.1 1510.3h0M338.9 1492.8h0M209.1 1462.4h0M276.2 1390.8h0M346.7 1469.2h0M271.2 1534.5h0M332.4 1364h0M220.4 1442.2h0M241.8 1483.4h0M209 1501.4h0M281.1 1447.6h0M241.4 1520.6h0M247.3 1453.5h0" stroke="#39ee5a"/>
<path d="M241.2 1520.8h0M255.1 1500h0M258.7 1516h0M265.4 1523.3h0M323.7 1483.2h0M300.2 1531.3h0M226.7 1444.9h0M278.4 1429.9h0M281.2 1454.1h0M281 1501.4h0M394.1 1449.9h0M280.9 1457.6h0M201.4 1455.6h0" stroke="#5ff641"/>
<path d="M207.6 1513.5h0M266.3 1539.1h0M322.9 1451.5h0M230.1 1451.5h0M302.5 1370.8h0M288.5 1391.1h0M211.4 1506.7h0M248.2 1455.8h0M209.6 1464h0M221.5 1564h0M316.1 1396.3h0M155.2 1497.8h0M300.6 1441.8h0M234.7 1468.7h0M252.1 1392.5h0M307 1464.2h0M241.1 1366.1h0M347.2 1476.3h0M201 1491.4h0M250.6 1520.4h0M295.8 1347.6h0" stroke="#86f928"/>
<path d="M259.7 1506.7h0M244.3 1383.9h0M168 1556.2h0M215.9 1518.5h0M178.9 1434.2h0M205.6 1432.3h0M246.4 1462.6h0M210.2 1548.1h0M237.4 1459.8h0M252.2 1513.8h0M198.6 1508.3h0M298.4 1544.9h0M226.4 1296.4h0M203.4 1506h0M336.9 1457.5h0M159.4 1526.3h0M263.4 1412.9h0M143.2 1525.4h0M158.9 1512h0M324.3 1488.7h0M301.1 1430.2h0M273.3 1375.9h0M258.4 1451.3h0M272.1 1501.7h0M292.2 1544.1h0" stroke="#aaf613"/>
<path d="M318 1466.5h0M240.8 1440.2h0M289.3 1427.9h0M246.9 1473.1h0M268.5 1424.1h0M182 1492.5h0M218.9 1515.5h0M302.3 1469.2h0M195.2 1537.2h0M214.4 1489.5h0M235.9 1399.5h0M153.8 1484.3h0M231 1489.8h0M224.5 1516.5h0M252.5 1424.6h0M181.7 1500.5h0M197.2 1456.6h0M241.4 1395.5h0M186.5 1496h0M141.9 1524.4h0M178.7 1535h0M247.2 1459h0" stroke="#d3ef06"/>
<path d="M215.1 1322.8h0M268 1423.1h0M224.7 1536.3h0M244.7 1462.6h0M217.7 1400.8h0M217.3 1541.7h0M280.2 1322.2h0M235 1505.1h0M196.1 1495.2h0M297.4 1482.4h0M201.8 1498.9h0M185 1549h0M254.5 1436.3h0M288.8 1484.1h0" stroke="#f3e600"/>
<path d="M152.3 1549.7h0M226.3 1495.8h0M207.7 1460.7h0M219.5 1447.9h0M248.7 1450.6h0M148.3 1529.7h0M259.3 1537.5h0M211.1 1461h0M248.6 1456.6h0M200.6 1394.7h0M151 1493.7h0M199.8 1478.6h0M198.5 1530.5h0M241.9 1546.4h0M185.8 1471.5h0M214.3 1519.2h0M161.2 1541.2h0M221.6 1485.7h0M307.7 1476.2h0M229.5 1472.1h0" stroke="#ffd700"/>
<path d="M248.7 1510.5h0M163.2 1533.1h0M177.6 1525.8h0M179.1 1512.6h0M191.6 1425.5h0M204 1525.6h0M183.8 1490.9h0M174.7 1549.7h0M165.1 1504h0M188.2 1492.5h0M245 1458h0M167.1 1481h0" stroke="#ffbc00"/>
<path d="M184.6 1521.3h0M194.8 1520h0M183.5 1499.2h0M141 1531.1h0M149 1513.2h0M243.9 1512h0M209.8 1493.2h0M130.4 1511.9h0" stroke="#ffa000"/>
<path d="M217.7 1486.9h0M256.2 1548.8h0M180.8 1522.9h0M223.2 1489.6h0M176.9 1524.7h0M260.3 1427.5h0M192 1517.6h0M157.9 1542.5h0M140.8 1461.5h0" stroke="#f80"/>
<path d="M224.7 1427.1h0M206.5 1501.1h0M140.8 1516.7h0M194 1451.3h0M149.4 1520.5h0M153.4 1530.2h0" stroke="#ff6b00"/>
<path d="M179.3 1445.5h0M154.8 1438.2h0" stroke="#ff4b00"/>
<path d="M169.1 1487.9h0M185.8 1525.9h0" stroke="#ff0f00"/>
<path d="M357.9 1540.6h0M334.1 1402.5h0M381.6 1498.3h0M351.5 1478.3h0M354.8 1383.2h0M355.9 1497.2h0M398.8 1524.4h0" stroke="#0040f9"/>
<path d="M407.8 1449.7h0M376.3 1481.2h0M372.7 1446.9h0M450.2 1380.2h0M352.6 1401.9h0M447.9 1371h0M409.2 1485.2h0M426.2 1462.1h0M487.2 1421.6h0M414.4 1498.6h0M296.7 1511.4h0M369.8 1479.6h0M431.8 1446.3h0" stroke="#0060e8"/>
<path d="M313 1456.4h0M419.1 1427.9h0M430.5 1479.7h0M428.6 1397.7h0M350.6 1514.9h0M456.9 1410.7h0M425.2 1447.5h0M231.1 1484.6h0M317.6 1440.4h0M365.2 1462h0M269.5 1357.3h0M401.2 1464.7h0" stroke="#0082cf"/>
<path d="M437.3 1454.7h0M351.8 1509.3h0M366.2 1474.3h0M276 1339.2h0M301 1461.4h0M334.2 1467.2h0M292.3 1526.5h0M492.7 1353.4h0M420.3 1464.6h0M458 1481.5h0M308.7 1504h0M337.7 1548.5h0M345 1520.6h0M302.8 1473.8h0M391.2 1471.6h0" stroke="#009cb8"/>
<path d="M293 1502.2h0M332 1490.6h0M279.9 1387.8h0M303.3 1431h0M326.9 1506.8h0M344.5 1425.8h0M332.2 1498.3h0M318.3 1419.5h0M461.3 1402.7h0M335.7 1461.6h0M307.5 1456.5h0M375.4 1247.8h0M320.5 1512.4h0" stroke="#00b2a6"/>
<path d="M268.4 1432.9h0M270.8 1464.3h0M313.9 1492.5h0M300.1 1440.1h0M346 1525.5h0M323.4 1418.8h0M371.6 1333.6h0M309.6 1421.9h0M287.5 1354.6h0M350.8 1436.5h0M229.8 1500.5h0M277.9 1557.7h0M343.2 1526.4h0M341.3 1529.4h0M379.8 1363.8h0" stroke="#00c994"/>
<path d="M273.2 1525.5h0M249.3 1430.1h0M278.7 1391.4h0M218.8 1468.7h0M329.3 1447.5h0M300.2 1510.7h0M332 1456.8h0M326.7 1460.7h0M187.8 1545.4h0M350.5 1499.7h0M350.9 1401.3h0M420.1 1280.6h0M278.7 1336.9h0M384.9 1441.6h0M284.6 1392.5h0M231.1 1516.2h0M327 1464.6h0M284.4 1430.1h0M196.4 1544.7h0M290.3 1498.3h0M262.2 1436.1h0" stroke="#04de7a"/>
<path d="M367.6 1389.6h0M327.4 1406.8h0M297.9 1543.4h0M348.3 1392.5h0M271.9 1486.7h0M336.3 1468h0M324.4 1375.4h0M237.2 1422.3h0M341.7 1444.2h0M248.3 1512h0M240.3 1440.5h0M341.9 1476.3h0M347 1506.1h0M344.7 1525.4h0M215.4 1485.4h0M273.1 1538.1h0M258.7 1403.1h0M263.8 1484.5h0M371.7 1410.7h0" stroke="#1ce767"/>
<path d="M289 1477.2h0M317.6 1410.6h0M287.8 1504.5h0M390.3 1431.9h0M294.7 1518.7h0M261.6 1518.9h0M161.1 1520.6h0M302.9 1527.7h0M282.7 1372h0M374 1419.3h0M372.6 1525.2h0M294.8 1552.9h0M312.5 1498.9h0M303.2 1425.4h0M256.9 1452.4h0M364.7 1422.9h0M290.8 1512.7h0M338.9 1448.3h0M354 1523.9h0M244.3 1505.4h0M307.3 1319.6h0M290.7 1387.5h0M292 1524.3h0M358.5 1435.3h0M284.8 1438.9h0M295 1429.8h0M288.3 1468.7h0M361.7 1515.9h0M333.9 1471.4h0M254.1 1518.2h0" stroke="#39ee5a"/>
<path d="M345.7 1355.7h0M218.2 1404.7h0M364.8 1404h0M243.9 1428.2h0M252.3 1518.5h0M299.8 1471.7h0M302.3 1511.2h0M316 1324.9h0M220.5 1499.5h0M231.8 1382.9h0M354.3 1479h0M338 1358.2h0M328.4 1411.2h0M241.1 1457.3h0M246.5 1529h0M376.5 1443.5h0M351.3 1549.3h0M226.8 1439.2h0M254.4 1460.4h0M246.9 1507h0M261 1478.8h0" stroke="#5ff641"/>
<path d="M239.9 1534.8h0M297.8 1419.4h0M385 1458.2h0M229.2 1402.6h0M187 1553.3h0M182.8 1489h0M269.3 1508.2h0M199.7 1510.9h0M238.9 1509.6h0M234.1 1488h0M328.2 1509.7h0M239.9 1432.9h0M250.9 1420.4h0M326.7 1494.3h0M213.7 1444.9h0M241.7 1490.6h0M208.7 1470.7h0M213.5 1463.5h0M293.7 1524h0M222.3 1525.6h0M273.9 1419h0M307.2 1481h0M180.5 1503.7h0" stroke="#86f928"/>
<path d="M134.5 1467.1h0M253.3 1517.1h0M220 1498.5h0M270.9 1454.1h0M210 1487.5h0M236.8 1516.3h0M253.8 1494.5h0M236.1 1335.3h0M306.9 1542.3h0M222.5 1427.7h0M240.2 1493.3h0M269 1514.6h0M297.2 1479.2h0M236.5 1491.8h0M352 1503.2h0M154.9 1532.7h0M241.7 1504.6h0M310.5 1480.5h0M216.8 1542.4h0" stroke="#aaf613"/>
<path d="M219.9 1408.9h0M190.5 1471.5h0M210.2 1469.6h0M257.3 1398.9h0M327 1503.5h0M229.4 1512h0M251.9 1552.3h0M265 1478.2h0M335.5 1432.9h0M220.2 1368.9h0M253.5 1451.7h0M195.5 1522.3h0M251.5 1512.8h0M129.7 1533.2h0M291.1 1395.8h0M202.3 1391.4h0M268.7 1467.3h0M265.6 1412.9h0M249.6 1533.8h0" stroke="#d3ef06"/>
<path d="M221.2 1349.3h0M257.4 1474.5h0M298.2 1439.3h0M235.1 1461.2h0M244.5 1453.3h0M194.3 1503.9h0M206.6 1437.1h0M207.1 1500.6h0M218.5 1520.7h0M191.8 1529.7h0M212.3 1423.3h0M176.4 1539.8h0M292.2 1493.4h0M216.4 1485.9h0M161.8 1507.7h0" stroke="#f3e600"/>
<path d="M170.9 1483.7h0M266.9 1537.3h0M230.9 1520.3h0M121.2 1506.1h0M262.5 1501.7h0M131.6 1449.6h0M227.5 1350.5h0M277.8 1526.2h0M172.7 1539.7h0M192.4 1463.6h0M217.7 1517h0M347 1482.5h0M230 1530h0M174.8 1464.2h0M142.8 1533.4h0M204.9 1480.1h0M187.4 1411.2h0M141.5 1541h0M235.4 1498.5h0M157.3 1367h0" stroke="#ffd700"/>
<path d="M218.1 1497.7h0M317.1 1339.6h0M184.3 1452.6h0M207.5 1472.7h0M190.1 1460.8h0M184.6 1414.6h0M187.6 1490.9h0M178.1 1494.6h0M130.5 1535.6h0M147.5 1536.1h0" stroke="#ffbc00"/>
<path d="M164.3 1487.5h0M195.1 1526.4h0M231.5 1476.2h0M206.3 1509.6h0M244.4 1548.4h0" stroke="#ffa000"/>
<path d="M193.5 1471.6h0M141.4 1504.4h0M202.5 1540.2h0M200 1526.5h0M206.9 1493.4h0M121.9 1488.9h0" stroke="#f80"/>
<path d="M154.1 1514.4h0M240 1453.9h0M163.2 1537.3h0" stroke="#ff6b00"/>
<path d="M253 1316.9h0M248.9 1455.5h0M225.5 1516.5h0M133.7 1530.1h0" stroke="#ff4b00"/>
<path d="M149.6 1532.2h0M189.3 1472.8h0" stroke="#ff2d00"/>
<path d="M114.4 1479.6h0M173 1517h0" stroke="#ff0f00"/>
<path d="M373.2 1414.3h0M367.9 1423.1h0M399.6 1451.2h0M360.5 1404.5h0M375.2 1458.8h0M386.8 1484.4h0M380.5 1516h0M354.9 1403.5h0M383.2 1404h0M358 1410.3h0M375.2 1274.4h0M400.4 1513.5h0M387.2 1515.4h0M398 1535h0M349.1 1482h0M383.8 1527.6h0M333.6 1438.8h0M380.7 1442.2h0M392.5 1349.3h0M399.1 1409.5h0M383.3 1440.2h0M305.5 1443.8h0" stroke="#0040f9"/>
<path d="M297.2 1439.6h0M431.7 1479.8h0M373.6 1451.8h0M367.2 1503.5h0M313.8 1518.5h0M347.5 1471.2h0M455.6 1420.3h0M411.2 1426.7h0M401.1 1462.9h0M325 1472.9h0M263.9 1495h0M400.7 1511.6h0M336.8 1451.9h0M450.4 1387.9h0" stroke="#0060e8"/>
<path d="M457.6 1390.7h0M420.8 1470.1h0M401.2 1486.9h0M279 1537.1h0M340.7 1426.3h0M420.7 1382.8h0M352.5 1494.3h0M320.2 1460.7h0M359.9 1444.6h0M332 1533.9h0M401.1 1438.2h0M440.9 1448h0M345.8 1455.4h0M351.9 1475.9h0" stroke="#0082cf"/>
<path d="M207.2 1494h0M312.9 1485.4h0M336.3 1379h0M381.9 1482.8h0M346.4 1353.2h0M376.1 1466.8h0M403.2 1446.4h0M416.7 1484.5h0M280.2 1461.6h0M293.3 1520.2h0M452.8 1458.7h0M331.9 1471.6h0M378.4 1508h0" stroke="#009cb8"/>
<path d="M250.5 1425.6h0M400.6 1519.8h0M449.4 1483.6h0M421.1 1471.7h0M302.2 1501.2h0M382 1452.3h0M341.5 1450.4h0M339.7 1466.7h0M322.4 1383.8h0M310.3 1432.4h0M409.1 1482.1h0" stroke="#00b2a6"/>
<path d="M284.1 1474.4h0M333.4 1467.2h0M355.4 1483h0M297.8 1393.3h0M173.3 1514.6h0M318.3 1467.8h0M362.3 1492.6h0M238 1521h0M315.8 1391.4h0M295.6 1395.4h0M292.9 1377.6h0M321.2 1344.7h0M281.8 1515.3h0M340 1473h0M321.8 1518.3h0M361.4 1392.4h0M273.5 1557.1h0M341.6 1490.1h0M366.4 1343.8h0M339.2 1444.7h0" stroke="#00c994"/>
<path d="M342.1 1502.2h0M302.5 1504h0M262.6 1473h0M211.2 1423.8h0M373.3 1495.8h0M263.4 1511.9h0M292.5 1463.4h0M342.9 1446h0M342.3 1315.6h0M298.7 1477.1h0M323.4 1404h0M357.1 1458h0M328.6 1413.5h0M382 1493.7h0M293.1 1503.8h0M335.8 1509h0M351.7 1422.6h0M300.1 1529.8h0M257.8 1320.7h0" stroke="#04de7a"/>
<path d="M335.8 1451.3h0M271.3 1422.5h0M316.4 1378.5h0M364.1 1512.5h0M313.8 1461.2h0M342.6 1447.3h0M266.3 1459h0M300.4 1487.6h0M229.9 1496.7h0M318.5 1409.9h0M330.8 1386.6h0M275.6 1478.1h0M322.6 1419.7h0M221 1519.8h0M292.5 1477.9h0M314.1 1346.5h0M213.6 1452.2h0M307.9 1472.5h0" stroke="#1ce767"/>
<path d="M313.9 1464h0M356.1 1315.3h0M249.7 1456.7h0M233.3 1426.1h0M244.6 1520h0M261.7 1462.4h0M280.1 1391h0M251.7 1358.4h0M199.7 1482.7h0M230.2 1482.2h0M280.5 1329.5h0M244.5 1417.3h0M298.6 1520h0M297 1515.3h0M333 1395.7h0M291.5 1421.8h0M297.3 1451.4h0M210.3 1515.5h0M256.8 1444.1h0M274.8 1379.9h0M320.6 1501.2h0M257.8 1454.8h0M316.7 1324.3h0M268.3 1532.9h0M304.9 1425.3h0M344.8 1523.1h0M284.3 1478.1h0" stroke="#39ee5a"/>
<path d="M282.2 1468h0M137.5 1483.2h0M225.4 1427.5h0M289.8 1397.5h0M193.3 1470.5h0M314.4 1511.3h0M286 1507.4h0M324.4 1450.1h0M200.3 1372.9h0M341.7 1408.8h0M246.6 1420.5h0M243.6 1411.6h0M307.5 1455.7h0M201.1 1363.3h0M296 1499h0M220.6 1422.4h0M163.6 1433h0" stroke="#5ff641"/>
<path d="M243.4 1432h0M357.5 1523.7h0M183.3 1523.4h0M308.5 1483h0M260.3 1509.7h0M305.5 1476.3h0M316.4 1490.3h0M180.9 1439.5h0M239.3 1424.9h0M232.6 1439.4h0M290.6 1474.6h0M282.4 1464.7h0M246 1484.8h0M215.6 1536h0M279 1504.4h0M252.8 1543.2h0M214.2 1419.7h0M235.4 1409.1h0M307.3 1554.5h0M285.4 1513.2h0M254 1456.5h0" stroke="#86f928"/>
<path d="M219 1304.8h0M258.7 1482.7h0M251.6 1526.3h0M372.5 1495.9h0M268.6 1497.4h0M271.7 1430.1h0M204.1 1499.5h0M226 1462h0M234.4 1524.4h0M282 1501.2h0M228.3 1471.5h0M314.7 1507h0M299.2 1496.5h0M352.1 1462.1h0M277.1 1422.2h0M314.4 1479.6h0M315.5 1420.6h0M205.9 1473.6h0M212.7 1513.4h0M224.9 1392h0" stroke="#aaf613"/>
<path d="M169.9 1527.3h0M241.9 1516.3h0M216.5 1499h0M253.8 1434.1h0M311.2 1458h0M256.9 1454.2h0M220 1469.5h0M291.2 1369.9h0M193.9 1545.2h0M247.1 1394.8h0M225.6 1394.2h0M338 1424.5h0M208.2 1499.5h0M179.3 1540.3h0M249.8 1525.3h0M273.4 1319.1h0M222.4 1407.9h0M261.9 1385.2h0M293.7 1383.3h0M240.5 1538.4h0" stroke="#d3ef06"/>
<path d="M240.4 1507h0M221.4 1538.6h0M189.8 1500.8h0M201.4 1494.8h0M215.8 1350.2h0M187.1 1514.7h0M174.2 1495.6h0" stroke="#f3e600"/>
<path d="M176.9 1513.6h0M226.8 1480.6h0M394.3 1437.6h0M257.1 1463.7h0M259 1471h0M188.9 1494.7h0M166 1530.8h0M236.5 1421.2h0M242.6 1530.2h0M267.2 1362.1h0M176.8 1452.4h0M141.9 1478.2h0M261.1 1482.1h0M248.9 1508.7h0M254.5 1527.7h0" stroke="#ffd700"/>
<path d="M199.2 1486.1h0M168.7 1501h0M219 1511.1h0M237.1 1544h0M249 1452.7h0M199.9 1490.9h0M197.7 1474h0M217.9 1492.4h0M204.5 1467h0M211.6 1487h0" stroke="#ffbc00"/>
<path d="M278.3 1497.1h0M361.1 1378.1h0M189.1 1383.6h0M150.5 1512.8h0M207.5 1484.2h0M220.1 1430.4h0M186.4 1521.8h0M146 1529.4h0M163 1524.4h0M170.9 1544.7h0M168 1530.2h0M186.1 1464h0" stroke="#ffa000"/>
<path d="M140.6 1536.3h0M278.5 1511.7h0" stroke="#f80"/>
<path d="M179.7 1500.1h0M216.7 1329.8h0M222.8 1493.7h0M160.7 1517.1h0" stroke="#ff6b00"/>
<path d="M245 1521.7h0M177.8 1464.4h0" stroke="#ff4b00"/>
<path d="M153.4 1552.5h0M197.8 1531.2h0M142.7 1518.8h0" stroke="#ff2d00"/>
<path d="M152.5 1510.2h0M160.6 1497.1h0M153.3 1498.4h0" stroke="#ff0f00"/>
<path d="M367.3 1516.2h0M370.7 1501.2h0M398.8 1413.1h0M363.4 1365.4h0M381.7 1345.8h0M377.6 1518.5h0M311.6 1373.5h0M336.2 1519.1h0M347.8 1498.1h0M387.3 1463.8h0M307.6 1442.2h0M400.4 1469.8h0M359 1445.2h0M307.1 1466.5h0M285.6 1496.2h0M271 1434.7h0M384.1 1425.9h0M354.9 1508.8h0M399.2 1449.3h0" stroke="#0040f9"/>
<path d="M382.9 1503.5h0M370.9 1336h0M362 1472.3h0M301.7 1527h0M468.7 1360h0M404.3 1480.8h0M407.5 1448.2h0M408 1524.1h0M315.6 1385h0M351.1 1351.8h0M453.7 1443h0M467.7 1459.1h0M399 1401.3h0" stroke="#0060e8"/>
<path d="M297.6 1406.9h0M430.1 1463.5h0M296.1 1349.9h0M403.4 1352.2h0M411.9 1510.1h0M385.5 1428.9h0M305.5 1458.2h0M355.6 1465.8h0M430.3 1430.1h0M297.6 1501.2h0M413.5 1494.8h0" stroke="#0082cf"/>
<path d="M423.5 1484.1h0M316.2 1475h0M387.9 1501.3h0M293.3 1450.7h0M434.9 1331.9h0M386 1515h0M406 1427.4h0M388.5 1447.3h0M328.4 1487.6h0M420.9 1354.4h0M349.4 1475.8h0M399.8 1483.8h0M383.4 1453.5h0M322.8 1521.1h0M417.3 1486.3h0M328.8 1492.8h0" stroke="#009cb8"/>
<path d="M243 1481.6h0M303.2 1363.1h0M279 1352.4h0M333.8 1531.7h0M424.1 1487.6h0M320.5 1505.8h0M256.4 1396.6h0M358.8 1536.4h0M337.6 1492.2h0" stroke="#00b2a6"/>
<path d="M272.5 1514.8h0M322 1428.1h0M324.4 1473.7h0M264.8 1366.8h0M419.2 1266.9h0M332.6 1525.8h0M324.3 1472.9h0M427 1460.7h0M392.1 1439.2h0M383.7 1430.5h0M293 1467.8h0M240.8 1525.5h0M316.4 1381.5h0M326 1517.4h0M360.1 1484.6h0M323.3 1400.7h0M298.2 1522.7h0M307.1 1508.4h0" stroke="#00c994"/>
<path d="M340.3 1503.9h0M387.5 1394.3h0M250.5 1477.9h0M299 1488.6h0M287.2 1486.2h0M312.9 1495.5h0M380.9 1507.9h0M324.2 1466.5h0M341.2 1418.8h0M273 1382.3h0M255.4 1498.6h0M264.9 1550.9h0M270.7 1399.1h0M310.4 1447.4h0M334.3 1544.9h0M304.5 1507.2h0" stroke="#04de7a"/>
<path d="M346.7 1461.7h0M269.1 1534h0M290 1421.6h0M268.2 1504.5h0M295.3 1451.9h0M281.7 1472.5h0M224.1 1440.9h0M312.7 1417.4h0M227 1523.4h0M321.7 1464.1h0M301.3 1523.8h0M342.3 1455.2h0M333.4 1519.7h0M289.2 1480.1h0M297 1504.4h0M377.1 1441.5h0" stroke="#1ce767"/>
<path d="M234 1440.5h0M359.6 1452.9h0M267.1 1553.9h0M343.1 1490.8h0M245.6 1428.3h0M293 1513.7h0M319.8 1277.3h0M368 1476.5h0M159 1529h0M280.3 1418.3h0M317.8 1419.4h0M336.2 1397.4h0M293.1 1432.2h0M195.6 1507.9h0" stroke="#39ee5a"/>
<path d="M237 1438.2h0M330.8 1470.7h0M255.7 1381.2h0M237.6 1417h0M297.3 1454.8h0M206.9 1393h0M330.3 1412.7h0M268.5 1506.7h0M317.1 1460.5h0M277.5 1427.3h0M250.6 1548.1h0M290.3 1400.1h0M231.5 1516.4h0M171.6 1468.4h0M359.7 1481.3h0M214.6 1448.1h0M229.1 1386.5h0M238.8 1425.8h0M304.7 1406.3h0M274 1292h0M258.2 1403.5h0M315.8 1474.2h0M284.8 1466.4h0M154.3 1500.9h0M262.3 1464.2h0M253.2 1467.6h0M306.6 1386.9h0M291.1 1399.6h0M269 1339.2h0" stroke="#5ff641"/>
<path d="M281.6 1470.1h0M236.8 1529.7h0M349.8 1343.8h0M307.9 1498.3h0M262 1497.3h0M213.8 1512.7h0M248.5 1544.8h0M262.6 1505.9h0M293.1 1483.1h0M297 1440.1h0M298.9 1483.4h0M158.7 1523.5h0M257.1 1472.5h0M217 1557.1h0M289.7 1516.9h0M359.9 1367.5h0M175.4 1504.3h0M218.5 1477.1h0M301.2 1455.3h0M248.8 1478.2h0M261.6 1488.8h0M203.9 1558.7h0" stroke="#86f928"/>
<path d="M314.5 1517.7h0M348.3 1424.1h0M217.6 1448.2h0M172.9 1532.7h0M262.2 1461.4h0M280.6 1485.8h0M323.3 1491.8h0M297.6 1458h0M197.1 1474.2h0M293.5 1425.3h0M355.2 1423.2h0M352.7 1444.9h0M307.9 1508.7h0M307.1 1275.3h0M228.9 1478h0M288.4 1514.1h0M199.4 1393.9h0M360.2 1476.9h0M221.8 1480.1h0M200.6 1359h0M236.8 1514.3h0M194.3 1461.2h0M264.6 1424.2h0M228 1424.3h0M231.1 1506h0M250.1 1417.9h0M283.2 1442.6h0" stroke="#aaf613"/>
<path d="M243.4 1521.4h0M267.4 1458.8h0M247.4 1448.6h0M254.6 1402.9h0M252.7 1447.8h0M236.2 1509.4h0M174 1514.1h0M214.1 1422.8h0M281.8 1537.4h0M188.1 1510.3h0M293.8 1467.8h0M217.5 1317.3h0M264.3 1562.4h0M192.8 1513.6h0M284.8 1499h0M205.3 1536.5h0M278.8 1509.5h0M284.1 1427.1h0M306.3 1339.7h0" stroke="#d3ef06"/>
<path d="M257.6 1494h0M186.5 1434.8h0M253.4 1491.9h0M210.4 1481h0M200.6 1549h0M239.4 1454h0M173.5 1529.9h0M227.6 1389.2h0M209.2 1543.6h0M252 1500.2h0M179 1430.5h0M251.6 1545.5h0M295.1 1385.6h0M251.6 1454.1h0M211.8 1512.2h0M301.7 1416.9h0M238.6 1527.1h0M227.1 1525.6h0M215.4 1501.6h0M255.1 1553.4h0M235.5 1460.2h0" stroke="#f3e600"/>
<path d="M153.2 1531.1h0M206.5 1411.7h0M240.1 1422.3h0M171.1 1534.1h0M205.9 1525.6h0M218.8 1554.1h0M269.9 1456.1h0M171.6 1500.3h0" stroke="#ffd700"/>
<path d="M253.7 1510.1h0M204.1 1501.5h0M228.7 1501.6h0M186.5 1481.9h0M220.7 1497.5h0M141.1 1389.3h0M168.9 1543.3h0M238.7 1479.9h0M290.6 1550.9h0M217.7 1446.9h0" stroke="#ffbc00"/>
<path d="M186.6 1537.4h0M188 1477.6h0M242.5 1449.6h0M271.1 1545.3h0M134.2 1538.3h0M154.7 1514.7h0" stroke="#ffa000"/>
<path d="M233.1 1447.3h0M139.3 1494.1h0M173.4 1454.4h0M193.4 1473.3h0M141.8 1480.5h0M163.3 1544.1h0" stroke="#f80"/>
<path d="M176.6 1528.5h0M149.8 1529.7h0M168.5 1466.6h0M231.6 1339.3h0M188.7 1527.8h0M163.5 1515.2h0M226.1 1459.4h0M159.8 1533.9h0" stroke="#ff6b00"/>
<path d="M230.6 1526.3h0M169 1504.7h0" stroke="#ff4b00"/>
<path d="M152.8 1546.9h0" stroke="#ff2d00"/>
<path d="M138.6 1512.5h0M238 1457h0M167.7 1551h0" stroke="#ff0f00"/>
<path d="M373.6 1426.9h0M372.4 1411.9h0M367.2 1434.2h0M379.8 1491.6h0M344.4 1519.3h0M398.4 1374.8h0M305.6 1430.7h0M393 1521h0M378.8 1308.3h0M282 1477.2h0M306.2 1464.6h0M327.1 1471.7h0" stroke="#0040f9"/>
<path d="M334.4 1518.8h0M421.6 1507.8h0M383.5 1478h0M414.7 1445.2h0M415.6 1447.9h0M411.7 1471.8h0M392.6 1479h0M371.2 1513.3h0M402.8 1464.9h0M469.2 1512.2h0M371.6 1436.4h0M411.6 1449.1h0M359.2 1449.9h0" stroke="#0060e8"/>
<path d="M269.9 1477.2h0M403.1 1521h0M460.2 1440.2h0M395.9 1505.6h0M398.9 1255.4h0M398.9 1523.4h0M310 1528.2h0M308.2 1442.5h0M367.8 1473.8h0M394.6 1476.9h0" stroke="#0082cf"/>
<path d="M387.2 1465.9h0M263.9 1520.6h0M265.7 1452.2h0M405.2 1385.6h0M388.8 1465.1h0M416.7 1411h0M353.8 1414.6h0M385.1 1487.3h0M302.1 1483.9h0M408.5 1447.2h0M299.8 1455.1h0M443.4 1508.4h0M372.3 1391.5h0M458.6 1491.7h0M373.8 1395.1h0" stroke="#009cb8"/>
<path d="M401.9 1466.7h0M333.4 1543.3h0M272.8 1497.4h0M361.5 1506.4h0M355.7 1518.6h0M483.7 1509.1h0M367.2 1434.9h0M206.2 1560.9h0M335.6 1548.2h0M305.7 1507.6h0M394.3 1511.5h0M298.9 1524.5h0M310.8 1370.7h0M343.4 1292.8h0M366.5 1483.3h0" stroke="#00b2a6"/>
<path d="M354.7 1412.5h0M315.1 1517.5h0M275.4 1547.5h0M351.4 1440.7h0M331.4 1454.6h0M290 1390.2h0M331.2 1526.4h0M366.4 1493.7h0M345.2 1400.2h0M322.4 1402.1h0M281.6 1474.8h0M295.2 1490.9h0M261.8 1486h0M324.1 1506h0M303.3 1421.6h0M353 1377.9h0M374 1420.5h0M342.6 1402.2h0M206.3 1351h0M294.2 1503.9h0M319.5 1492.1h0M295.6 1465.7h0M330.8 1409.8h0" stroke="#00c994"/>
<path d="M347.4 1486.6h0M290.7 1504.3h0M296.9 1529.5h0M323.6 1532.8h0M360 1480.5h0M312.1 1454.8h0M282.3 1447.9h0M347.7 1546.3h0M305.9 1473.5h0M361.3 1469.3h0M339.1 1479.6h0M255.9 1469.6h0M256.5 1464h0M286.7 1455.4h0M285.8 1459.2h0M331.7 1491.9h0M384.4 1305.1h0M223.9 1550.3h0M359.6 1492.8h0M327.4 1440.6h0" stroke="#04de7a"/>
<path d="M296.1 1425.8h0M312.9 1468.1h0M334.5 1487.4h0M352.4 1477.9h0M287 1433.3h0M204.8 1506.4h0M278.1 1467.4h0M210 1497.7h0M266.7 1520.6h0M314.1 1517.7h0M315 1488.5h0M197.3 1504h0M207 1389.7h0M308.1 1480.5h0M328.2 1441h0M264.5 1443h0M289.7 1520h0" stroke="#1ce767"/>
<path d="M314 1445.8h0M314.4 1531.7h0M281.8 1440.5h0M251 1439.2h0M297.1 1471h0M322.8 1515.8h0M330.1 1471.1h0M303.6 1364.5h0M266.8 1475.1h0M273.5 1529.1h0M270.7 1471h0M257 1503.1h0M350.2 1427.1h0M253.6 1485.4h0M348.3 1327.1h0M288.1 1433.7h0" stroke="#39ee5a"/>
<path d="M269 1361.8h0M259.1 1473.3h0M307 1504.5h0M253.2 1374.2h0M194.2 1401.3h0M209.9 1517.9h0M373.9 1496.2h0M286 1516.8h0M259.2 1480.8h0M249.6 1545.4h0M296.3 1538.5h0M285.8 1506.1h0M331.7 1453.4h0M314.7 1510.2h0M301.9 1503.7h0M296.6 1479h0M373.7 1495.8h0M278.3 1413.6h0M299.9 1460.6h0M307.9 1368.1h0M309.1 1505.9h0M217.5 1416.9h0M249.9 1499h0" stroke="#5ff641"/>
<path d="M230.7 1470.1h0M281 1480.2h0M302.1 1303.3h0M372.1 1473.3h0M275.7 1495h0M224.1 1500.9h0M219.2 1497.5h0M234 1444.1h0M321.4 1538.2h0M219.5 1489.8h0M259.5 1386.4h0M250.3 1436.7h0M333.4 1481.4h0M247.9 1442.1h0M248.7 1503.3h0M233.6 1489.2h0M254.1 1446.6h0" stroke="#86f928"/>
<path d="M218.5 1434h0M353.7 1433.9h0M199 1405h0M278.5 1459.1h0M280.6 1507.3h0M257.2 1474.1h0M283.1 1477.7h0M240.6 1484.9h0M209.4 1529.9h0M245.7 1500.8h0M284.7 1542.5h0M235.3 1464.6h0M209.2 1513.1h0M262.9 1498.9h0M255.4 1486.4h0M311.3 1434.9h0M359.5 1519.9h0M250.2 1501.7h0M288.5 1502.3h0" stroke="#aaf613"/>
<path d="M197.3 1492.3h0M204.2 1471.3h0M227 1531.6h0M206.6 1479.3h0M297.7 1505.8h0M316.5 1498.4h0M268.6 1427.2h0M267.1 1458.1h0M254.3 1489.5h0M163.4 1489.4h0M146.8 1463h0M232.8 1550.6h0M268.3 1328.5h0M273.4 1423.6h0M285.4 1420.6h0M285 1504.6h0M235.7 1520h0" stroke="#d3ef06"/>
<path d="M289.4 1493.8h0M262.3 1474.1h0M295.9 1397.1h0M213.8 1510.3h0M263.7 1476.3h0M172.3 1451.1h0M182.9 1548.6h0M206.7 1536.5h0M238 1501.3h0M267 1363.3h0M239.4 1481.8h0M184.2 1514.5h0M235.9 1441.3h0M207.4 1491.6h0M207.6 1442.4h0M238.7 1516.6h0M204.8 1401.8h0" stroke="#f3e600"/>
<path d="M299.8 1321.2h0M163.9 1522.4h0M233.2 1412.8h0M193.9 1551.7h0M230 1525.6h0M246.8 1483.5h0M295.4 1408.9h0M235.8 1378h0M171.4 1523.4h0M226.7 1517.9h0M291.1 1436.8h0M243.9 1391.9h0M326.2 1458.5h0M168.4 1492.2h0M160.5 1496.1h0M170 1495.1h0" stroke="#ffd700"/>
<path d="M225.6 1464.8h0M214.9 1503.4h0M215.2 1378.6h0M240.6 1507.4h0M158.1 1473.9h0M212.4 1479.9h0M227.4 1487.8h0M149.6 1485.9h0M293.5 1478.7h0M167.6 1413h0M238.4 1520.2h0M239.9 1465.5h0M287.2 1485.9h0M288.6 1436h0" stroke="#ffbc00"/>
<path d="M224 1463.8h0M208 1501.4h0M217.4 1507.9h0M212.6 1506.6h0M268.9 1389.5h0M215.3 1455h0M167.8 1525.2h0M200.6 1520.6h0M233.9 1509.8h0M200.7 1422.6h0M291.9 1436.1h0M204.5 1437.2h0" stroke="#ffa000"/>
<path d="M195.7 1303.2h0M149.6 1505h0M147.4 1473h0" stroke="#f80"/>
<path d="M210.2 1449.2h0M202.5 1479.9h0M256.9 1390.1h0M193.7 1536.4h0M130.1 1503.7h0M140.5 1535.9h0M216.2 1512.9h0M230.2 1503h0M215.8 1551.9h0M128.7 1525.8h0" stroke="#ff6b00"/>
<path d="M283.8 1453.5h0M175.9 1503.7h0" stroke="#ff4b00"/>
<path d="M140.8 1503.9h0M242 1438.4h0M160.4 1449.8h0" stroke="#ff2d00"/>
<path d="M372.9 1495.7h0M376.2 1461.1h0M398.4 1531.8h0M382.6 1477.6h0M377.7 1460.1h0M287.1 1466.8h0M399.5 1447.2h0M323.2 1510.3h0M387.3 1499h0M395.7 1400.1h0M296.4 1430.7h0M392.7 1379.7h0M357.3 1456.5h0M385.1 1442.4h0M360.8 1523.4h0M381.6 1480h0" stroke="#0040f9"/>
<path d="M432.8 1405.6h0M404.2 1501.2h0M416.9 1529.4h0M300.4 1532.8h0M357.2 1422.1h0M349.5 1502.4h0M347.5 1505.3h0M402.1 1436.1h0M327.8 1450.6h0M414.7 1445.4h0M354 1513.8h0M360.3 1439.8h0M332.8 1449.1h0" stroke="#0060e8"/>
<path d="M437.5 1373.6h0M442 1445.2h0M330.8 1348.7h0M357.4 1506h0M328.5 1517.3h0M315.7 1295.6h0M409.8 1491.6h0M329.6 1466.4h0M403.4 1507.8h0M253.8 1477h0M432.5 1478.6h0M357.5 1527.4h0M324.4 1510.5h0M293.5 1451.4h0M427.1 1453.6h0M359.4 1420.4h0M489.3 1468.1h0M354.8 1502.1h0M456.9 1319.7h0" stroke="#0082cf"/>
<path d="M304.2 1534.5h0M322.6 1469.2h0M221.2 1457.6h0M280.2 1436h0M291.7 1417.9h0M474.3 1465.7h0M290.5 1542.7h0M334.9 1374.1h0M389.2 1490.4h0M422 1531.7h0M311 1474.8h0M300 1503h0M312.6 1400.7h0M330.7 1419.1h0M337.7 1520h0M353.9 1505.5h0M355.2 1410.2h0M312 1426.2h0M338 1469.6h0" stroke="#009cb8"/>
<path d="M334 1351.9h0M375.9 1324.1h0M342.9 1496.8h0M357.1 1545.3h0M411.8 1505.8h0M340.8 1390h0M296.1 1515.2h0M284.7 1543.9h0M276.7 1486.8h0M329.6 1462.2h0M317.5 1336.3h0M356.1 1460.4h0" stroke="#00b2a6"/>
<path d="M258.5 1539h0M367.5 1326.3h0M345.2 1485.2h0M301.8 1486.8h0M317.2 1528.4h0M303.9 1471.8h0M340.1 1538h0M292.9 1541.3h0M326.5 1357.2h0M327.2 1454.2h0M321.3 1414.9h0M336.2 1463.4h0M354.7 1493.1h0M255.9 1492.8h0M273.4 1451.8h0M411 1417.7h0M330.9 1550h0M360.6 1434.9h0M329.1 1406.6h0" stroke="#00c994"/>
<path d="M400 1400.6h0M359.4 1475.7h0M250.6 1420.9h0M289.2 1367.7h0M268.3 1544.7h0M262 1467.8h0M278.3 1420.4h0M305.2 1436.2h0M278.8 1473.6h0M257.4 1513.1h0M335.3 1515.2h0M272.1 1497.6h0M281.3 1401.3h0M284.6 1483h0M313.6 1507.7h0M260.6 1397.5h0M348.3 1433.4h0M191.5 1529.3h0M337.5 1494.7h0M306.2 1478.3h0M236.9 1547.1h0M236.8 1509.1h0" stroke="#04de7a"/>
<path d="M338.5 1459.2h0M330.1 1509.6h0M222.7 1408.8h0M283.8 1474.9h0M272.6 1423.2h0M248.2 1383.2h0M344.8 1421.6h0M265.1 1441.7h0M258.6 1454.1h0M274.5 1377.4h0M297.2 1363.5h0M220.6 1421.2h0M388.6 1506.9h0M354.9 1482.8h0M361.4 1375.6h0M214.1 1530.7h0" stroke="#1ce767"/>
<path d="M262.1 1527.4h0M299.5 1466.6h0M295.5 1511.5h0M246.2 1509.4h0M286.8 1501h0M215.6 1428.5h0M289.4 1454.6h0M392.8 1517.7h0M315.9 1513.1h0M320.6 1449h0M240.5 1471h0M322.9 1364.7h0M244.7 1541h0M211.1 1495.2h0M280.7 1455.2h0M248.1 1439.2h0M342.8 1437.2h0M325.1 1390.8h0M233 1448.1h0M278.1 1509.2h0M251.2 1335.3h0" stroke="#39ee5a"/>
<path d="M227.1 1487.2h0M358.8 1490.1h0M277.6 1514.3h0M239.4 1526.4h0M293.2 1327.2h0M324 1403.7h0M246.7 1530.7h0M260.4 1380.1h0M265.4 1387.8h0M233.1 1443.3h0M295.3 1403.1h0M304.2 1542.1h0M262.1 1536.8h0M259.8 1405.7h0M288.6 1476.9h0" stroke="#5ff641"/>
<path d="M206.1 1442.9h0M280.5 1422h0M224 1511.6h0M215.5 1508.8h0M319 1423.1h0M212.9 1435.6h0M279.2 1521.5h0M257.8 1537.3h0M335.2 1521h0M285.4 1497.7h0M288.2 1491.3h0M311.4 1472.7h0M368.2 1454h0M275.8 1496.1h0M335.7 1519.8h0M234.2 1492.2h0M302.7 1288.8h0M205.3 1458h0M237.4 1403.3h0M299 1479.7h0M206.3 1496.5h0M220.4 1472.2h0M242 1456.1h0M266.4 1364.9h0M240.2 1479.4h0M236.7 1497.6h0M249.5 1504h0" stroke="#86f928"/>
<path d="M278.7 1492.1h0M161.2 1501h0M251.1 1476.7h0M183.7 1469.7h0M270.3 1466.6h0M338.8 1539.2h0M180 1472.2h0M224.5 1468.4h0M256.8 1443.6h0M274.2 1457.2h0M238.3 1525.1h0M226 1512.6h0M244.9 1432.7h0M213.2 1480.1h0M210.2 1478.2h0M222.5 1371.9h0M192.8 1485h0" stroke="#aaf613"/>
<path d="M276.8 1544.4h0M203.7 1468.6h0M174.1 1461h0M261.2 1389.5h0M287.2 1523.9h0M242.8 1482.4h0M217.5 1501h0M277.3 1482.5h0M246.5 1467.6h0M253.2 1459.1h0M138 1494.7h0M266.1 1500.8h0M254.4 1390.1h0" stroke="#d3ef06"/>
<path d="M282.2 1515.3h0M301.3 1500.8h0M142.4 1489.6h0M211.5 1517.3h0M233.2 1525h0M141.5 1506.2h0M241 1386.5h0M268.4 1545.5h0M260 1295.7h0M172.5 1511.7h0M260 1410.2h0M240.3 1455.1h0M212.7 1482h0M244.5 1451.1h0M324.1 1526.7h0" stroke="#f3e600"/>
<path d="M206.9 1480.7h0M226.2 1418.4h0M232.2 1341.5h0M157.7 1497.2h0M257.8 1519.7h0M252.6 1490.9h0M262.3 1437.2h0M165.3 1549.7h0M175.6 1527.9h0M244 1522.3h0M258.9 1436.5h0M210 1498.6h0M256.6 1465.1h0" stroke="#ffd700"/>
<path d="M142.3 1485.1h0M218.4 1494.1h0M200.1 1419.3h0M158.8 1497h0M281.9 1550.5h0M118.7 1537.9h0M187.7 1542.1h0M286 1448.6h0" stroke="#ffbc00"/>
<path d="M188 1558.1h0M216.4 1526.7h0M260.2 1518.1h0M164.5 1494.7h0M244 1495.3h0M253.1 1361.1h0M255.2 1352.4h0M160.9 1496.6h0M261.9 1543.4h0M177.9 1487.2h0M230.4 1484.6h0M204.1 1430.2h0" stroke="#ffa000"/>
<path d="M192.8 1419.6h0M203.6 1541.4h0M166.7 1512.1h0M174.2 1410.8h0M294.2 1468.2h0" stroke="#f80"/>
<path d="M150.7 1518.4h0M138 1497.2h0M161.2 1530.4h0M214.7 1498.4h0" stroke="#ff6b00"/>
<path d="M148.4 1460.6h0M200.6 1541.3h0M216.7 1476.6h0M244.2 1453.6h0M139.4 1509.2h0M173.9 1548.2h0" stroke="#ff4b00"/>
<path d="M127.6 1525.9h0" stroke="#ff2d00"/>
<path d="M143.1 1470.5h0" stroke="#ff0f00"/>
<path d="M332.5 1440.9h0M351.2 1449.1h0M374.7 1442h0M376.8 1449.7h0M377.2 1501.2h0M394.3 1320.4h0M303.2 1423.6h0M350.9 1461.4h0M387.9 1481.9h0M358.7 1415.7h0M369.2 1446.5h0M352.4 1498.1h0M373 1271.9h0M562 1292.5h0M578.7 1458h0" stroke="#0040f9"/>
<path d="M403.7 1417.1h0M414.5 1512.7h0M429.4 1480.8h0M483.6 1383.2h0M420.9 1453.6h0M359.2 1512h0M404.3 1466.9h0M432.1 1498.7h0M408.2 1324.1h0M426 1406.5h0M467.1 1466.9h0M439.2 1460.5h0M447.3 1500.3h0M432.6 1402.4h0M346.5 1497.4h0M415.2 1458.3h0M402.3 1521.5h0M447.1 1155.3h0M475 1143.6h0M475 1149.6h0M534 1196.8h0M562 1245.7h0M560.1 1308.4h0M468.8 1271.2h0M578.7 1478.6h0M445.9 1549.2h0M484.4 1556.6h0M486.2 1377.6h0M486.8 1390h0M487.5 1402.4h0M476.3 1397.1h0M471.9 1413h0M490.6 1407.7h0M496.8 1425.4h0M501.1 1430.8h0M504.8 1452h0M493.7 1471.5h0M507.3 1485.7h0M491.8 1494.6h0M498 1501.7h0M455.2 1420.1h0M459.5 1444.9h0" stroke="#0060e8"/>
<path d="M346.6 1485.7h0M384.5 1482.1h0M476 1463.1h0M314.3 1491.7h0M363.3 1372.4h0M348.5 1393.6h0M415.1 1478.5h0M306.4 1312.2h0M431.2 1510.6h0" stroke="#0082cf"/>
<path d="M282.1 1339h0M332 1530.5h0M311.6 1541.4h0M403 1442.2h0M338.4 1472.2h0M318.4 1502.3h0M506.1 1429h0M503 1476.8h0M465.7 1466.2h0" stroke="#009cb8"/>
<path d="M293.3 1320.7h0M243.1 1455.8h0M436.3 1466.3h0M347.6 1331.3h0M295.5 1455.6h0M303.7 1489.9h0M300.4 1469.2h0M297.5 1494.3h0M316.8 1445.4h0M292.9 1492.4h0M394 1535.9h0M388.1 1145.4h0M390 1202.1h0M445.3 1270.5h0M499.9 1290h0" stroke="#00b2a6"/>
<path d="M304.4 1503.7h0M292 1428.3h0M348.4 1514.6h0M343.5 1407h0M376.8 1357.5h0M289.9 1407.6h0M311.3 1514.5h0M319.9 1392.7h0M261 1452.4h0M357.8 1481h0M289.3 1384.7h0M288.6 1481.1h0M328.7 1500.8h0M259.1 1392.1h0M323.4 1453h0M310.5 1532.1h0M367.2 1491.3h0M240.3 1392.8h0M259.5 1451.7h0M298 1518.8h0M277.3 1486.8h0M334.3 1513.2h0M351.1 1407.4h0M276.4 1235.8h0" stroke="#00c994"/>
<path d="M235.9 1527.9h0M398.2 1464.7h0M351.3 1430.4h0M361 1416.8h0M345.5 1280.8h0M258.3 1508.9h0M234.9 1402.8h0M227.1 1498.6h0M336 1530.5h0" stroke="#04de7a"/>
<path d="M366.9 1497.5h0M287.8 1541.9h0M283.7 1501.6h0M184.7 1531.9h0M235.3 1525.7h0M303.2 1432.5h0M282.4 1420.7h0M312.9 1301.5h0M223.5 1509.1h0M307.3 1376.7h0M283.3 1454.9h0M288.1 1502.5h0M270.2 1424.6h0M349.4 1445.2h0M219.3 1439.4h0M276.6 1528.9h0M344.6 1459.2h0M358 1375.4h0M277.7 1250h0" stroke="#1ce767"/>
<path d="M287.6 1551.5h0M224.5 1488.3h0M351.9 1503.8h0M192.1 1509h0M297 1354.1h0M270.8 1413.3h0M259.2 1532.5h0M264.3 1464h0M362.6 1446h0M359.3 1468h0M187.2 1499.2h0M280.2 1390.7h0M267.3 1532.9h0M320.4 1410.9h0M191.3 1440.4h0M176.9 1538.4h0M271.2 1494.6h0M288.4 1397.9h0M265.5 1536.6h0M335.4 1218h0" stroke="#39ee5a"/>
<path d="M334.5 1500.4h0M267.3 1383h0M222.7 1542.8h0M266.7 1410.7h0M255.8 1485.1h0M208.7 1453.1h0M298.3 1474h0M180.4 1457.9h0M315 1394.9h0M310.6 1544.1h0M236.6 1460h0M319.7 1355.9h0M252.9 1479.8h0M359.2 1509.5h0M262.8 1374.2h0M326.8 1340.8h0" stroke="#5ff641"/>
<path d="M176.4 1523.8h0M298.3 1426.1h0M133.2 1546.7h0M272 1517.6h0M360.6 1525.8h0M249.7 1542.4h0M233.5 1524h0M310.1 1493.2h0M291.4 1493.3h0M227.7 1524.3h0M255.7 1476.8h0M225.7 1454.6h0M302.5 1515.7h0M339.4 1477.9h0M319.4 1560.4h0M254.9 1453.3h0M252.9 1437.2h0M238.1 1513.5h0M122.9 1537.3h0" stroke="#86f928"/>
<path d="M214.4 1468.3h0M234.9 1471.9h0M189.7 1516h0M309.6 1432.4h0M329.1 1506.2h0M166.5 1537.1h0M302.9 1507.7h0M178.9 1527.8h0M187.4 1484.9h0M271.5 1508.6h0M332.4 1365.9h0M165.7 1496h0M232.8 1448.7h0M286.1 1491.5h0M256.6 1537.5h0M303.4 1402.3h0M299.4 1518.1h0M212 1516.5h0M208.1 1424.2h0M255.4 1439.1h0M262.4 1452.5h0M316.8 1203.9h0M293.8 1247.5h0" stroke="#aaf613"/>
<path d="M318.9 1468h0M244.8 1528.9h0M239.2 1489.9h0M249.5 1270.6h0M210.6 1462.8h0M242.5 1503.9h0M246.2 1527.4h0M221.2 1419.3h0M246.9 1453.5h0M134.4 1474.4h0M270.7 1494.7h0M237.1 1426.6h0M263.2 1460.5h0" stroke="#d3ef06"/>
<path d="M193.7 1532.9h0M317.7 1411h0M143.6 1476h0M274.4 1449.8h0M251.2 1482.8h0M199.6 1554h0M223.3 1486.2h0M262.6 1446.1h0M151.5 1532.8h0M270.6 1484.7h0M225.1 1529.6h0" stroke="#f3e600"/>
<path d="M256.7 1444.3h0M174 1518.8h0M199.3 1498.8h0M258.6 1484.8h0M206.8 1443.5h0M219.2 1486.1h0M254.3 1479.6h0M244.9 1516.7h0M241.7 1438.9h0M138.6 1356.3h0M285.7 1228.7h0" stroke="#ffd700"/>
<path d="M215.5 1465.7h0M260.2 1509.9h0M229.3 1544.2h0M177.8 1546.4h0M268.4 1515.5h0M175 1509.8h0M155 1482.5h0" stroke="#ffbc00"/>
<path d="M236.6 1472.6h0M165.8 1545.1h0M245.2 1497.4h0M273.6 1440.1h0M180 1478h0M180.8 1490.8h0M105.7 1492.8h0M115 1430.8h0M120 1530h0" stroke="#ffa000"/>
<path d="M183 1507.8h0M165.3 1522.3h0M196.9 1498.8h0M154.8 1544.6h0M257.8 1164.9h0" stroke="#f80"/>
<path d="M193.2 1523.4h0M156.8 1554.4h0M218.1 1435h0M234 1427.1h0M237.5 1476.9h0M295 1232.9h0" stroke="#ff6b00"/>
<path d="M173.5 1523.8h0M110.7 1452h0M110 1515.8h0" stroke="#ff4b00"/>
<path d="M242.8 1488.4h0M118.3 1529h0M173.3 1417.2h0M194.9 1487.8h0M133.4 1500.2h0M264 1281.9h0" stroke="#ff2d00"/>
<path d="M206.5 1447.6h0M179.7 1473.4h0M254.7 1319.8h0" stroke="#ff0f00"/>
</g>
<path d="M102.6 1585.1L115 1576.4L127.4 1567.7L139.8 1559.1L152.3 1550.5L164.7 1542L177.1 1533.6L189.5 1525.2L201.9 1517L214.3 1508.8L226.8 1500.6L239.2 1492.6L251.6 1484.6L264 1476.8L276.4 1469L288.8 1461.3L301.2 1453.7L313.7 1446.2L326.1 1438.8L338.5 1431.5L350.9 1424.3L363.3 1417.3L375.7 1410.3L388.1 1403.4L400.6 1396.6L413 1390L425.4 1383.5L437.8 1377.1L450.2 1370.8L462.6 1364.6L475 1358.6L487.5 1352.6L499.9 1346.8L512.3 1341.2L524.7 1335.6L537.1 1330.2L549.5 1325L562 1319.8L574.4 1314.8L586.8 1310L599.2 1305.3" stroke="#000" stroke-width="2" stroke-dasharray="4.2 2.6" fill="none"/>
<path d="M164.7 1608.0v-7M164.7 1111.7v7M226.8 1608.0v-7M226.8 1111.7v7M288.8 1608.0v-7M288.8 1111.7v7M350.9 1608.0v-7M350.9 1111.7v7M413 1608.0v-7M413 1111.7v7M475 1608.0v-7M475 1111.7v7M537.1 1608.0v-7M537.1 1111.7v7M102.6 1537.1h7M599.2 1537.1h-7M102.6 1466.2h7M599.2 1466.2h-7M102.6 1395.3h7M599.2 1395.3h-7M102.6 1324.4h7M599.2 1324.4h-7M102.6 1253.5h7M599.2 1253.5h-7M102.6 1182.6h7M599.2 1182.6h-7" stroke="#000" stroke-width="1.4" fill="none"/>
<rect x="102.6" y="1111.7" width="496.6" height="496.3" fill="none" stroke="#000" stroke-width="3.1"/>
<text class="s" x="99.8" y="1637.8" font-size="22" text-anchor="middle">10</text>
<text class="s" x="162.4" y="1637.8" font-size="22" text-anchor="middle">20</text>
<text class="s" x="225" y="1637.8" font-size="22" text-anchor="middle">30</text>
<text class="s" x="287.7" y="1637.8" font-size="22" text-anchor="middle">40</text>
<text class="s" x="350.3" y="1637.8" font-size="22" text-anchor="middle">50</text>
<text class="s" x="413" y="1637.8" font-size="22" text-anchor="middle">60</text>
<text class="s" x="475.6" y="1637.8" font-size="22" text-anchor="middle">70</text>
<text class="s" x="538.2" y="1637.8" font-size="22" text-anchor="middle">80</text>
<text class="s" x="600.9" y="1637.8" font-size="22" text-anchor="middle">90</text>
<text class="s" x="93.6" y="1615.9" font-size="22" text-anchor="end">0.6</text>
<text class="s" x="93.6" y="1545" font-size="22" text-anchor="end">0.8</text>
<text class="s" x="93.6" y="1474.1" font-size="22" text-anchor="end">1</text>
<text class="s" x="93.6" y="1403.2" font-size="22" text-anchor="end">1.2</text>
<text class="s" x="93.6" y="1332.3" font-size="22" text-anchor="end">1.4</text>
<text class="s" x="93.6" y="1261.4" font-size="22" text-anchor="end">1.6</text>
<text class="s" x="93.6" y="1190.5" font-size="22" text-anchor="end">1.8</text>
<text class="s" x="93.6" y="1119.6" font-size="22" text-anchor="end">2</text>
<rect x="611.5" y="1111.7" width="25.1" height="496.3" fill="url(#cbar)" stroke="#111" stroke-width="1.4"/><path d="M611.5 1235.8h7.2M636.6 1235.8h-7.2M611.5 1359.8h7.2M636.6 1359.8h-7.2M611.5 1483.9h7.2M636.6 1483.9h-7.2" stroke="#000" stroke-width="1.3" fill="none"/>
<text class="s" x="655.8" y="1119.6" font-size="22">7</text>
<text class="s" x="655.8" y="1243.7" font-size="22">6</text>
<text class="s" x="655.8" y="1367.8" font-size="22">5</text>
<text class="s" x="655.8" y="1491.8" font-size="22">4</text>
<text class="s" x="655.8" y="1615.9" font-size="22">3</text>
<text class="s" x="145.2" y="1186.6" font-size="28.7">Grains having reversed region</text>
<text class="s" x="145.6" y="1220.8" font-size="28.7">in Fig 3(a)</text>
<path d="M426.1 1165.5L456.9 1155.5" stroke="#000" stroke-width="2.4" fill="none"/><polygon points="474.4,1149.8 454.3,1162.4 450.7,1151.4" fill="#000"/>
<path d="M410 1197.7L453.7 1247.2" stroke="#000" stroke-width="2.4" fill="none"/><polygon points="465.9,1261 446,1247.9 455.4,1239.6" fill="#000"/>
<path d="M460.1 1194.4L543.7 1273.1" stroke="#000" stroke-width="2.4" fill="none"/><polygon points="557.1,1285.7 536.1,1274.5 544.6,1265.4" fill="#000"/>
<path d="M524.6 1510.7L560.4 1474.8" stroke="#000" stroke-width="2.4" fill="none"/><polygon points="573.4,1461.8 561.9,1482.8 552.4,1473.3" fill="#000"/>
<path d="M525.4 1534.2L561.3 1498.4" stroke="#000" stroke-width="2.4" fill="none"/><polygon points="574.3,1485.4 562.8,1506.4 553.3,1496.9" fill="#000"/>
<text class="s" x="500.8" y="1523.7" font-size="31">A</text>
<text class="s" x="501.8" y="1552.5" font-size="31">B</text>
<text class="s" x="-2.5" y="1095.3" font-size="44.5">(e)</text>
<text class="r" x="252.7" y="1669.8" font-size="33.5">Δθ</text>
<text class="ri" x="291" y="1680.6" font-size="19.5">i</text>
<text class="s" x="304.4" y="1669.8" font-size="33.5">+</text>
<text class="r" x="333.8" y="1669.8" font-size="33.5">Δθ</text>
<text class="s" x="372" y="1680.6" font-size="19.5"><tspan class="ri">i,</tspan>1</text>
<text class="s" x="401.8" y="1669.8" font-size="33.9">(deg)</text>
<text class="s" transform="translate(48.5 1355.5) rotate(-90)" font-size="32.8" text-anchor="middle">Maximum diploe field at grain (T)</text>
<text class="s" transform="translate(703.4 1362.5) rotate(-90)" font-size="31.7" text-anchor="middle">Coercivity of grain (T)</text>
<g clip-path="url(#fclip)" opacity="0.88"><rect x="841.7" y="1091.8" width="511.5" height="510.7" fill="#12e56c"/><g filter="url(#bblur)"><path d="M844.7 1094.8l134.2 0-4.6 18.1-1.3 8-0.7 8.1 0.2 6 1.1 4.8 2 2.4 2 0.5 2-0.6 4.1-2.8 4-4.6 4-5.8 8.1-14.7 8.2-19.4 342.2 0 0 95.3-10.1 1.7-8 0-8.1-2-8-4.4-6.1-5.1-6-6.8-25.9-36.5-6.6-8-7.7-8.1-8.2-6.5-8-4.8-8.1-2.9-8-1.4-10.1 0.4-10.1 2.7-6 2.6-6 3.4-10.1 7.3-12.1 11.3-14.1 16.6-10.1 14.2-4 7.1-2.8 6.3-2.9 10.1-0.2 6 0.5 2 1.4 2.3 2 1.3 4 1.4 0.8 1.1 0.4 2-0.8 4-5.3 12.1-24.1 46.2-9.4 16.1-2.5 6-2.7 10.1-2.3 14.1-1.2 14-0.1 16.1 1.2 18.1 2.6 20.1 4.1 20.1 5.1 18.7 6 18.2 8.1 20.8 25.3 56.9 3.5 10.1 2.6 10.1 1.7 14-0.4 14.1-1.9 14.1-4.7 22.1-199.7 0-4.2-16.1-4.4-14.1-4.4-12-4.9-12.1-5.8-12.1-6.6-12-6.3-10.1-7.3-10.2-8.1-9.7-8-8.2-8.1-7-8-5.9-10.1-6.1-8.1-3.8-8-2.9-10.1-2.6zM1201.2 1442.7l2-1.1 2 0 4 2 3.5 3.1 3.4 4 3.8 6 5.9 12.1 5 14.1 1.8 10-0.1 4.1-1.2 4-1.9 2.3-2.1 1.1-2 0.3-4-1-4-2.6-2.2-2.1-4.6-6.1-6.1-12-4-12.1-2-12.1 0.2-8 1.2-4z" fill="#16e66a"/><path d="M844.7 1094.8l130.6 0-4.8 22.1-1.4 10.1-0.5 8 0.6 8.1 1.4 4 1.5 2 1.5 0.9 2 0.1 4-1.8 4.1-3.6 8-10.4 9.8-17.4 10-22.1 144.5 0 1.3 6 0.7 8.1-0.2 6-1.1 8.1-2.2 10-6.6 24.1-2.2 18.1-6 12.1-1.9 6-0.5 4 0.4 4.1 1 2 2 1 8.1-0.9 0.8 1.9-0.2 2-4.2 10.1-25.4 48.2-3.2 5.2-6.8 8.9-2.1 4-2.3 6-2.6 10.1-1.8 10.1-1.1 10-0.7 14.1 0.1 14.1 0.8 14 1.7 16.1 4.5 28.2 14.3 72 2.8 10.4 3.2 8.1 4.5 8 10.5 16.1 4.1 8 2.6 8.1 1.1 8-0.3 6-1.7 8.1-3.4 8-3.7 6.1-5.6 6.8-6 5.7-8.1 6-8 4.9-5.5 2.7-115.8 0-5.6-4.1-6.1-5.5-8.7-10.5-7.4-11.5-18.4-32.7-11-18.1-12.4-18.1-12.6-15.7-14.1-14.3-14-11.6-14.1-9.8-22.2-13.2zM1202.9 1444.7l2.3-0.4 0.8 0.4 4.4 4 5.3 8 4.9 10.1 5.6 14.1 2.7 10 0.4 6.1-0.4 2-1.6 2.1-2 0.4-2-0.7-4.3-3.8-4.1-6.1-4.9-10-5.3-14.1-2.6-10.1-0.6-8 0.3-2z" fill="#1ae769"/><path d="M844.7 1094.8l126.7 0-4.7 26.1-1.5 18.1 0.3 7.5 1 4.6 2 4 1.1 1.1 2 0.9 2-0.1 2-0.7 4-2.6 4.1-3.9 6-7.6 10.7-17.2 15.1-30.2 102.8 0 4.8 6 5.2 8.1 3.8 8 2.6 8.1 1.7 8 3.3 24.1 5 16.1-0.2 2-1.1 2-9.1 12.1-4.1 8-2 6.1-1.2 6-0.4 4 0.6 4.1 1.5 2 2 0 4-2.3 8.1-6.3 2-0.9 0.5 1.4-0.5 2.5-4.1 8.5-21.7 41.3-4.4 6.9-7.5 7.2-3.4 6-4 12.1-2.7 12-1.8 14.1-0.8 16.1 0.1 16.1 1.1 18.1 7.1 68.4 0.6 14 0.3 26.2 1.3 10 2.1 6.1 3.8 6 5.8 6 14.1 12.6 4.7 5.5 4.7 8.1 2 8 0 6-0.8 4.1-1.4 4-3.2 5.7-4 5.1-4 3.8-10.1 6.9-12.1 5.6-18.1 5.7-20.2 4-16.1 1.6-14.1 0.1-14.1-1.6-12-3.2-6.1-2.5-6-3.4-5.4-3.7-4.8-4-5.9-6.1-5-6-49.4-70.3-16.1-20.7-16.1-17-37-34.7-7.5-8.1-7.9-9.5zM1204.6 1448.7l0.6-0.8 2 1 3 3.8 4.5 8.1 5.5 12 3.8 10.1 2.3 8 0.5 4-0.3 2.1-1.2 1.3-2-0.9-3.6-4.5-3.4-6-3.7-8-4-10.1-3.1-10.1-1.3-6z" fill="#1de867"/><path d="M862.4 1094.8l103.8 0-4 36.2-0.4 16.1 0.6 6 1.6 6 1.5 2.6 2.1 1.7 2 0.5 4-0.8 4-2.5 6.1-5.9 6-7.6 10.4-16.1 20.4-36.2 70.2 0 11.2 12.1 9 12 7.1 12.1 11.8 24.1 4 6.1 9 11.3 0.3 2.7-1.5 2-10.9 10.1-5.2 6-3.7 6.1-3.3 8-2.3 8-1.8 10.1-0.2 8 0.4 2.2 0.9 1.9 1.1 1 2 0.1 2-0.7 4-2.9 10.1-9.4 0.5 1.8-0.5 2.1-4 8.3-14.8 27.8-2.9 4-2.5 2.2-6 3-3.1 4.9-5.3 14.1-2.9 10-2.4 14.1-1.4 16.1-0.3 26.1 2.5 50.3 0.3 20.1-1.3 20.1-4.9 36.2 0 8 1.9 6.1 2.8 3.6 2.6 2.4 6.3 4 17.3 8.5 8 4.9 4.1 3.1 3.5 3.6 3.9 6.1 1.4 4 0.5 4-0.3 4-1.9 6.1-2.4 4-3.5 4-3.2 2.9-6.1 4.1-12.1 5.6-16.1 4.9-20.1 3.9-22.2 2.3-16.1 0-12.1-1.7-10-3-4.1-1.9-6-3.7-8.1-7.2-6.7-8.2-15.4-22.2-25.1-34.1-25.3-35.9-10-11.8-22.9-24.7-14.1-16.1-17.4-21.6-12.1-16.5 0-272.9zM1208.7 1458.7l0.5-1.9 4.1 6.6 6 13.8 2.1 5.7 1.3 6-1.4 1.1-4-7.1-4-9.4-4.1-11.4z" fill="#21e865"/><path d="M921.2 1094.8l34.5 0 2.1 4 1.4 8.1 0.1 8-1.3 30.2 0.2 8 0.8 6 0.9 4.1 1.7 4 1.9 2.3 2 1.1 2.1 0.3 4-1 4-2.4 4-3.5 6.1-6.7 11.7-16.3 20.5-33 6-8.3 4.7-4.9 46.5 0 5.8 6 6.2 8.1 21 32.1 7.3 10.1 7.6 8 15.7 11.9 2.3 2.2 0.2 2-1.8 2-14.8 10.1-4.5 4-3.5 4-2.7 4.1-3 6-4.4 14.1-2.4 12-1 10.1 0 8 1.4 6.9 2 1.5 2-0.8 14.1-12.1 0.7 0.5-0.2 2-4.5 10.2-6 9.8-2.1 1.7-2 0.6-4-2.1-2 0.5-2 3-3.7 10.5-5.9 14.1-3.5 12-2.4 14.1-1.6 18.1-0.6 20.1 0 44.3-1.6 22.1-1.8 12-4.2 22.2-2.8 22.1-2.6 8-5.1 10.1-0.8 4 0.6 2 1.5 2 4.3 2.7 9.4 3.3 22.8 5.5 12.1 3.7 6 2.7 4 2.3 4.1 3.2 2.5 2.8 2.5 4 1.2 4 0.1 4-1.7 6.1-2.6 4-4 4.1-4.1 3-8 4.2-12.1 4.3-18.1 4.1-22.2 3.4-18.1 1.3-12.1-0.3-10.1-1.3-10-3.3-8.1-4.9-4.9-4.6-4.9-6-18.4-28.2-24.9-34.1-6.7-10.1-10.7-18.5-6.3-9.6-6.6-8.1-21.5-24.1-23.7-28.2-20.4-23.1-6.1-7.7-4-6.5 0-22.6 8.3-12.5 1.5-4 0.5-4-0.6-6-2.1-6.1-3-6-4.6-7.5 0-159.7 6.2-5.7 7.9-6.3 8.1-5.6 8-4.8 8.1-4.2 10-4.5 10.1-3.7z" fill="#25e963"/><path d="M1040.4 1096.8l3.5-2 21.8 0 2.5 2 4 4 3 4.1 4.7 8 12.8 24.1 5.2 8.1 5 6 4.1 4 5.1 4 10.2 6.1 14.4 7 1.4 1 0.8 2-4.2 3.1-10.2 5-6.9 4-7.4 6-4.6 6.1-3.1 6-3 8-2.1 8.1-2.3 12-1.3 12.1 0.2 10.1 1.5 14-0.2 6.1-1.7 6-6.5 12.1-2.6 6-2.5 8-1.8 8.1-1.6 10-1.5 14.1-2.8 48.3-1.8 18.1-2.8 16.1-5.8 22.1-1.2 6-0.5 6 0.2 4.1 3.2 18.1-0.2 4-0.6 2-2.5 4-2.1 1.9-6 2.9-8.1 1.6-18.1 1.5-6.1 1.7-3.1 2.5-1.2 2-0.5 2 0.8 5.1 3.1 4.9 2.9 2.5 6.1 2.3 8 1 30.2 1.2 24.2 1.9 14.1 2.1 12.1 3.4 4 1.9 4.1 2.7 4 4.4 2 4.8 0.3 2-0.5 4-0.7 2-2.6 4.1-4.6 4.3-8 4.7-10.1 3.7-16.1 3.9-16.1 2.8-18.1 2.2-18.2 0.9-12-0.8-10.1-2.4-8.1-4.1-5.8-5.2-5.9-8-14.5-24-22.9-32.3-8.1-12.1-6.4-12.1-6.4-16-4.5-7.2-5.7-6.9-18.6-20.1-24.8-28.2-29.4-29.6-5.3-6.6-2.3-4-1.4-4-0.2-4 1.1-3.2 2-2.8 4.1-3.1 14.1-5.7 5.8-3.3 2.1-2 2.3-4.1 0.9-6-0.4-4-1.1-4-1.7-4.1-3.5-6-6.3-8-14.3-14.8-6-8.2 0-98.6 6.2-11.1 4.4-6.1 5.1-6 10.5-9.9 11.2-8.2 14.4-8 14.7-6.1 18.1-5.2 6-1.1 6.1-0.4 4 0.7 2 1 2.9 3 1.7 4 1.4 10.1 1 30.1 0.8 6.1 1.7 6 2.1 4 2.5 2.2 2 0.8 4.1-0.4 6-3.2 8-7.4 11.3-14.1 19-27.6 8-10.8 4-4.5 6.1-5.8z" fill="#29ea62"/><path d="M1050.1 1096.8l4.1-1.5 4-0.1 4.1 1.6 4.6 4 2.8 4.1 3.2 6 9.4 23.2 4.1 8.5 4 6.5 5.3 6 5 4 7 4.1 9.7 4 15.3 5.3 1.4 0.7 1.5 2-2.9 2.1-19.5 8-6.7 4-4.8 4-3.4 4-3.5 6.1-3.2 8-2.8 10.1-2.8 16.1-0.2 12 1.9 10.1 4.4 12 0.7 4.1-0.3 2-2.1 4.7-6.8 9.4-3.5 6-2.5 6-2.5 8.1-3.8 20.1-5.5 44.2-3.3 20.1-4.3 16.8-8.5 23.4-1.7 8.1 0.3 6 1.6 6 2.9 6.1 7.1 12 1.6 4.1 0.3 4-0.7 2-2.9 2.5-2 0.8-6.1 0.6-8-0.7-24.2-4.1-6-0.3-4.1 0.3-3 0.9-3 2.2-1.6 3.8 0.1 6.1 3 10 5.2 10.1 5.4 6.6 2 1.6 4 2.2 4 1 6.1 0.5 32.2-1.5 22.2-0.1 14.1 0.7 10 1.3 10.1 2.6 6 3 4.5 4.2 1.2 2 1.1 4-0.1 2-1.5 4-1.3 2.1-3.9 3.7-6 3.7-10.1 3.9-16.1 3.9-22.1 3.6-22.2 2.3-16.1 0.3-8.1-0.8-8-2.1-6.1-3.1-6-5.4-4.1-6-14-24.4-24.9-35.9-8.7-14.1-4.2-10.1-2.9-16.1-3.1-6-5.1-6-23.6-24.3-20.4-22-10.4-10-23.6-20.9-6-6.4-3.3-4.9-1.3-4 0.1-2 0.9-2 1.5-1.7 2.1-1.2 4-1.1 4-0.4 22.2 0.2 6-1.3 4-2.1 4.1-4.1 2-4.1 1.1-4.4 0.3-6-0.7-6-1.9-6-3.1-6.1-2.9-4-5.8-6-4.9-4.1-20.4-13-6-4.6-2.5-2.5-2.8-4-1.3-4-0.2-2 1.2-6.1 5.3-12 2.4-8.1 0.8-6 0.9-18.1 0.9-8 1.5-8.1 2.4-8 4.5-10.1 5.1-8 6.5-8.1 9.5-8.7 7.2-5.3 6.9-4.2 8.1-4.2 8-3.3 8.1-2.6 6-1.2 4-0.1 4.1 1.2 2 1.6 1.7 2.7 2 6 3.3 28.2 2.7 10.1 2.3 4 2.2 2 3.9 1.1 4-0.7 6.1-3.5 8-7.3 8.5-9.7 19.7-26 8.1-9.6 16.1-15.8 10.4-11 4.5-4z" fill="#2deb60"/><path d="M1052.3 1098.8l3.9-1.3 2 0.1 4 2.3 2.6 2.9 2.4 4.1 2.5 6 6.6 21 4 10.9 4.1 7.4 4 4.9 5 4.1 7.8 4 5.6 2 21.7 6 2.6 2-3.4 2-12.4 4.1-10.4 4-7 4-3.5 2.9-4.5 5.1-3.4 6.1-3.9 10-2.8 10.1-1.5 8-0.9 8.1 0.1 6 0.9 6 2.9 8.1 9 14.1 0.5 2-0.1 2-2.3 3.8-8 8.2-3.3 4.1-3.5 6-2.5 6-4.6 16.1-7.8 40.2-5.7 22.1-2.9 8.7-4 10.1-12.9 25.5-1.4 4-0.8 4 0.5 6.1 1.4 4 2.1 4 6 8 15.2 16.6 2.4 3.6 0.8 2 0 2-1.2 1.7-2 0.9-6.1 0-8-1.7-31.3-9-9-1.8-6.1-0.5-4 0.4-2.8 1.9-1.2 3.3 0.3 4.8 1.7 6.6 3.6 9.5 4.5 9.7 4 7.4 4 6.4 3.7 4.6 2.4 2.4 4 2.7 4 1.3 6.1 0.5 30.2-2.3 20.1-1 16.1-0.1 14.1 0.9 10.1 1.9 6 2.3 4.7 3.5 2.5 4 0.3 2-0.1 2-1.3 3.2-4.1 4.5-4 2.7-4 2-10.1 3.4-16.1 3.5-26.2 3.8-20.1 1.8-14.1 0.1-10.1-1.4-6-2.1-6.1-4.2-4.3-5.2-9.8-18.4-6-10-25.8-38-7.2-12-2.6-6.1-1.4-6 0.1-4 2.1-8.1 0.1-2-0.5-2-2.5-4-52.4-52.3-13.6-12.1-23.2-18.8-6-5.8-2.8-3.5-1.8-4 0.2-2 2.4-2.3 4-0.8 8 0.7 19.5 4.4 6.7 1 8.1 0 6-1.8 4-2.8 2.1-2.1 3.9-6.4 3.1-10 1.1-10.1-0.7-8-1.5-6.1-3-6-5.1-6-5.2-4.1-7.1-4-8.7-4-23.2-9.2-6-3.1-4-3-2-2.5-0.9-2.3 0-2 0.9-2.3 2-2.9 15.7-12.9 4.9-6 2-4.1 1.3-4 3.8-24.1 2-8.1 2.2-6 4.1-8 4-6.1 5.2-6 6.6-6 8.6-6.1 8-4.1 6.1-1.7 4-0.1 2 0.7 2 1.4 1.5 1.8 1.9 4 5.5 24.2 1.4 4 2 4 1.8 2.3 2.1 1.5 2 0.8 4 0.1 4-1.4 6.1-3.9 6-5.3 8.1-8.6 24.1-28.5 6.1-5.9 12.1-10 4-3.9 6-7.7 10.2-15.9 3.5-4.1z" fill="#31ec5e"/><path d="M1053.1 1100.8l3.1-1.4 2 0.2 2.2 1.2 3.1 4.1 3.8 10 5 20.1 3.6 12.1 2.7 6 4.2 6 4.8 4.1 8.5 4 6.6 2 18.1 4 4.3 2-3.6 2-20.3 6.1-8.5 4-5.4 4-2.9 3.2-3.3 4.9-2.8 5.4-4 10.6-3.4 12.1-1.5 10.1 0.2 8 1.3 6 2.7 6.1 4.3 6 10.2 10.1 1.1 2-0.2 2-2.6 3.3-11.1 8.7-3.5 4.1-3.7 6-2.7 6-2.8 8.1-10.5 40.2-3.3 10-3.3 8.1-5.4 11-6.1 10.3-6 8.7-12.8 16.2-2.4 4.1-1.5 4-0.3 4 1 4 2 4 2.9 4.1 5.4 6 6.3 6 25.6 22 2.9 4.2-0.5 2-2.4 0.6-2.1-0.1-6-1.4-37.5-13.2-19.1-6-13.9-2.9-4 0.3-0.5 0.6 16.6 36.1 10.1 19 8 12.3 4 4.6 4.1 3 4 1.5 6 0.4 48.4-4.1 20.1-0.7 14.1 0.6 8.1 1.1 8 2.7 2 1.2 2.9 2.7 1.5 4-0.9 4-1.5 2-4 3.5-6 3.2-10.1 3.2-16.1 3.4-26.2 3.6-20.1 1.9-14.1 0.3-8.1-0.9-6-1.7-4.5-2.4-4.3-4-2.7-4-6.6-13.5-6.1-10.7-33-50.2-4.6-10.1-0.8-4 0.5-4 1.7-2.6 2-1.5 2-1 6-1.3 1.4-1.7-1.3-2-5.9-6-16.3-13.5-10.1-10.4-12.1-10.8-22.4-21.6-9.7-8.1-30.3-23.5-4.5-4.6-2.2-4 0.7-2 2-0.8 6 0.4 6.1 1.5 24.1 7.8 6.1 1.4 6 0.8 4 0 4.1-0.7 6-3 5.2-5.4 4.7-8.1 4-10 2.7-10.1 1.4-10 0-8.1-1.3-8-2.5-6-4.1-4.9-6-3.2-56.5-15.2-4-1.6-4-2.3-2.3-3 0.3-2.1 2-2.4 2-1.3 6-2.8 15.7-5.5 9.2-4 6.3-4 4.1-4 2.6-4.1 1.6-4 4.3-20.1 3.5-10.1 5.1-8.3 3.6-3.7 2.4-1.8 4.1-1.2 2 0.4 2 1.4 2.3 3.2 7.2 16.1 3.2 4 3.4 2 4 0.4 4.1-1 4-1.9 6-4.3 10.1-9.5 20.1-22.5 8.1-8.2 6-5 14.1-9.8 6.1-5.5 6-8.3 4.1-7.9 7.3-17 2.2-4z" fill="#35ed5c"/><path d="M1053.6 1102.8l2.6-1.6 2 0.2 2 1.7 2.1 3.8 3.1 10 4.9 24.2 2 7.6 2.5 6.4 3.8 6.1 4.7 4 7.1 3.3 10.1 2.7 10.5 2 6.4 2-3.4 2-15.1 4.1-5.9 2-6.6 3.2-3.9 2.8-3.9 4-5.1 8.1-5.2 12-4.7 14.1-1.9 10.1 0.2 8 1 4 1.6 4 3.7 6.1 6 6 12.2 8.7 1 1.4-0.1 2-2.9 2.7-9.1 5.3-5 4-3.7 4.1-2.5 4-3.8 8-3.8 10.1-11 36.2-3.5 8-4.7 8.1-7.3 9.7-10.1 11.5-25.8 25-2.4 3.4-1.1 2.6-0.3 2.1 0.8 4 2.5 4 3.5 4 6.6 6.1 9.9 8 35.3 26.1 4.1 4.1 0.2 2-1.1 0.2-6-1.3-6-2.1-60.5-24.2-12-6.1-12.1-7.5-10.1-7.5-8.3-9.8-11.8-9.9-21.9-20.3-12.6-10.1-23.9-17.4-8.1-6.5-3.7-4.2-0.5-2 2.2-0.8 6 1 31.8 11.8 6.7 2.1 7.8 1.4 6.1-0.1 4.6-1.3 5.5-3.7 3.8-4.4 6.2-10 6.4-14.1 4.9-14.1 2.6-12.1 0.7-12-1.1-10.1-1.4-6.5-2-6.1-4-8-2-1.7-2.1 0.9-5 5.3-3.1 2-3.9 1.8-6.1 1.1-6 0.1-16.1-2.2-30.2-6.1-6.1-2.1-2-1.3-1.3-1.3 0.5-2 4.8-2.5 8.1-2 28.2-5 14.1-1.8 6 0.1 4 0.6 6.7 2.5 7.4 4.9 2.1-0.5 2-3.6 5.5-12.8 6.3-10.1 8.1-10 24.4-28 8-8.5 6.1-5.7 8-6.1 16.1-10.7 6.1-5.4 4-4.9 4-6.9 2.1-4.4 9.1-28 1.8-4zM957.5 1464l2-0.4 2 0.3 4 2.3 4.1 4.4 5.2 8.3 14.9 27.8 10.1 17.1 8 11 2.6 2.4 3.5 2.2 4 1.1 4 0.1 50.4-4.9 20.1-0.9 14.1 0.3 10.1 1.4 6 2.1 3.6 2.6 1.4 2 0.5 2-0.2 2-1.2 2.4-2.1 2.2-4 2.7-4 1.9-12.1 3.6-12.1 2.4-28.2 3.9-24.1 2.2-14.1-0.1-4.1-0.5-6-1.7-4.9-2.9-3.6-4-7.6-15.6-6.1-10.8-32.6-50-4.2-8.1-1.3-4-0.2-4z" fill="#38ee5a"/><path d="M1054.3 1104.9l1.9-1.7 2 0.3 2 2.7 1.1 2.7 2.1 8 5.2 30.2 2.4 8 3.3 6.7 4 4.2 5.8 3.2 6.3 2 17.8 4-2.5 2-14.8 4.1-5.3 2-6.9 4-4.2 4-4.2 6.1-6 12-5.7 14.1-3.1 10-1 6.1 0.1 6 1 4 3.1 6.1 5 6 4.6 4 16.1 9.2 0.8 0.9-0.1 2-2.9 2-8.4 4-6.3 4-4 4.1-2.7 4-4.1 8-4.6 11.4-11.6 34.9-2.9 6-3.6 5.3-6 6.4-24.2 21.9-24.1 20.7-3.8 4-2 4 0 2 1.9 4.1 6.1 6 13.6 10.1 44.5 30.1 5.1 4 1.4 2-0.4 0.2-2-0.3-10.1-3.6-50.3-21.7-16.1-8-14.1-8.2-4.1-2.8-4.2-3.8-1.5-2-2.3-4.6-3.2-3.5-10.9-8-15.4-14.1-9.7-8-38.5-28.2-4.3-4-0.7-2 2.1-0.2 6.1 1.8 30.2 12.5 10 3.2 6.1 1.3 6 0.1 4-0.9 3.4-1.7 2.6-2 4.1-4.6 7.4-11.5 8.3-16.1 6.5-14.9 4-12.5 1.7-8.8 0.6-8-1.1-26.2 0.5-12.1 2.5-12 3.9-10.1 4.3-8 5.2-8.1 6.2-8 6.4-7.4 12.1-11.4 24.2-18.7 6-6 4-5.2 4.1-7.3 2-5.1 4-13.9 4.7-19.5 1.4-4zM894.2 1255.7l14.9-0.9 6.1 0.4 4 0.8 4 1.7 2.6 2 1.2 2 0.3 2-0.4 2-1.7 2-4 2-6 0.9-6.1-0.1-14.1-1.6-18.1-2.8-10.8-2.4-4-2 1.9-2 4.9-1.2zM957.8 1466.8l1.7-0.7 2 0.7 2.7 2 3.5 4 5.2 8.1 18 32.1 8.6 14.1 6.3 8.7 3.2 3.4 2.9 2.1 4 1.5 4 0.2 48.3-5.2 22.2-1.3 16.1 0 10.1 1.2 6 2 2 1.3 2.1 2.2 0.6 2-0.3 2-1.2 2-3.2 2.9-6 3-10.1 3.1-14.1 2.7-26.2 3.6-26.1 2.5-14.1 0-6.1-0.8-4-1.3-4-2.3-3.1-3.3-8.5-18.1-5.6-10.1-31.6-48.2-5.1-10.1-0.9-4z" fill="#3cef59"/><path d="M1056.2 1105.8l2 0.6 2 4.5 1.7 8 4.6 30.2 2.1 8 2.8 6.1 3.5 4 5.4 3.2 6.1 1.9 11.8 2.9-1.1 2-12.7 3.9-5 2.2-5.9 4-3.7 4-5.6 8.9-8 16.8-5.9 14.5-2.2 8.1-0.4 6 0.8 4 2 4 3.1 4.1 6.4 6 5.6 4 16.7 8 0 2.1-13.5 6-3.3 2-4.5 4-2.8 3.9-4.2 8.2-7.9 18.9-9.3 27.4-1.7 4-3.1 4.8-4 3.9-16.1 11.4-25.2 22.1-19.3 16.1-4.2 4-1.5 2-0.5 2 0.7 2 1.7 2.1 4.7 4 11.9 8 44 28.2 8 6-2.2 0.1-18.1-7.4-30.3-13.8-16.1-8.1-14.1-8.3-5.3-4.7-1-2-0.4-4.1-1.3-2.5-12.1-7.4-16-14.2-9.8-8-30.8-22.1-7.6-6.1 1.8-1 2 0.5 34.2 14.2 8.1 2.5 6 0.9 6.1-0.5 4-1.8 4-3.2 4-4.8 8.1-12.5 9.9-18.4 8.2-17.5 4-10.7 2-8 1-8-0.4-24.2 0.8-10 2.1-10.1 4.4-12 2.9-6.1 4.9-8 9.2-12.1 9.5-10 26.1-24.5 8-9.9 4.1-7.6 2.3-6.3 3.7-15.3 4.1-20.9 1.9-6zM879.9 1259.7l19.2-1.3 14.1 0.1 4 0.6 4 1.4 1.8 1.2 1 2-1 2-1.8 1-4 0.9-6 0.2-10.1-0.7-14.1-1.8-9.8-1.6-5.6-2zM959.5 1470.4l2-0.6 2 1.6 6.1 8.2 22.2 39.5 0.7 2-0.8 1.2-24.1-35.4-6.1-10.3zM992.8 1523.1l0.9-0.6 1 2.6-1 0.4zM995.1 1527.1l0.6-1.3 0.6 1.3-0.6 1.7zM996.3 1529.1l1.5-0.4 4.6 6.5 7.4 7.4 2.1 1.3 4 1.2 4-0.1 22.2-3 22.1-2.2 22.2-1.7 16.1-0.5 10.1 0.5 8 1.7 4 2.2 1.1 1.2 0.8 2-0.3 2-1.4 2-4.2 3.1-10.1 3.6-10 2.3-24.2 3.7-22.1 2.6-18.2 1.4-12.1-0.2-8-1.9-4-2.5-1.8-2-2.2-4-7.5-18.1z" fill="#40f057"/><path d="M1056.2 1109.7l2 0.9 1.3 4.3 1.4 8.1 3.4 26.1 1.9 8.7 2 5.4 2.1 3.1 2.9 2.9 5.1 2.7 10.7 3.3 0.1 2-10.8 4-4 2.1-5.1 4-4.7 6-8.3 15.1-10.8 23.1-3.3 10.1-0.6 4 0.2 4 1.6 4 1.5 2.1 6.8 6 5.6 4 6.8 4 14.6 6.1-0.1 2-14.4 6-5.1 4-3.1 4.1-3.8 7.2-10 23.4-4.1 10.8-5.4 16.9-2.2 4-1.8 2-2.6 1.9-10.1 4.8-7.9 5.4-34.2 30.1-16.3 12.8-4 2.3-4.1 1.1-6-0.5-4-1.3-4.1-2-4-2.8-20.3-17.6-29.7-22.1 1.7-0.8 2 0.5 25.8 10.3 6.4 1.9 6 0.8 5.1-0.7 4.1-2 4.4-4 4.7-6 7.9-12.6 10.1-18.2 9.6-19.5 4.8-12.1 1.7-6 1.2-8-0.6-22.2 0.5-8 2.3-10.1 3.8-10 7.8-14.1 8.7-12.1 10.4-12 24.3-25.9 4-5.1 4.1-6.4 2.9-6.9 2.4-8 5.7-32.2 1.1-4.5zM892.6 1261.7l10.5-0.6 8.1 0.1 4.4 0.5 3.8 2-4.2 1.4-8.1 0-12.8-1.4zM948.3 1422.6l1.1-0.8 2-0.1 6.1 2.4 40.3 24.4 12.3 8.2-2.3 0.4-6-2.4-20.2-9.3-20.1-10.2-7.9-4.6-4.2-3.1-2.1-2.9zM1090.9 1539.2l15.6-0.4 10.1 0.9 6 1.9 2.2 1.6 1 2-0.4 2-0.8 1.1-4 3-6 2.4-10.1 2.6-14.1 2.4-26.2 3.5-20.1 2-14.1 0.7-10.1-0.8-4-1.3-2.6-1.5-2.1-2-2.2-4-3-10.1 1.8-1.2 6.1 2.7 4 0.2 36.3-4.8z" fill="#45f154"/><path d="M1056.2 1115.9l2 1.7 5 35.5 1.3 6 1.7 5.2 1.7 2.9 2.4 2.6 4 2.6 7.2 2.8 0.8 2-8 3.6-4.1 2.5-4.5 4-5.5 7.7-10.1 18.5-9.7 20-3.8 10.1-0.8 4-0.1 4 1.6 4.1 4.5 4 17.2 10 14.9 6.1-0.1 2-10.2 4-3.4 1.9-2.7 2.1-3.3 4.2-4.1 7.6-12.1 27.8-4 11.2-3.2 11.6-1.7 4-1.6 2-1.5 1.2-8.1 2.3-4 1.6-7.6 4.9-9.6 8.1-28.8 26.1-12.4 9.8-4.1 2.1-4 1.3-4 0.1-4-1-4.1-1.9-3.2-2.3-13.6-12.1-17.9-14.1-4.4-4 0.9-0.4 2 0.3 20.1 6.9 6.1 1 4-0.3 4-1.6 4.7-3.9 5.4-6.8 6-9.2 10.1-17.5 10.1-19.4 6-12.7 4-10.6 1.5-6.2 0.6-6.1-1.2-18.1 0.2-6 1.4-8 2.8-8.1 6-12 9.2-14.1 12.8-16.1 23.1-26.6 4.1-5.3 3.8-6.3 2.6-6 2.3-8.1 5.4-32zM952.4 1426.6l1.1-0.4 1.7 0.4 4.3 2 17 10-0.9 0.7-2-0.4-4.8-2.3-11.5-6-3-2zM977.3 1440.7l0.3-0.5 2.1 0.5zM1077.9 1541.2l20.6-1.3 14.1 0.1 8 1.5 3.2 1.7 1.3 2-0.5 2-4 3.2-6 2.4-8.1 2.1-16.1 2.8-18.1 2.4-36.3 3.6-12.1 0-4-0.6-4-1.2-3.6-2.6-1.4-2-1.8-6.1 0-2 0.7-1.2 6.1 0.5 30.2-4.3z" fill="#4af250"/><path d="M1056.2 1125.4l2 3.1 3.6 26.6 2.6 10.1 1.8 3.3 2 2.4 3.5 2.3 4.1 2 1 2-7.2 4.1-3.4 2.4-4 4.3-4 5.8-12.1 21.6-10.3 20.2-4.2 10-1.2 4-0.5 4 1.1 4.1 3 2.8 14.1 6.1 10.5 5.1 10.2 4.1 0 2-8.6 3.7-3.7 2.3-2.3 2.3-2.6 3.7-15.6 34.5-4 10.9-3.9 15-2.1 3-2.1 0.8-6 0.5-4 1.1-8.1 4.8-14.3 11.9-30.4 28.1-7.7 6.1-4 2.1-4 1.2-4-0.1-2-0.6-6.1-3.6-22-19.1-2.2-2.1 0-0.5 2.1-0.6 12 3.1 4.1 0.5 4-0.3 4-1.8 4.1-3.5 4-4.9 6-8.8 8.1-13.2 18.1-34.5 5.4-11.9 2.7-7.3 1.1-4.7 0.7-6.1-1.7-18.1 0.2-6 1.1-6 2.9-8.1 6.4-12 7.9-12.1 12.3-16.1 23.4-28.4 6.7-9.8 3.4-7.5 2-6.9zM1104.5 1540.7l10.1 0.4 6 1.2 2 0.9 1.7 2-0.6 2-3.1 2.4-6 2.4-8.1 2-26.2 4.1-36.2 4.1-14.1 0.8-10.1-0.6-4-1.3-2-1.2-2.1-2.6-0.7-2-0.4-2 0.4-2.1 0.8-0.7 30.2-4.7 30.2-3.1z" fill="#50f34c"/><path d="M1056.2 1137.8l2 4.1 2.8 17.2 2.3 8.1 2.6 4 5.5 4 1 2-6.2 4.2-4.3 3.9-3.7 4.8-4 6.4-14.1 25.1-9.5 18-4.5 10-1.2 4-0.6 4.1 0.2 2 0.9 2 2.6 1.9 12.1 2.7 6 1.8 17.8 7.7 0.1 2-5.8 2.8-4 2.7-2.4 2.5-2.5 4-17.3 39.1-2.4 7.2-2.5 12.1-1.1 2.7-2.1 1.3-6-0.4-4 0.7-7 3.7-8 6-9.4 8.1-27.5 26.1-9.2 8.1-3.4 2.2-4 1.5-4 0.1-2-0.5-6.1-4-12.4-11.4-3.6-4 1.9-0.5 8.1 1.2 4 0 3-0.7 3.4-2 3.7-3.6 6-8 14.1-22.6 18.1-35.1 4.3-9.2 2.9-8 1.4-6 0.3-6.1-2-14-0.2-6.1 1-6 3-8.1 6.5-12 8.1-12.1 12-16.1 23.2-29 6-9 2.1-4.2 2.7-8zM1096.4 1541.8l14.1-0.3 8.1 0.9 2.4 0.8 2.4 2-0.6 2-3 2-3.2 1.4-8.1 2.2-22.1 3.7-38.3 4.4-18.1 1.3-10.1-0.6-4-1.2-1.6-1.1-1.6-2-0.6-2 0.1-2 1.7-1.5 10-2.3 22.2-3.2z" fill="#55f448"/><path d="M1056.2 1149.9l2 3.7 2.1 9.6 2.1 6 1.8 2.7 3.8 3.3 0.8 2-9.2 8.1-3.4 4.6-6.1 9.8-18.1 31.8-7.5 14.1-4.5 10.1-1.2 4-0.5 4 0.6 2 1 1.1 2 1 16.1 0.5 8.1 1.8 13.4 5.7 0.2 2-7.6 4.8-4 5.6-18.1 41-2.2 6.9-2.4 12.1-1.4 2-6.1-0.8-4 0.4-4.1 1.7-4 2.5-8.3 6.2-11.6 10.1-34.5 33-4 2.8-2 0.8-4 0.3-2-0.7-2.1-1-3.7-3.1-8.1-8-1.3-2 1.1-0.9 6-0.1 4-0.8 3.7-2.2 2.4-2.3 10.2-13.8 13.9-22.9 18.2-35.7 4-9.1 2-5.9 1-4.8 0.3-6.1-2.4-14-0.3-6.1 1.3-6 2.3-6 6.7-12.1 8.1-12.1 11.8-16.1 21.6-27.6 6-8.5 2.3-4.1 2.4-6zM1087.9 1543.2l14.6-0.9 10.1 0 6 0.8 3.8 2.1-0.8 2-3 1.9-4 1.4-8.1 2-24.2 3.7-36.2 4.1-16.1 1.1-10.1-0.5-4.5-1.6-1.9-2-0.4-2 0.8-1.7 2-1.1 12.1-2.8 26.2-3.4z" fill="#5bf544"/><path d="M1056.2 1159.3l2 2.6 1.7 5.3 1.9 4 3.4 4 0.7 2-8.4 8.1-7.4 11.1-28.3 49.2-8.1 16.1-1.9 6-0.1 2 1 2 3.2 1.3 4-0.2 14.1-2.3 6.1-0.1 4 0.7 7.3 2.7 4.2 2 0.3 2-5.8 4.3-2 2.6-2 3.8-18.1 41.5-1.8 6.1-2.3 11.2-2 0.8-4-1-4 0.3-4.1 1.6-5.1 3.2-10.5 8-10.5 9.2-33.5 33-4.8 3.3-2 0.5-4-0.7-2.1-1.3-4.1-3.8-3.5-4-0.7-2 6.3-1.5 4.1-2.1 4-4 6-8.1 10.1-15.2 8.1-13.8 19.9-39.7 4-10.1 1.6-8-0.4-8.1-2.4-10-0.4-4.1 0.9-6 2.4-6 5.4-10.1 10.8-16.1 37.6-50.2 3.2-6.1zM1099.5 1543.2l15.1 0 4 0.8 2.5 1.2-0.7 2-3.8 1.9-10.1 2.6-16.1 2.7-30.2 3.7-22.2 2.2-12 0.4-8.1-0.9-2-1-1.5-1.5-0.2-2 1.7-1.6 4-1.5 8.1-1.7 34.2-4.2z" fill="#61f640"/><path d="M1056.2 1165.8l2 1.7 1.8 3.7 2.9 4 0.6 2-6.4 6.1-5.9 8-37.5 64.4-5.6 10-2.4 6 0 2.1 0.8 2 1.3 1.3 2 0.9 5.3-0.2 16.9-4.9 8.1-0.9 4 0.5 6 2.3 2 1 0.6 2-4.6 4.1-4 7.3-16.2 36.8-2.1 6.1-2.7 12-1.2 1.6-6-0.8-4 0.9-4.1 2.1-6 4-10.6 8.3-11.2 10.1-31.7 32.1-2.7 2.1-2.2 0.7-2-0.1-2-0.7-4.6-4-1.5-2-0.5-2 6.6-3.2 4-3.8 6-7.8 10.1-15 12.1-20.7 16.1-32.4 4.3-9.6 2.4-8 0.7-6.1-0.6-6-2.6-10-0.5-4.1 1.1-6 2.6-6 5.7-10.1 9.6-14.1 36.1-48.2 3.6-6zM1081.7 1545.2l26.8-1.6 6.1 0.3 4.9 1.3-0.9 2.2-4.4 1.8-5.7 1.4-18.1 3-22.2 2.8-22.1 2.4-18.1 1.3-8.1-0.5-2-0.6-2.5-1.7 0.1-2 2.4-1.5 8.1-2.1 22.1-3.1z" fill="#66f73c"/><path d="M1056.2 1170.4l2 1.1 2.7 3.7 0.4 2-6.8 6.1-3.4 4-17.1 30-30.4 50.4-1.9 4 0 4.1 0.9 2 1.3 2 1.9 1.4 2 0.8 2 0.1 4.1-0.7 16.1-5.9 8-2 4.1 0 4 1 2.8 1.3 0.9 2-3.6 4-2.1 3.9-16.1 36.7-3.5 9.7-2.6 10.6-2 0.7-4-0.5-4 0.9-4.1 2-6.6 4.4-10.2 8-11.4 10.1-33.1 34.1-3.1 1.8-2 0-2-1-2.9-2.8-0.9-2 1.7-1.9 4.1-2.6 4-4.3 8.1-11.2 10-15.3 12.1-21.6 18.1-37.6 2-6.3 1-7.8-0.5-6-2.9-10-0.5-4.1 0.7-4 2.4-6 7-12.1 11-16 18.1-24.3 17.3-22 2.1-4 2.8-7.8zM1102.5 1544.4l10.1 0.1 4.5 0.7 0 2-6.6 2.3-12 2.3-50.4 6.2-22.1 1.4-6.1-0.5-3.3-1.6 0.5-2 0.8-0.5 4.2-1.5 5.9-1.3 26.2-3.4z" fill="#6cf838"/><path d="M1056.2 1174.1l2 0.5 0.8 2.6-2.8 1.9-1.3-1.9zM1035.7 1207.4l0.3-0.5 0.3 0.5-0.3 1.3zM1034 1208.8l1.6 0.6-5.6 11-16.1 27.3-8.1 12.6-6.8 9.4-0.7 2 0 4.1 0.5 2 1.4 2 3.6 3.9 4 1.4 6.1-1 16.1-6.8 8-2.4 4.1-0.2 2 0.4 1.7 0.7 1.3 2-3.7 6-17.4 40.2-2.1 5.5-2.9 10.6-1.1 1.1-6 0.1-4.1 1.4-6 3.7-7.9 5.8-10.2 8.5-10.1 9.4-30.2 31.6-2 1.3-2 0-1.3-0.6-1.8-2 0.1-2 5-4 4.9-6 9.7-14.1 9.6-15 10-18.5 16.9-34.9 2.7-8 0.9-6-0.1-6.1-1-8-1.3-2.1-1-6 1-5.4 2-4.6 5.9-10.1 8.3-12.1 12-16.4zM1099.8 1545.2l12.8 0 2.2 2-6.2 2-12.2 2.2-48.3 5.9-20.1 1.4-6.1-0.3-3.9-1.1 0.9-2 1-0.5 5.4-1.5 6.7-1.2 30.2-3.6z" fill="#71f934"/><path d="M1017.2 1235.6l0.7-1.5 0 1.8zM1015.9 1236.2l0.8 1.4-0.8 2.2-6.1 10.3-6 8.8-2 2.4-2 1.1 0-1.3 4-8 8.1-11.8zM1033.1 1277.8l7-1.8 2 0.1 2.5 1.7-9.2 22.1-10.7 24.1-4.8 14.8-6 0.7-4.1 1.4-6 3.6-10.1 7.5-9.7 8.2-8.6 8.1-27.7 28.1-3.4 4-0.9 0.8-2-0.1-0.7-0.7 0.7-1.2 5.1-4.8 15.9-24.1 7.4-12.1 7.8-14.3 18.3-38 2.6-8 1.3-11.3 0.7-0.8 1.3-0.3 4 1.9 2 0.3 4.1-0.6 4-1.4zM1081.9 1547.2l22.6-1.2 4 0.2 3.1 1-6.6 2-11.9 2-32.9 4.1-28.2 2.6-6 0.1-5.7-0.7 0.9-2 8.8-2.2 18.1-2.4z" fill="#76fa31"/><path d="M1037.9 1277.8l2.7 0 1 2-1.1 4-5.5 14.1-11.1 25-4.2 13.2-1.8 1.3-4 0.4-4.1 1.4-10.7 6.9-14.9 12.1-20.7 19.4-4 3.2-0.5-0.5 0.5-2 16.3-28.1 19.7-40.2 3.2-8.1 3.1-12.9 6 0.9 4.1-0.7 4-1.5 16.1-7.9zM1090.8 1547.2l9.7-0.3 5.9 0.3-3.9 0.9-2 1.1-12.5 2-33.8 4.1-26.2 2-2.1 0-1.6-2 9.4-2 15.5-2.1z" fill="#7bf92e"/><path d="M1036.5 1279.8l1.8 0 1 2-0.8 4-5.6 14.1-9 20.2-4.8 14-1.2 1.5-6 1.1-8.1 4.5-12.1 9-20.1 17.1-2 1.4-1.1-0.4 1.1-3.4 10-19.3 16.3-33.6 3.9-9.6 2-8.7 1.3-1.8 0.7-0.4 6 0.2 4.1-1.3 18.1-9.1zM1076.7 1549.2l11.7-0.4 5.3 0.4-9.3 1.1-2.8 0.9-34.4 4.1-11.2 0.5-6.7-0.5 6.7-1 3.6-1z" fill="#80f92b"/><path d="M1034 1282.2l2-0.3 1.2 1.9-0.2 2-2.7 8.1-11.4 26.1-5 13.6-6 1.6-6.1 3.1-11 7.8-15.2 12.2-4 2.5-0.7-0.6 0.7-3.1 22.2-46.4 2.6-6.8 2.3-8 1.1-2 6-0.4 4.1-1.3z" fill="#85f928"/><path d="M1029.3 1285.8l4.7-1.4 1.1 1.4-0.6 4-3.9 10.1-8.7 19.9-4 11.5-2 1.5-4 0.9-6.1 3.1-22.1 16.1-2.1 1.4-2 0.2 0.2-2.3 1.6-4 18.4-39.5 4-12.2 2-1.1 4-0.3 4.1-1.2z" fill="#8af825"/><path d="M1028.6 1287.8l3.4-0.8 0.9 0.8-0.4 4.1-15.4 38.2-1.2 1.1-4 1.1-4.1 1.8-20.1 14-2 1.1-2 0.2-0.3-1.2 2.1-6.1 14.3-30.8 4-11.7 1.2-1.7 0.8-0.7 4-0.5 4.1-1.2z" fill="#8ef823"/><path d="M1028.2 1289.8l2.2 0 0.4 2.1-0.9 4-9.2 22.1-2.8 8-2 3.6-8.1 3.1-16.1 10.8-4 1.8-0.8-1.2 1-4 11.9-26.3 5.3-13.9 0.7-0.9 8.1-2z" fill="#93f820"/><path d="M1026 1292.6l2-0.2 0.7 1.5-0.2 2-2.1 6-10.5 26-8.1 3.4-14.1 9.1-2 0.9-1.9-1.2 1.9-6 9.9-22.1 4.2-11 2-1 6.1-1.5z" fill="#98f71d"/><path d="M1023.9 1295.3l2.1-0.1 0.4 0.7 0 2-1.9 6-8.6 22.1-2 1.6-6.1 2.3-10 6.3-4.1 1.9-0.8-2 1-4 7.9-18.1 4-10.8 2-1.7 6.1-1.6z" fill="#9df71a"/><path d="M1021.8 1297.9l2.2 0 0.4 2-0.4 2-8.2 22.1-1.9 2.2-6.1 2.4-10 5.7-2.1 0.1-0.2-2.3 1.4-4.1 8.9-22.4 1.1-1.7 0.9-0.9 6.1-1.7z" fill="#a2f618"/><path d="M1019.9 1300.4l2 0.4 0.4 1.1-0.9 4-5.7 16.1-1.8 2.8-14.1 6.4-1.8-1.1 0.4-2.1 8.4-22.1 1-1.4z" fill="#a7f615"/><path d="M1017.9 1302.9l2 0.4 0.3 0.6-0.6 4-4.9 14.1-0.8 1.3-2 1.1-8.1 3.3-2 0.6-0.7-0.3-0.5-2 0.5-2 6.7-17.8 2-1.1z" fill="#acf513"/><path d="M1015.9 1305.1l2 0.4 0.3 0.4-0.3 4.1-3.2 10-0.8 1.7-2 1.4-8.1 2.4-0.9-1.5 0.2-2 4.7-13.9 2-1.6z" fill="#b1f511"/><path d="M1009.7 1307.9l4.2-0.8 2 0.3 0.5 0.5 0.2 2.1-0.8 4-1.9 5.8-2 2-4.1 1.1-2 0.1-0.8-1 0.4-4 2.4-7.7z" fill="#b7f40f"/><path d="M1009.8 1309.4l2.1-0.6 2 0.2 0.9 1 0.3 2-1.2 5.4-1.7 2.6-2.4 0.9-2 0-0.9-0.9-0.2-2 1.1-5z" fill="#bcf30e"/><path d="M1009.8 1311.2l2.1-0.7 1.8 1.5 0 2-1.3 4-0.5 0.7-2.1 0.5-1.5-1.2-0.1-2z" fill="#c2f20c"/><path d="M1009.8 1314l2.1-1 0.3 1-0.3 2.3-2.1 0z" fill="#c7f10a"/><path d="M982.5 1094.8l21.8 0-6.3 16.1-6.3 12-6 8.1-4.1 2.9-2 0.2-2-1.5-0.6-1.6-0.7-4 0.2-6.1 2-12zM1196.8 1145.1l6.4-0.8 8 0.5 6.1 1.4 8 3.6 6.1 4 6 5.4 6.1 6.7 6.6 9.3 6.9 12.1 5.6 12.1 6.3 16 5.8 18.1 3.6 14.1 2.8 14.1 8 54.3 2.7 10.8 3.7 9.3 4.9 8 7.5 8.2 7.3 5.9 22 16.1 13 11.2 0 214-132.7 0-0.8-10.1-1.9-8-3.5-8-10.1-19.3-5.5-14.9-3.6-16.1-0.8-8.1 0-6 1-4 0.8-1.2 2-0.5 4.1 1.2 14.1 5.8 6 1.2 4 0 6.1-1.6 3.8-2.9 1.7-2 2.1-4 0.9-4 0.4-4.1-0.5-6-1.1-6-2.4-8.1-6-14.1-3.6-6-3.1-4-6.4-6-4-2.4-4-1.4-4-0.2-2 0.6-2.1 1.4-1.9 2-3.2 6-2.3 8-4.6 25.7-2 3.4-2.1 0.5-2-0.6-8-4.8-12.1-9.8-10.1-9.9-8-9.7-6.1-8.6-7-12.3-5.1-10.8-5-13.3-4.2-14.1-3.7-16.1-2.2-14.1-1.5-16.1-0.4-16 0.7-14.1 1.8-14.1 2.8-12.1 3.9-10 31-60.3 5.1-12.1 0.8-4-0.6-4-4.5-4.1-1.4-2-1-4 0.1-8 0.9-4.1 0.9-2 0.7-1.1 4-3.5 16.1-11.9 8.1-5.4 10.1-5.2zM844.7 1469.2l6 0.3 6.1 1 10.1 3 10 4.8 8.1 5.2 8 6.4 8.1 8 8 9.7 6.5 9.5 7 12 5.6 12.1 3.9 10 3.7 12.1 2.8 12.1 1.8 12 0.9 12.1-96.6 0z" fill="#0ee46e"/><path d="M986.9 1094.8l13.1 0-4.2 12.1-4.1 8.2-4 5.6-2 1.7-2 0.6-1.7-2.1-0.4-1.1 0-5.6 2.1-10zM1190.1 1161.2l9.1-0.7 4 0.3 6 1.3 6.1 2.3 4 2.2 8 6 8.1 8.6 7.1 10.1 7.5 14.1 6.8 16.1 5.3 16.1 3 12 2.1 12.1 1.6 16.1 0.5 14.1-0.3 18.1-2.9 66.3 0.3 12.1 1.5 10 1.7 5.1 1.6 3 4.5 5.2 6 4.4 14.1 8.1 6.5 4.4 7.6 6.5 6.1 6.8 6 9.6 4.4 11.3 2 10 1.5 20.1 1 4.1 1 2 2.2 2.5 4 2.5 4 1.4 8.1 1.6 0 92.5-110.1 0 2.5-8 4.1-10.1 14.4-30.2 1.9-6 0.6-4-0.8-6-6-12.1-2-6-0.6-6.1-0.4-20.1-1.7-14.1-3.6-16-2-6.1-3-6-4.9-6-3.2-2.4-4-2.1-10.1-3.2-6-1.1-6.1-0.4-6 0.6-6.1 2.4-3.3 2.1-8.7 7.4-6.1 3.5-4 1-4 0-4.1-0.6-4-1.3-6-3-6.1-4.2-6-5.6-4.1-4.5-6-8.3-4-6.9-4-8.3-3.8-9.4-4.3-13.6-3.4-14.5-2.2-14.1-1.2-14.1-0.3-14.1 0.7-14 1.5-12.1 2.6-12.1 2-6 3.4-8 13-27.3 15.1-29 4.2-10.1 1-4 0.3-4-0.5-2.3-4-5.8-1.8-4-1.1-8 0.9-4.8 2-1.8 2-0.9 24.2-9 8.1-2.6zM844.7 1480.9l8.1-0.4 8 1.1 8.1 2.5 8 3.7 8.1 5.2 6 4.9 7.1 7.1 7 8.5 5.2 7.6 5.6 10 4.7 10.1 4.3 12.1 3.1 12 2.1 12.1 0.9 10 0.1 12.1-86.4 0z" fill="#0be271"/><path d="M1185.1 1171.7l8-0.4 8.1 0.9 6 1.8 8.1 4 6 4.5 6 5.9 5.6 6.9 5.3 8.1 6.4 12 6.1 14.1 4.1 12.1 2.6 10 1.7 10.1 1.2 12.1 0.3 14-0.7 16.1-1.5 18.1-2.1 16.1-3.1 18.1-2.8 12.1-3.5 12-4 10.1-4 8-3.9 6.1-4.9 6-4.8 4.5-6 4.4-8.1 4-26.1 10.5-6.1 1.7-6 0.7-6.1-0.6-6-1.7-6.1-2.9-4-2.7-6-5.3-4.1-4.5-4.4-6.1-4.7-8-3.7-8.1-3.3-8.5-2.9-9.6-2.5-10-3.1-20.1-0.8-10.1-0.2-12.1 0.6-12 1.1-10.1 1.9-10 2.8-10.1 4.9-12.1 8.3-18.4 17.3-33.8 2.6-6.1 1.8-6 0.5-4-0.4-4-5-10.1-1.8-6-0.3-4 1.4-2.6 2-0.6 10.8-0.9zM844.7 1490.9l6-0.9 8.1 0.3 8.1 1.8 8 3.3 8.1 5 6 4.8 6 6 6.4 7.9 5.3 8 5.3 10.1 4.1 10 3.1 10.1 2.3 10 1.4 10.1 0.7 12-0.4 10.1-78.5 0zM1339.5 1525.1l10.7-1.9 0 76.3-98.1 0 5-12.1 7.3-12 9.8-12.1 11.6-11.3 12-9.2 12.1-7.1 14.1-6.1z" fill="#09e174"/><path d="M1151.2 1179.3l1.6-1.1 2-0.1 12.1 1.2 18.2-0.1 10 0.8 6.1 1.5 6 2.5 5.7 3.3 4.4 3.3 6 5.8 6.1 7.4 6 9.3 5.6 10.4 5.3 12.1 3.6 10 2.5 10.1 1.5 10 0.7 12.1-0.3 16.1-1.5 18.1-2.2 16-2.5 14.1-3.6 16.1-4.4 14.1-4.1 10-4.3 8.1-5.6 8-6.8 7.5-6 5-8.1 5.2-10.1 4.9-10 3.6-8.1 1.6-6 0.1-4.1-0.5-6-1.6-4-1.8-8.1-5.4-4-3.9-4.1-4.9-7.1-11.8-3.6-8-3-8.1-4.4-16.1-3-18.1-1-16 0.3-14.1 1.6-14.1 3-14.1 3.3-10 5.9-14.4 8-17.2 12.9-24.7 2.6-6.1 1.9-6 0.6-6-0.5-4-6.2-14.1-1-4zM854.8 1498.3l6 0.5 6.1 1.4 8 3.3 6.1 3.7 7.1 5.8 5.7 6.1 5.3 7 5.4 9.1 3.8 8 3 8 2.9 10.1 1.8 10 0.9 8.1 0.2 10-0.6 10.1-71.8 0 0-99.8zM1341.5 1533.1l8.7-1.7 0 68.1-89.3 0 4.1-10.1 3.5-6 4.2-6 8.7-10.1 10.4-9.4 10.1-7.4 14.1-8.1 14.1-5.9z" fill="#06df77"/><path d="M1153 1181.3l1.8-1 2.1 0.3 12 2.7 18.2 2.2 8 1.7 10.1 4 6 3.7 4.1 3.2 6 6.1 5.8 7.2 5.3 8.1 5.7 10 4.7 10.1 3.6 10 2 8.1 1.2 8 0.6 10.1-0.4 14-1.3 16.1-2.5 18.1-3.4 18.1-3.5 14.1-4.5 14.1-3.4 8-4.3 8.1-4.2 6-5.4 6.1-8.1 6.9-8 5.2-8.1 4-8 2.9-8.1 1.5-6 0.1-4.1-0.5-8-2.5-4.1-2.3-4-3-4-4-3.5-4.4-7-12-6.6-16.1-4.4-16.1-2.5-16.1-0.8-16.1 0.5-14 1.9-14.1 2.8-12.1 3.3-10 5.7-14.1 6.6-14.1 13.6-26.1 2.5-6.1 1.5-6 0.3-6-0.6-4-1.5-4.1-4.8-10zM848.3 1507l6.5-0.9 6 0.3 6.1 1.4 6 2.4 6 3.5 6.1 4.8 6 6.4 4.7 6.2 4.7 8.1 3.7 8 2.8 8.1 2.1 8 1.4 8 0.9 10.1 0 8-0.8 10.1-65.8 0 0-91.5zM1342.2 1539.2l8-1.5 0 61.8-81.9 0 3-8 6-10.1 8.5-10.1 10-9.1 10.1-7.3 12.1-6.9 12.1-5.2z" fill="#03de7a"/><path d="M1156 1183.3l0.9-0.4 2 0.4 12.1 3.8 16.1 3.7 8 2.4 10.1 4.9 8.1 6 6 6.1 6 7.5 6.1 9 5 8.9 6.3 14 2.2 8.1 1.3 8 0.4 10.1-0.3 12-1.5 16.1-2.3 16.1-2.5 14.1-3.7 16.1-4.2 14-3.9 10.1-4 8-4.1 6.1-4.8 5.6-6.1 5.3-8 5.5-8.1 4.2-8 3-8.1 1.6-6 0.2-4.1-0.4-4-1.1-4-1.8-6.1-4.3-6.3-7.8-7.8-13.8-6-14.7-4.3-15.7-2.4-16.1-0.7-14.1 0.6-14 2-14.1 2.9-12.1 3.4-10 4.8-12.1 5.8-12.2 13.8-26 2.5-6 1.6-6.1 0.3-6-0.5-4-2.1-6.1-3.9-8-0.7-2zM852.8 1513.8l6-0.2 6 0.9 6.1 2.1 6 3.4 6.1 4.8 4.1 4.3 4.6 6.1 3.7 6 3.8 8 2.8 8.1 2.1 8 1.2 8.1 0.7 8-0.2 10.1-0.9 8-60.2 0 0-83.4zM1350.2 1543l0 56.5-75.3 0 2.8-8 6.1-10.1 8-9.1 10.1-8.7 10-6.8 12.1-6.3 12.1-4.5z" fill="#02dc7e"/><path d="M1158.7 1187.3l0.2-0.5 2-0.5 2 0.6 30.2 10.6 10.1 5.2 10.1 8 6 6.4 6 7.8 6.1 9 4.4 7.7 5.2 12 1.6 6.1 0.9 8 0.2 10.1-0.8 14.1-1.9 16-2.5 16.1-6.3 28.2-3.7 12-4.8 12.1-3.3 6-4.5 6.1-4.7 4.6-6 4.8-6 3.7-8.1 4-8.1 2.9-8 1.5-8.1-0.4-6-2-4-2.7-2.1-1.9-4.5-6.5-9.6-18.4-5.5-13.8-4.2-16-2.1-16.1-0.3-14.1 0.9-12.1 1.9-12 3.1-12.1 4.2-12.1 4.2-10 5.9-12 12.3-22.2 2.7-6 1.1-4.1 0.8-6-0.7-6-1.9-6.1zM854.2 1521.1l4.6-0.2 4 0.4 6 1.8 4.1 2 5.8 4 4.2 4 4.1 5 3.3 5.1 3.2 6 2.5 6.1 1.9 6 1.7 8 1 8.1 0.2 8-1.4 14.1-54.7 0 0-75.5 4-1.7zM1341.7 1549.2l8.5-1.3 0 51.6-69 0 2.5-8 4.7-8.1 6.7-8 6.8-6.3 10-7.3 10.1-5.6 10.1-4.2z" fill="#02d981"/><path d="M1162.4 1191.3l0.5-1.4 2 0.2 28.2 11.7 10.1 6 9.2 7.6 5.6 6.1 6.5 8 5.6 8.1 4.8 8 2.9 6 2.1 6.1 1.4 10 0 10.1-0.8 12-1.9 16.1-2.6 16.1-3.3 16.1-4 16.1-4.5 14.1-3.4 8-3.5 6-4 5.2-4.1 3.7-6 4.4-8.1 4.6-8 3.6-6.1 1.9-8 1.3-6.1-0.3-4-1.2-2-1.1-4.3-4-2.4-4-5.1-12.1-7.8-16-3.8-10.1-3.6-14.1-1.9-16.1-0.1-12 1-12.1 2-12 3.3-12.1 3.6-10.1 5-11.4 6-11.6 11.2-19.2 2.7-6 1.3-4 0.6-6.1-0.8-6zM851.6 1529.1l5.2-0.8 4 0.1 6.1 1.4 4 1.8 4 2.6 4 3.5 4.1 4.6 3.3 4.9 3.2 6.1 2.3 6 3 12 0.7 6.1 0.1 8-0.6 7.6-1.1 6.5-49.2 0 0-67.4zM1344.8 1553.3l5.4-0.5 0 45.9-1.1 0.8-61.5 0 1.2-6 4-8.1 6.4-8 6.7-6.3 8-5.8 10.1-5.6 10.1-4z" fill="#01d685"/><path d="M1166.9 1193.3l4.1 1.4 8 3.8 16.1 8.2 10.1 7 8.4 7.8 11.7 13.9 5.8 8.2 3.5 6 2 4 1.9 6.1 1 10-0.4 12.1-1.2 12.1-1.9 14-3.6 20.1-6.1 26.2-3.7 12.1-4 10-3.6 6-3.5 4.1-4.3 3.7-6 4-6.1 3.4-10 4.3-8.1 2.3-6 0.7-4.1-0.3-4-1.2-3.6-2.9-1.4-2-1.5-4-3-12.1-9-18.1-4.6-12-3.2-14.1-1.5-16.1 0.4-12 1.4-12.1 2.1-10.1 3.7-12 4-10.1 4.1-8.6 6.1-10.9 10.4-16.7 3.7-8.5 0.8-5.6-0.3-4-1.4-6-3.9-10.1zM851.4 1537.2l5.4-1.2 4 0 4 0.9 4.1 1.6 4 2.6 4 3.6 6.1 8.2 4.4 10.4 1.6 6 0.9 6.1 0.3 12-0.7 6.1-1.4 6-43.4 0 0-58.6zM1337.4 1559.3l6.8-1.2 6-0.2 0 35.9-7.8 5.7-48 0 0.5-6 2.5-6.1 4.2-6 5.8-6 6.5-5.2 8.1-5 8.1-3.6z" fill="#01d389"/><path d="M1170.1 1197.3l0.9-0.2 6 2.6 18.1 10.3 10 7.5 8.5 8 11.7 13.7 8.5 12.4 2 4.1 1.2 4 1 10-0.5 10.1-1.5 14.1-2 14-3.6 20.1-4.1 18.1-3.7 14.1-2.6 8.1-3.3 8-3.7 6-3.8 4-4 3.1-6 3.7-8.1 4-10.1 4-6 1.4-6.1 0.6-4-0.7-2-0.8-3.1-3.2-0.8-2-0.5-4-0.1-8.1-1.2-6-10.4-19.7-2.7-6.4-2.4-8.1-2.4-12-0.9-14.1 0.5-10.1 1.6-12 2.3-10.1 4-12 4-9.5 4-7.8 6.1-9.9 10.2-15.1 2.2-4 1.4-4 0.6-4-0.5-6.1-1.7-6-3.2-8zM853.4 1545.2l3.4-0.8 4 0 6.1 1.8 4 2.6 2.7 2.4 3.3 4.1 2.4 4 1.8 4 1.9 6 1.5 10.1-0.4 10-2.4 10.1-37 0 0-48.6 4-3.4zM1332.9 1565.3l9.2-1.9 4.1 0 4 0.7 0 23.8-6.2 5.6-9.7 6-31.7 0-1-4 0.5-4 1.6-4.1 4.2-6 6-5.8 6-4.3 6.1-3.3z" fill="#01d08c"/><path d="M1173.5 1201.4l1.5-0.3 4 1.8 16.1 9.9 10.1 8 10.1 9.9 11.1 12.9 7 10.1 1.8 4 1 4 0.5 8-0.6 10.1-1.9 16.1-6 34.2-3.6 16-4.2 16.1-3.4 10.1-2.8 6-3 4.2-4 3.7-12.1 7.1-14.1 6-6 1.7-6.1 0.7-4-0.6-2-1-1.6-1.7-0.8-2-0.1-4 2.2-10.1-0.2-6-2.8-6-8.8-14.1-4.3-10.1-2.3-8-1.4-8-0.8-8.1-0.1-8 0.9-11.6 1.8-10.5 2.8-10.1 3.7-10.1 3.7-7.8 4.1-7.2 6-9 10.8-14.2 3-6 0.7-4-0.5-6-1.9-6.1-3.3-8zM854.1 1555.3l4.7-1.1 4 0.5 2 0.8 2.8 1.8 3.3 3.1 4 6.7 2.4 8.3 0.5 8-1.2 8.1-1.3 4-1.9 4-27.4 0-1.3-2.3 0-32.2 4-5.9 2-1.9zM1331.6 1571.3l6.5-1.3 4 0.1 3.9 1.2 2.1 2.1 0.7 2-0.4 4-3.4 6-4.1 4-4.8 3.5-4.8 2.6-5.3 1.9-4 0.8-4 0.1-3.8-0.8-2.3-1.6-1.4-2.4-0.2-2 1.1-4.1 2.4-4 3.8-4 4.4-3.3 4.7-2.7z" fill="#00cd90"/><path d="M1177.6 1205.4l1.4-0.2 6.1 3.2 14.1 10 10.1 9.1 14 15 8.1 10.2 2.8 5 1.2 6 0 8-0.8 10.1-2.1 16.1-5.8 32.2-6.6 28.1-3.6 12.1-2.5 6-2.8 4.5-4 4-12.1 6.9-8 3.7-10.1 3.7-6 1.2-4.1 0.1-2-0.4-2.3-1.6-1-2 0-2 1.3-4.3 5.3-11.8 0.3-4-0.3-2-2-4-7.3-9.3-4.1-6-5-10.9-2.3-8-1.4-8.1-0.6-8 0.1-8 1-10.1 2-10.1 3.1-10 4.3-10.1 4.4-8 4.5-6.8 6.1-7.4 9.2-9.9 2.7-4.1 0.8-2 0.6-4-0.4-4-1.9-6-4.3-10.1zM858.6 1569.3l2.2 0.1 2 1 2 2 1.7 3 1 4 0 4-1 4-2.7 4.1-3 1.7-2 0-2-0.7-2-1.6-2.1-3.5-1-4-0.1-4 1.2-4.7 2.1-3.4 1.9-1.3z" fill="#00ca93"/><path d="M1182.1 1211.4l0.9-1.6 2.1 0.9 6 3.8 8.1 6.2 12 11.2 14.1 15 6.1 7.5 2.5 5.3 0.8 6-0.3 8.1-3.8 28.1-6 32.2-7.9 32.2-2.8 8-2 4-2.7 3.5-2 1.9-14.1 7.6-16.1 6.6-6 1.4-4.1 0.2-2.8-1.1-1.4-2 0.2-2.4 2-4.3 9.7-13.4 1.5-4 0.1-2-1.2-3.7-1.7-2.4-8.4-7.9-5.2-6.1-2.8-4.4-2.8-5.7-2.6-8-1.6-8.1-0.6-8 0.3-10.1 1.4-10 2.6-10.1 3.3-8.8 4.7-9.3 5.3-7.9 4.1-4.7 6-5.6 10.4-7.9 1.8-2 1.1-2 0.5-4.1-0.8-4-2.3-6z" fill="#00c797"/><path d="M1187 1215.4l2.1 0.1 2 1.3 6 4.4 6.1 5.2 18.1 18.1 10 11.2 1.8 4 0.7 4-0.1 6-0.9 10.1-4.2 28.1-6 30.2-6.3 26.1-4.2 12.1-2.5 4-2.4 2.3-8 4.5-10.1 4.8-10.1 4.2-6 1.8-6.1 0.6-2-0.6-1.2-1.5 0.2-2 0.9-2 4.1-5.3 12.9-12.8 2.1-4 0.4-4-1.2-4.1-2.1-2.9-14.1-10.8-4-4.4-4-6.4-3-7.6-1.8-8.1-0.7-8 0.4-10.1 2.2-12 3.4-10.1 5.5-10.8 6.1-7.9 6-5.4 6-3.5 6.1-2 12.1-2.2 0.8-0.4 1.6-2-0.1-2-1.7-4-12.7-21.5z" fill="#00c499"/><path d="M1194.7 1223.5l0.4-0.6 2 0.8 8.1 6.8 20.9 21.1 3.3 2.8 2.3 3.3 1.2 4 0.2 6-0.6 8.1-2.2 16.1-5.7 32.1-6.1 28.2-4.2 16.1-2 6-2 4-3.1 3.5-2 1.4-18.1 8.5-14.1 5.3-6.1 0.6-2.1-1.2 0.1-2 1.2-2 4.9-5.1 11.2-9 4.3-4 2.3-4 0.8-6.1-0.5-4.4-1.1-3.6-2.9-5-3.6-3-8.5-5.1-4.1-3.1-4-4.7-3.7-7.3-2.3-8.6-0.8-9.4 0.9-10.1 2.4-10.1 3.3-8 3.5-6 4.8-5.9 4-3.4 4-2.3 6.1-1.8 14.1 0.4 4-1.1 4-2.7 2-2 2.5-3.4 0.7-2-0.1-2-1-2.3-14.1-16.8z" fill="#00c19b"/><path d="M1219.9 1249.6l1.4-0.4 8.1 6.1 1.7 2.4 1.3 4 0.1 6-2.1 18.1-5.9 34.2-6.4 30.2-5.7 22.1-2.9 6-2.3 2.8-2 1.3-20.1 9.2-8.1 3.2-6 1.8-4.1 0.1-0.4-0.3-0.4-2 2.8-3.7 6.1-4.9 10.6-7.5 4.3-4 2-4 0.9-8.1-0.3-6-0.9-6-2.5-7.1-2-2.7-2-1.8-8.1-4.4-4-2.8-4.1-4.6-2.5-4.8-1.7-6-0.7-8.1 0.7-8 2.1-8 2.1-4.9 3.3-5.2 2.8-3.2 4-3.2 4-1.7 4.1-0.7 12.1 0.5 4-1.4 2-1.5 4-4.3 9.1-12.7z" fill="#00be9d"/><path d="M1223.3 1253.4l4 1.1 3.3 3.2 1.2 4 0 8-3.4 24.2-5.8 32.1-6.6 30.2-5 18.1-2.1 4-3.7 3.6-26.2 11.3-6 2-4.1 0.4-1.4-1.2 1.3-2 2.2-2.1 17.5-12 2.6-2.2 2.3-3.8 1.6-10.1 0-14-1.9-14.5-2-5.4-2-2.9-2-1.7-8.1-4.5-2-1.9-2-2.9-1.5-4.4-0.5-4.1 0.4-4 1.6-5.6 2-3.5 2-2.2 4-2.4 4.1-0.6 8 0.3 4.1-1.6 2-1.7 6-8 9.3-16.9 3.1-4 1.7-1.7z" fill="#00bba0"/><path d="M1221.8 1255.7l1.5-0.9 2-0.2 2 0.6 2.8 2.5 0.9 2 0.5 4-0.4 8-3 20.2-5.8 32.1-7.8 36.2-4 14.1-2.1 4-3.2 3-8 3-18.3 8.1-6.4 2-2.6 0 0.4-2 2.7-2.4 18.1-11.9 2-1.9 2-3.8 1.2-8.2 0.8-11.4 0.9-36.8 1.5-10.1 3.2-10 11.4-28.2 4.1-8z" fill="#00b8a2"/><path d="M1227.3 1255.8l2.1 1.5 1.2 2.4 0.5 4-0.5 8-4.1 26.2-6 32.2-6.1 28.1-4.4 16.1-2.1 4-2.7 2.5-8.1 2.8-16.1 7-5.1 1.8-2.9 0.2-0.4-0.2 1.8-2 2.7-2 15.8-10.1 1.9-2 1-2 1.3-6.4 4.6-49.9 2.5-14.1 5.8-20.1 6.5-18.1 1.8-4 2.8-4 2.2-1.8z" fill="#00b3a5"/><path d="M1223.2 1257.7l2.1-1.2 2 0.1 1.4 1.1 1.2 2 0.4 2-0.1 6-1.9 14.1-5.7 32.2-10.6 50.2-2.1 8.1-1.6 4-1.3 2-1.8 1.7-2 0.7-10.1 2.2-1.3-0.6 1.3-0.7 3.1-3.3 0.9-1.4 0.8-2.6 6.2-48.3 2.4-14 3.4-16.1 4.2-16.1 4.4-14.1 1.7-4z" fill="#00acab"/><path d="M1223.3 1259.7l2-1.8 2-0.2 1.6 2 0.4 2-0.4 8-2.5 16.1-7.8 42.2-8.2 38.3-2.2 8-1 2-2 2.6-2 0.6-3-1.2-0.3-4 6.4-44.2 4-22.2 5.8-26.1 4.3-16.1 1.6-4z" fill="#00a3b2"/><path d="M1224.7 1259.7l0.6-0.6 2-0.3 0.7 0.9 0.6 4-0.5 6-3.7 22.2-8 42.2-7.9 36.2-2.1 6-1.2 1.5-2 0.7-1.7-2.2 0.1-6 6.8-42.3 3.7-20.1 6.1-28.1 3.6-14.1z" fill="#009aba"/><path d="M1225.3 1260.5l2-0.3 0.5 1.5 0 4-5.7 34.2-7.8 40.2-6.1 28.2-2.7 8-0.3 0.4-2 0.3-0.6-0.7-0.3-2 0.3-4 7.4-44.3 10.3-50.2 2-8.1z" fill="#0091c2"/><path d="M1225.3 1262.2l1.4 1.5 0.1 2-0.9 8.1-2 12-12.1 62.4-4.3 20.1-2.3 6.9-1.6-0.9 0.1-4 4.5-28.2 10-52.3 4.6-20.1z" fill="#0085cc"/><path d="M1225.3 1265l0.4 2.7-0.4 5.1-0.8 3-1 8-4 22.1-10.3 51.1-1 3.2-1 5.9-1.2 2.2-0.8 4.4-0.4-2.4 0.4-5.3 7.6-43 8.5-42 2-8.7 1-1.6z" fill="#0078d8"/><path d="M1221.3 1285l0 6.2-0.3-1.4zM1219.3 1294.1l0.4 1.8-0.4 6.6-0.5-0.6-0.1-2zM1217.3 1303.9l0.6 2-0.6 7.3-0.8-1.2zM1215.3 1314l0.6 2-0.6 7.5-0.8-1.5zM1213.3 1324.5l0.5 1.5-0.5 7.5-0.6-1.4zM1211.2 1335.5l0.5 2.6-0.5 5.1-0.4-3.1z" fill="#006be2"/></g></g>
<path d="M1056.5 1177.1L1098 1177.1L1098.5 1174.7L1146.8 1174.7L1224.5 1250.9L1224.5 1259.2L1224.8 1264L1223 1266.7L1223.3 1271.5L1221.6 1274.1L1221.8 1279L1220.1 1281.6L1220.4 1286.4L1218.6 1289L1218.9 1293.9L1217.2 1296.5L1217.4 1301.3L1215.7 1303.9L1215.9 1308.8L1214.2 1311.4L1214.5 1316.2L1212.8 1318.8L1213 1323.7L1211.3 1326.3L1211.5 1331.2L1209.8 1333.8L1210.1 1338.6L1208.3 1341.2L1208.6 1346.1L1206.9 1348.7L1207.1 1353.5L1205.4 1356.1L1205.7 1361L1203.9 1363.6L1204.2 1368.4L1202.5 1371L1202.7 1375.9L1201 1378.5L1163.2 1397.5L1025.6 1353.3L994.2 1270ZM1041.2 1276.8L1089.5 1276.8L1182.5 1405.2L1181.3 1412.5L1059.4 1483.7L945.9 1423.4L940.6 1404Z" stroke="#fff" stroke-width="2.7" fill="none" stroke-linejoin="round"/>
<path d="M909.4 1597.5v-13M909.4 1096.8v13M846.7 1159.4h13M1348.2 1159.4h-13M972.1 1597.5v-13M972.1 1096.8v13M846.7 1222h13M1348.2 1222h-13M1034.8 1597.5v-13M1034.8 1096.8v13M846.7 1284.6h13M1348.2 1284.6h-13M1097.5 1597.5v-13M1097.5 1096.8v13M846.7 1347.2h13M1348.2 1347.2h-13M1160.1 1597.5v-13M1160.1 1096.8v13M846.7 1409.7h13M1348.2 1409.7h-13M1222.8 1597.5v-13M1222.8 1096.8v13M846.7 1472.3h13M1348.2 1472.3h-13M1285.5 1597.5v-13M1285.5 1096.8v13M846.7 1534.9h13M1348.2 1534.9h-13" stroke="#0e4d2e" stroke-width="2.8" fill="none"/>
<rect x="846.7" y="1096.8" width="501.5" height="500.7" fill="none" stroke="#0d2a1b" stroke-width="3"/>
<text class="s" x="826.2" y="1103.1" font-size="27.7" text-anchor="end">1.8</text>
<text class="s" x="826.2" y="1169.3" font-size="27.7" text-anchor="end">1.75</text>
<text class="s" x="826.2" y="1231.9" font-size="27.7" text-anchor="end">1.7</text>
<text class="s" x="826.2" y="1294.5" font-size="27.7" text-anchor="end">1.65</text>
<text class="s" x="826.2" y="1357.1" font-size="27.7" text-anchor="end">1.6</text>
<text class="s" x="826.2" y="1419.6" font-size="27.7" text-anchor="end">1.55</text>
<text class="s" x="826.2" y="1482.2" font-size="27.7" text-anchor="end">1.5</text>
<text class="s" x="826.2" y="1544.8" font-size="27.7" text-anchor="end">1.45</text>
<text class="s" x="826.2" y="1607.4" font-size="27.7" text-anchor="end">1.4</text>
<text class="s" x="846.4" y="1640.2" font-size="27.7" text-anchor="middle">0.1</text>
<text class="s" x="909.1" y="1640.2" font-size="27.7" text-anchor="middle">0.15</text>
<text class="s" x="971.8" y="1640.2" font-size="27.7" text-anchor="middle">0.2</text>
<text class="s" x="1034.5" y="1640.2" font-size="27.7" text-anchor="middle">0.25</text>
<text class="s" x="1097.2" y="1640.2" font-size="27.7" text-anchor="middle">0.3</text>
<text class="s" x="1159.8" y="1640.2" font-size="27.7" text-anchor="middle">0.35</text>
<text class="s" x="1222.5" y="1640.2" font-size="27.7" text-anchor="middle">0.4</text>
<text class="s" x="1285.2" y="1640.2" font-size="27.7" text-anchor="middle">0.45</text>
<text class="s" x="1347.9" y="1640.2" font-size="27.7" text-anchor="middle">0.5</text>
<text class="s" x="882.4" y="1195.3" font-size="28.5">Positive</text>
<text class="s" x="883" y="1228.8" font-size="28.5">dipole field</text>
<text class="s" x="1058.8" y="1235.5" font-size="28.5">Grain A</text>
<text class="s" x="1014.8" y="1411.3" font-size="28.5">Grain B</text>
<path d="M927 1243.5L977.3 1287.5" stroke="#000" stroke-width="2.4" fill="none"/><polygon points="991.7,1300.2 968.9,1289.8 978.4,1278.9" fill="#000"/>
<text class="s" x="732" y="1111.7" font-size="44.2">(f)</text>
<text class="s" x="1102.5" y="1675.1" font-size="34.8" text-anchor="middle">x (<tspan class="r">μ</tspan>m)</text>
<text class="s" transform="translate(752.3 1336.5) rotate(-90)" font-size="34.8" text-anchor="middle">y (<tspan class="r">μ</tspan>m)</text>
<rect x="1362.5" y="1093.9" width="25.3" height="503.1" fill="url(#cbar)" stroke="#000" stroke-width="2.5"/><path d="M1362.5 1135.7h7.6M1387.8 1135.7h-7.6M1362.5 1205.5h7.6M1387.8 1205.5h-7.6M1362.5 1275.4h7.6M1387.8 1275.4h-7.6M1362.5 1345.2h7.6M1387.8 1345.2h-7.6M1362.5 1415h7.6M1387.8 1415h-7.6M1362.5 1484.9h7.6M1387.8 1484.9h-7.6M1362.5 1554.8h7.6M1387.8 1554.8h-7.6" stroke="#000" stroke-width="1.4" fill="none"/>
<text class="s" x="1397.2" y="1145.2" font-size="27.5">1.5</text>
<text class="s" x="1397.2" y="1215.1" font-size="27.5">1</text>
<text class="s" x="1397.2" y="1285" font-size="27.5">0.5</text>
<text class="s" x="1397.2" y="1354.8" font-size="27.5">0</text>
<text class="s" x="1388.6" y="1424.6" font-size="27.5">-0.5</text>
<text class="s" x="1388.6" y="1494.5" font-size="27.5">-1</text>
<text class="s" x="1388.6" y="1564.3" font-size="27.5">-1.5</text>
<g transform="translate(1475.2 1386.4) rotate(-90)"><text class="s" x="0" y="0" font-size="32.5">H</text><text class="s" x="26.6" y="-18.5" font-size="20">z</text><text class="s" x="24.2" y="11" font-size="19.5">dip</text><text class="s" x="58.5" y="0" font-size="32.5">(T)</text></g>
</svg></body></html>
